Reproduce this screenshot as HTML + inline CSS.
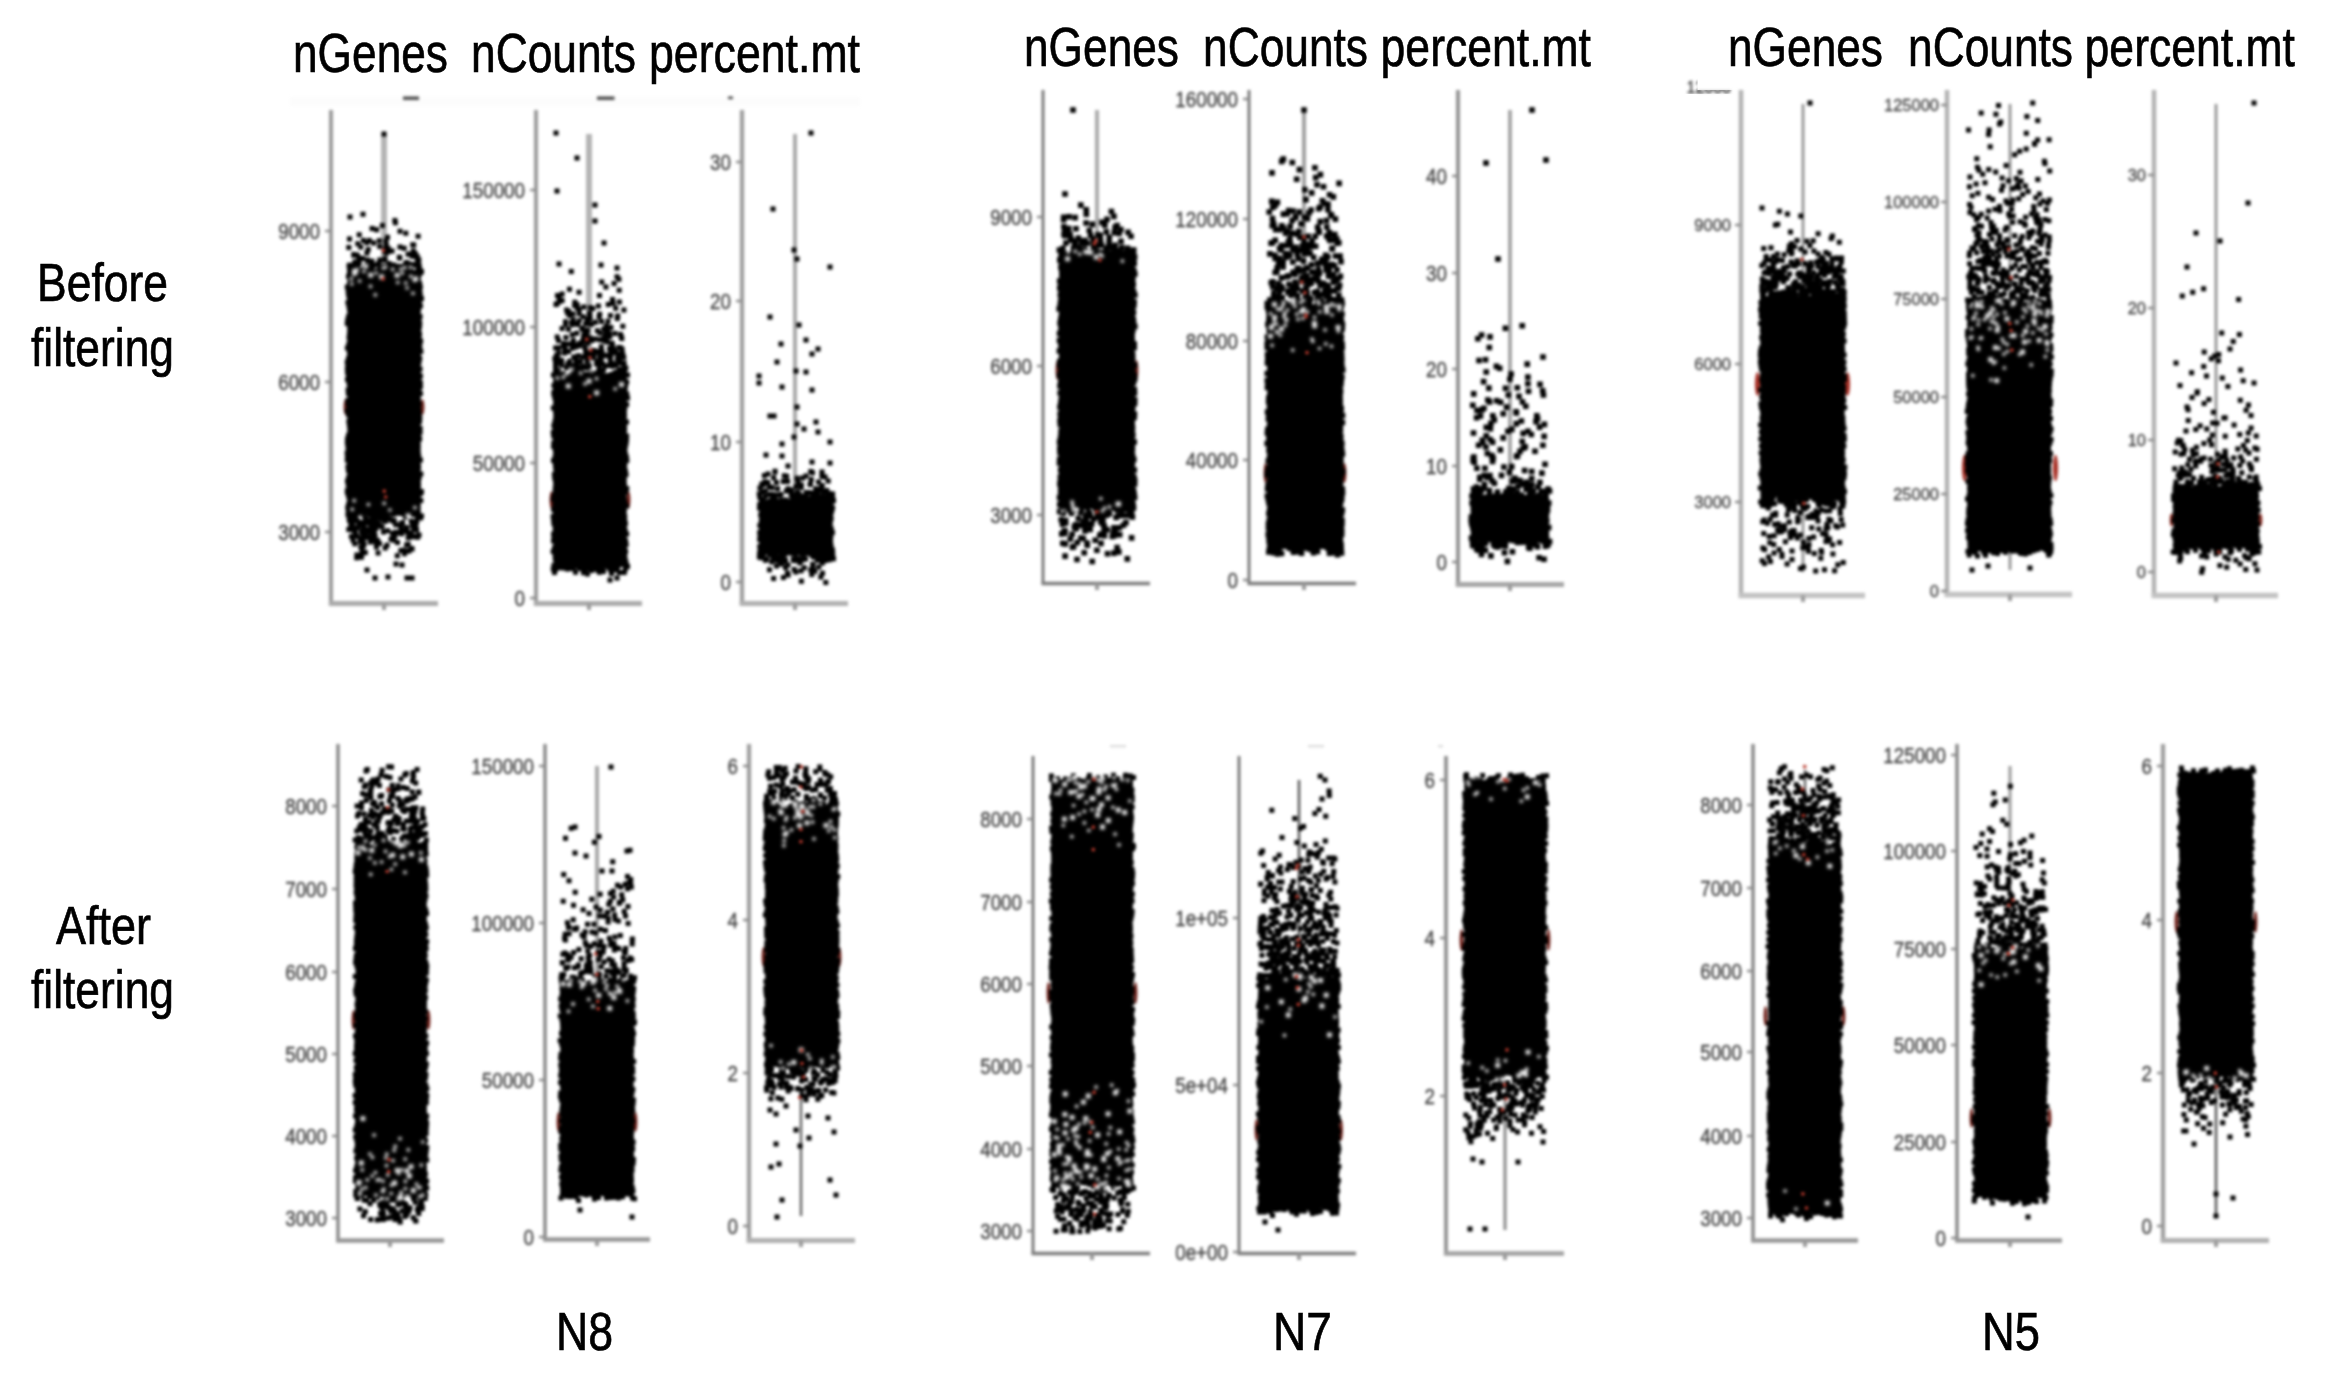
<!DOCTYPE html>
<html><head><meta charset="utf-8"><title>QC violin plots</title>
<style>
html,body{margin:0;padding:0;background:#fff}
body{width:2349px;height:1377px;overflow:hidden}
svg{display:block;font-family:"Liberation Sans",sans-serif}
.pl{filter:blur(1.55px)}
.ax{filter:blur(1.6px)}
.d{stroke:#000;stroke-linecap:square;fill:none}
.hl{filter:blur(0.9px)}
.h{stroke:#fff;stroke-opacity:.92;stroke-linecap:square;fill:none}
.r{stroke:#b8392c;stroke-width:3.2;stroke-linecap:square;fill:none}
.tl{filter:blur(1.8px);fill:#3c3c3c;stroke:#3c3c3c;stroke-width:0.3px;text-anchor:end}
.big{fill:#000;stroke:#000;stroke-width:0.7px}
</style></head><body>
<svg width="2349" height="1377" viewBox="0 0 2349 1377">
<rect width="2349" height="1377" fill="#fff"/>
<g class="ax"><path d="M331 110V604" stroke="#989898" stroke-width="3.8720000000000003" fill="none"/>
<path d="M328.8 603.5H438" stroke="#aaaaaa" stroke-width="4.872" fill="none"/>
<path d="M384 603.5v6.5" stroke="#9a9a9a" stroke-width="4"/>
<path d="M331 231h-6M331 382h-6M331 532h-6" stroke="#8c8c8c" stroke-width="2.4"/></g>
<g class="pl">
<ellipse cx="345.5" cy="407" rx="1.9" ry="7.700000000000001" fill="#6e1f18"/>
<ellipse cx="422.5" cy="407" rx="1.9" ry="7.700000000000001" fill="#6e1f18"/>
<path d="M384 134V300" stroke="#b4b4b4" stroke-width="6"/>
<path d="M347.5 293.6L351.5 296.2L355.5 295.3L359.5 291.5L363.5 291.3L367.5 291.6L371.5 294.4L375.5 292L379.5 296L383.5 295.6L387.5 298.8L391.5 297.9L395.5 292.2L399.5 293.5L403.5 292.4L407.5 296.1L411.5 295.4L415.5 291.5L419.5 296.4L420.5 295L420.5 491L419.5 491.6L415.5 493.4L411.5 494.5L407.5 492L403.5 490.3L399.5 488.5L395.5 494.1L391.5 492.7L387.5 494.6L383.5 491.8L379.5 487.4L375.5 493.2L371.5 488.4L367.5 494.3L363.5 491.5L359.5 490.9L355.5 492.1L351.5 494.4L347.5 493.8Z" fill="#000"/>
<path d="M347.5 264.4L351.5 265L355.5 264.6L359.5 269.9L363.5 266L367.5 265.3L371.5 264.7L375.5 270.7L379.5 271L383.5 269.4L387.5 266.3L391.5 265.9L395.5 266.3L399.5 267.7L403.5 265.3L407.5 267.6L411.5 266.1L415.5 271.7L419.5 271.8L420.5 268L420.5 306L419.5 306L415.5 306L411.5 306L407.5 306L403.5 306L399.5 306L395.5 306L391.5 306L387.5 306L383.5 306L379.5 306L375.5 306L371.5 306L367.5 306L363.5 306L359.5 306L355.5 306L351.5 306L347.5 306Z" fill="#000"/>
<path d="M347.5 480L351.5 480L355.5 480L359.5 480L363.5 480L367.5 480L371.5 480L375.5 480L379.5 480L383.5 480L387.5 480L391.5 480L395.5 480L399.5 480L403.5 480L407.5 480L411.5 480L415.5 480L419.5 480L420.5 480L420.5 518L419.5 516.2L415.5 517.6L411.5 514.5L407.5 514.7L403.5 517L399.5 515.5L395.5 514.9L391.5 514.4L387.5 519L383.5 520.5L379.5 517.9L375.5 519.9L371.5 520L367.5 514.5L363.5 519.7L359.5 515.3L355.5 521.2L351.5 521.6L347.5 519.8Z" fill="#000"/>
<path class="d" stroke-width="5.0" d="M348.2 292h0M419.4 292h0M348.7 295.5h0M418.5 295.5h0M349.8 299h0M419.8 299h0M348 302.5h0M419.4 302.5h0M348.9 306h0M420.4 306h0M349.6 309.5h0M418.5 309.5h0M350.4 313h0M417.9 313h0M348.6 316.5h0M420 316.5h0M347.7 320h0M419.1 320h0M347.3 323.5h0M419.7 323.5h0M349.7 327h0M419.4 327h0M350.1 330.5h0M418.5 330.5h0M349.5 334h0M419.5 334h0M349.1 337.5h0M419 337.5h0M350 341h0M420.6 341h0M348.8 344.5h0M419.7 344.5h0M347.4 348h0M419.8 348h0M349.3 351.5h0M420.8 351.5h0M349.9 355h0M418.4 355h0M348.5 358.5h0M419.7 358.5h0M347.3 362h0M419 362h0M347.8 365.5h0M417.9 365.5h0M347.4 369h0M420 369h0M347.6 372.5h0M418.3 372.5h0M348.5 376h0M420.4 376h0M347.5 379.5h0M419 379.5h0M349 383h0M420.4 383h0M349.9 386.5h0M420.4 386.5h0M348.1 390h0M418.9 390h0M348.4 393.5h0M420.4 393.5h0M350.4 397h0M418 397h0M347.8 400.5h0M418.3 400.5h0M348 404h0M419.1 404h0M349.1 407.5h0M418.4 407.5h0M347.2 411h0M418.9 411h0M348.4 414.5h0M419.4 414.5h0M350.3 418h0M419.8 418h0M348.9 421.5h0M419.5 421.5h0M349.4 425h0M417.7 425h0M350.2 428.5h0M420.1 428.5h0M350.1 432h0M420.1 432h0M348.5 435.5h0M418.8 435.5h0M347.5 439h0M419.6 439h0M347.4 442.5h0M417.7 442.5h0M347.9 446h0M418 446h0M348.3 449.5h0M417.7 449.5h0M347.2 453h0M418 453h0M347.5 456.5h0M418.7 456.5h0M347.3 460h0M420.4 460h0M349.2 463.5h0M418 463.5h0M348 467h0M418.6 467h0M348.4 470.5h0M417.9 470.5h0M350 474h0M420.8 474h0M348.7 477.5h0M419.1 477.5h0M347.5 481h0M417.8 481h0M348.3 484.5h0M418.4 484.5h0M349.9 488h0M418 488h0M347.3 491.5h0M420.6 491.5h0M349.5 294.4h0M353.5 295.7h0M357.5 296.2h0M361.5 290.6h0M365.5 292.1h0M369.5 294h0M373.5 296.4h0M377.5 293.4h0M381.5 295.9h0M385.5 295.9h0M389.5 298.4h0M393.5 299.6h0M397.5 293h0M401.5 295.2h0M405.5 292.6h0M409.5 295.9h0M413.5 297.2h0M417.5 293.9h0M421.5 298.4h0M349.5 492h0M353.5 492.6h0M357.5 490.5h0M361.5 491.1h0M365.5 490.7h0M369.5 494h0M373.5 489.3h0M377.5 494.1h0M381.5 487.4h0M385.5 491.9h0M389.5 493.2h0M393.5 490.3h0M397.5 493.5h0M401.5 486.2h0M405.5 487.9h0M409.5 489.7h0M413.5 494.2h0M417.5 493.6h0M421.5 491.8h0M363 214.2h0M394.9 220.6h0M395.4 222.8h0M382.4 225.4h0M372.1 228.6h0M376.6 229.8h0M400 231.3h0M359.2 234.8h0M405.8 233.3h0M418.1 236.3h0M387.5 237.3h0M349.5 238.9h0M385.9 240.9h0M379.3 240.7h0M363.5 240.5h0M369.3 240.5h0M366.9 242.8h0M357.8 243.8h0M373.6 242.9h0M412.7 244.8h0M413.7 245h0M386.3 245h0M379.7 246.4h0M348.8 247.6h0M360.7 246.9h0M400 247.1h0M385.3 249.1h0M404.2 248.2h0M388.3 248.5h0M368.2 249.5h0M388.4 251.5h0M413.3 250.9h0M392 251h0M384.9 251.4h0M386.4 253h0M415.3 253.4h0M410.7 253.9h0M366.9 253.1h0M408.1 254.3h0M357.1 254.9h0M353.7 254.5h0M353.7 255.3h0M412.2 256.3h0M399.3 257.3h0M358.7 257.8h0M417.2 256.4h0M416.1 256.8h0M418.8 259.7h0M360 258.9h0M385.1 258.7h0M362.4 258.6h0M399.8 258h0M379.8 260h0M372 261.2h0M384.9 260.1h0M418.4 261.6h0M417.5 260.2h0M367.4 260.1h0M367.7 262.3h0M378.5 263.8h0M406.6 262.5h0M359.1 263.8h0M389 263.4h0M354.9 262.1h0M378.7 264.1h0M415.1 265.3h0M405.4 264.2h0M409.3 264.1h0M409.8 264.9h0M372.6 265.1h0M414.3 264.5h0M385.9 266.5h0M356.3 266.3h0M352.1 266.4h0M370.7 266.6h0M402.4 266.6h0M384 266.4h0M373.1 266h0M366.3 266h0M387.6 268.4h0M382.2 269.9h0M356 269.6h0M379.2 269h0M407.8 268.8h0M384.5 269.4h0M418.3 268.7h0M407.6 269.4h0M349.5 265.3h0M353.5 264.9h0M357.5 266.9h0M361.5 270h0M365.5 266.3h0M369.5 264.3h0M373.5 265h0M377.5 271.4h0M381.5 271.7h0M385.5 269.1h0M389.5 267h0M393.5 265h0M397.5 266.3h0M401.5 267h0M405.5 265.7h0M409.5 266.7h0M413.5 265.2h0M417.5 271.8h0M421.5 271.6h0M349.1 266h0M419.2 266h0M349.7 269.5h0M419.7 269.5h0M349.6 273h0M420.4 273h0M348.5 276.5h0M418.6 276.5h0M350.4 280h0M418 280h0M349.6 283.5h0M419.6 283.5h0M347.3 287h0M420.3 287h0M350.1 290.5h0M419.6 290.5h0M349.6 294h0M420.2 294h0M349.5 520.6h0M353.5 520.1h0M357.5 520.6h0M361.5 513.7h0M365.5 518.5h0M369.5 514.5h0M373.5 520.8h0M377.5 517.6h0M381.5 518.5h0M385.5 519.8h0M389.5 518.8h0M393.5 514.3h0M397.5 513.3h0M401.5 513.1h0M405.5 517h0M409.5 513.4h0M413.5 514.4h0M417.5 516.7h0M421.5 515.9h0M347.8 490h0M418 490h0M347.9 493.5h0M420.5 493.5h0M348.8 497h0M418.2 497h0M350.2 500.5h0M420.8 500.5h0M348.7 504h0M418 504h0M347.8 507.5h0M417.8 507.5h0M348.3 511h0M417.8 511h0M348 514.5h0M418.4 514.5h0M349.1 518h0M420.4 518h0M394.3 520.6h0M357.6 520.5h0M393.7 521.4h0M356.5 520.1h0M385.7 521.2h0M376.1 520.4h0M391.2 520h0M369.9 520.9h0M416.6 521.3h0M411.2 521h0M365.2 520.5h0M416.7 521.4h0M370.3 520h0M383.9 521.3h0M366.8 523.3h0M414.2 522.5h0M350.9 522.7h0M378.4 523.4h0M362.6 523.6h0M401 523h0M363.1 523.9h0M370.6 523.6h0M364.9 522.4h0M402.5 522.6h0M416.1 523h0M361.8 522.4h0M378.1 523.3h0M358.9 524.8h0M363.6 525.9h0M358.6 524.1h0M352.8 524.8h0M412.3 525.8h0M400.5 526h0M414.6 524.7h0M361.7 525.9h0M401.5 524.1h0M395.7 524.8h0M375 524.7h0M360.5 524h0M373.5 527.9h0M357.3 527.9h0M363.2 526.7h0M406.8 527.6h0M379.2 526.1h0M382.1 526.7h0M413.8 526.4h0M374.4 527.8h0M350.7 526.8h0M406.1 527.5h0M351.4 526.1h0M352.9 527.8h0M401.6 529.8h0M372.6 528.5h0M416.5 529.2h0M367.1 529.4h0M371 528.6h0M348.8 529.5h0M413.6 529.3h0M415.5 528h0M365.1 529h0M416.4 529.9h0M375.9 528.5h0M383.5 531.9h0M361.5 531.6h0M400.9 531.6h0M403.4 531.2h0M371.8 530.6h0M374.2 531.6h0M354.1 530.4h0M402 530.5h0M353.1 530.1h0M387.7 530.7h0M411.2 534h0M367.3 532.2h0M355.3 533h0M398.9 532.9h0M365.1 532.8h0M392.5 533.3h0M401.6 533.7h0M395.7 532.2h0M408.2 532.6h0M375 535.5h0M362.6 534.5h0M365.9 534.3h0M411.3 535.2h0M371.7 534.8h0M419 535h0M364.9 535.6h0M394.9 536h0M355.8 534.9h0M408.2 537.8h0M351.4 536.6h0M357 536.4h0M417.6 537.2h0M414.5 536.7h0M410 536.9h0M367 537.6h0M415.6 536.2h0M392.5 538.4h0M374.7 538.3h0M363 538.5h0M391.1 539.3h0M362.9 538h0M371.7 539.4h0M361.6 538.6h0M362.9 539.6h0M353 540.2h0M376.6 541.1h0M393.9 540.2h0M360.1 541.4h0M377.6 540.6h0M370.3 541.9h0M370.7 541.1h0M373.9 540.8h0M376 542.4h0M397.5 542.4h0M354.8 543.8h0M379.5 543.6h0M406.6 544.9h0M364.1 544h0M387 545.3h0M408.2 544.2h0M376.4 547h0M363.1 546.6h0M385.2 547.9h0M360.9 547h0M411.5 548.4h0M362 549.9h0M412.1 549h0M409.1 550.8h0M407.8 551.2h0M403.1 550.3h0M400.9 550.4h0M404.4 553.7h0M365.3 552.4h0M378.1 553h0M361.8 554.5h0M397.3 555.8h0M356.9 555.1h0M356.7 557.7h0M361.4 557.2h0M384 134h0M350 217h0M367 570h0M375 578h0M388 577h0M407 578h0M412 578h0M396 564h0M402 565h0"/>
<g class="hl">
<path class="h" stroke-width="3.2" d="M385.6 267h0M404.7 267.7h0M410.7 267.4h0M357.1 269.7h0M392.7 269.3h0M383.3 268h0M400.9 269h0M355.1 270.5h0M364 271.5h0M376 273h0M402.2 273.2h0M354.1 274.5h0M410.8 276.4h0M351.2 278.9h0M414.3 280.4h0M359.6 281h0M405.8 283h0M397.8 282.5h0M351.7 284h0M370.5 286.3h0M407.1 288h0M413 293.4h0M375.3 294.8h0M354.2 500.6h0M384.2 503.3h0M368.4 504.5h0M414.9 507.7h0M352.2 509.4h0M389.9 510h0M360.5 517h0M399.1 519.3h0"/>
<path class="h" stroke-width="4.8" d="M365.6 266.1h0M354.5 271.5h0M355.3 272.3h0M370.7 275.1h0M397.1 275.4h0M381.6 276.9h0M415.8 278.9h0M408.2 515.9h0"/>
</g>
<path class="r" d="M383.4 250.4h0M383.2 278.8h0M384.3 491.2h0M385.7 497h0"/>
</g>
<g class="tl" font-size="20">
<text transform="translate(320 238.6) scale(0.94 1.1)">9000</text>
<text transform="translate(320 389.6) scale(0.94 1.1)">6000</text>
<text transform="translate(320 539.6) scale(0.94 1.1)">3000</text>
</g>
<g class="ax"><path d="M536 110V604" stroke="#989898" stroke-width="3.8720000000000003" fill="none"/>
<path d="M533.8 603.5H642" stroke="#aaaaaa" stroke-width="4.872" fill="none"/>
<path d="M589 603.5v6.5" stroke="#9a9a9a" stroke-width="4"/>
<path d="M536 190h-6M536 327h-6M536 463h-6M536 598h-6" stroke="#8c8c8c" stroke-width="2.4"/></g>
<g class="pl">
<ellipse cx="551.5" cy="500" rx="1.9" ry="8.8" fill="#6e1f18"/>
<ellipse cx="628.5" cy="500" rx="1.9" ry="8.8" fill="#6e1f18"/>
<path d="M589 134V370" stroke="#b4b4b4" stroke-width="6"/>
<path d="M553.5 398L557.5 396.4L561.5 396.4L565.5 396.6L569.5 393.2L573.5 396.9L577.5 399.1L581.5 396.7L585.5 396.8L589.5 394L593.5 393.7L597.5 397.1L601.5 398.1L605.5 398.9L609.5 397.1L613.5 397L617.5 400.6L621.5 399.9L625.5 398.9L626.5 397L626.5 570L625.5 567.5L621.5 566L617.5 572.9L613.5 571L609.5 573.6L605.5 567.8L601.5 573.3L597.5 573.7L593.5 570.5L589.5 570.6L585.5 573.1L581.5 572.6L577.5 567.8L573.5 572.1L569.5 569L565.5 570.5L561.5 568.7L557.5 569.3L553.5 571.6Z" fill="#000"/>
<path d="M553.5 369.3L557.5 369.1L561.5 372.3L565.5 373.6L569.5 372.3L573.5 370.5L577.5 368.3L581.5 366.5L585.5 373.8L589.5 371.6L593.5 372.6L597.5 368.7L601.5 370.8L605.5 373.8L609.5 372.7L613.5 370.8L617.5 368.5L621.5 369.4L625.5 373.1L626.5 370L626.5 408L625.5 408L621.5 408L617.5 408L613.5 408L609.5 408L605.5 408L601.5 408L597.5 408L593.5 408L589.5 408L585.5 408L581.5 408L577.5 408L573.5 408L569.5 408L565.5 408L561.5 408L557.5 408L553.5 408Z" fill="#000"/>
<path class="d" stroke-width="5.0" d="M553.8 394h0M626.7 394h0M554.8 397.5h0M626.7 397.5h0M556.2 401h0M624 401h0M555.8 404.5h0M626.6 404.5h0M553.4 408h0M624.7 408h0M555.7 411.5h0M624 411.5h0M556.2 415h0M624.4 415h0M555.9 418.5h0M624 418.5h0M554.9 422h0M626.5 422h0M553.9 425.5h0M624.4 425.5h0M554.9 429h0M624.6 429h0M553.3 432.5h0M624.1 432.5h0M553.7 436h0M626.6 436h0M555.4 439.5h0M626.5 439.5h0M553.8 443h0M626.1 443h0M553.6 446.5h0M625.3 446.5h0M555.3 450h0M624.7 450h0M556.1 453.5h0M625.3 453.5h0M555.1 457h0M626.4 457h0M553.5 460.5h0M626.8 460.5h0M555.3 464h0M624.8 464h0M555.8 467.5h0M624.4 467.5h0M556.5 471h0M625.4 471h0M554.4 474.5h0M626 474.5h0M554.7 478h0M624.1 478h0M555.7 481.5h0M623.7 481.5h0M555.9 485h0M624.3 485h0M555.3 488.5h0M626.7 488.5h0M555.1 492h0M625.7 492h0M554.2 495.5h0M623.5 495.5h0M553.3 499h0M624 499h0M555.2 502.5h0M624.9 502.5h0M554.9 506h0M626.5 506h0M553.6 509.5h0M624.2 509.5h0M555.4 513h0M623.6 513h0M553.2 516.5h0M624.7 516.5h0M553.6 520h0M624.7 520h0M553.9 523.5h0M625.4 523.5h0M555.1 527h0M624.2 527h0M555.3 530.5h0M625.1 530.5h0M553.6 534h0M626.6 534h0M554 537.5h0M624 537.5h0M553.5 541h0M625.6 541h0M556.1 544.5h0M626.1 544.5h0M554.5 548h0M624.4 548h0M553.2 551.5h0M625.6 551.5h0M555.1 555h0M624.7 555h0M555.3 558.5h0M625 558.5h0M556.3 562h0M625.9 562h0M554 565.5h0M626.5 565.5h0M553.3 569h0M625.3 569h0M554.5 572.5h0M624.3 572.5h0M555.5 397.2h0M559.5 398.1h0M563.5 395.4h0M567.5 397.5h0M571.5 395.5h0M575.5 396.4h0M579.5 398.8h0M583.5 397.8h0M587.5 397.6h0M591.5 395.3h0M595.5 395.6h0M599.5 396.7h0M603.5 398.2h0M607.5 398.9h0M611.5 396.3h0M615.5 399.1h0M619.5 402.3h0M623.5 401.4h0M627.5 397.9h0M555.5 569.6h0M559.5 567.7h0M563.5 568.1h0M567.5 568.9h0M571.5 568.5h0M575.5 572.3h0M579.5 568.4h0M583.5 572.8h0M587.5 574h0M591.5 570.4h0M595.5 568.8h0M599.5 572.2h0M603.5 571.4h0M607.5 566.3h0M611.5 573.6h0M615.5 570h0M619.5 572.4h0M623.5 564.3h0M627.5 566.6h0M617 268h0M571.3 271.5h0M617 276.7h0M618.9 279.3h0M601.7 282h0M614.1 283.4h0M605.9 287.1h0M569.5 289.2h0M619.2 290.3h0M562.1 293.9h0M579 292.3h0M557.5 295.4h0M599.5 295.4h0M559.2 297.2h0M612.5 299.6h0M559.2 301.7h0M619.4 301.9h0M562.1 300.4h0M556.9 303.7h0M612.2 303.3h0M613.1 303.3h0M574.9 302.2h0M608.3 304.4h0M577.2 304.8h0M556 304.5h0M574.6 305.4h0M577.3 307.9h0M590.3 307.7h0M598.4 306.1h0M583.8 306.9h0M579.1 309.4h0M592.7 308.4h0M615.7 308.2h0M566.6 310h0M568.8 311.5h0M623.9 310h0M589.4 313.6h0M567.6 313h0M579.2 313.7h0M573 313.9h0M569.7 315.4h0M589.9 314.2h0M599.7 314.2h0M610.4 315.4h0M599.1 316.7h0M583 316.8h0M617.7 316.2h0M617.6 316.1h0M573.2 319.8h0M590.1 318.8h0M617.3 318.5h0M587.2 319.1h0M608 321.3h0M579.2 320.7h0M565.5 321.7h0M601.5 321.5h0M585.7 323.5h0M595.6 322.3h0M587.3 323.8h0M571.4 322.4h0M575.9 323.4h0M565.5 324.3h0M572.1 324.7h0M591.6 324.3h0M577.8 324.4h0M606.2 326.2h0M622.8 326.2h0M581.8 328h0M610.9 327.5h0M568.4 329.3h0M562.1 328.4h0M582.1 328.1h0M582.8 329.6h0M603.7 329h0M587.4 330.3h0M597.4 330.8h0M607.1 331.8h0M585 331.1h0M607.7 330.8h0M605.8 333.8h0M609.5 333.4h0M615 333.4h0M600 332.9h0M576.7 333.3h0M584.3 335.6h0M605.1 335.3h0M572.3 334.8h0M586.8 335.2h0M583.6 335.4h0M620.5 334.4h0M609.8 336.8h0M589.3 337.9h0M557.2 337.1h0M565.9 337.6h0M621.3 337h0M595.3 339.1h0M605.4 339h0M599.9 339.7h0M591.5 338.8h0M621.8 338.4h0M603.1 338.8h0M558.5 340.5h0M582.9 340h0M584.2 340.8h0M604.1 340.7h0M573.3 340.4h0M607.1 341.9h0M591.9 340.4h0M582.3 342.4h0M563.7 343.6h0M612 343.3h0M587.8 343.1h0M570.5 343.9h0M579.6 343.3h0M612.4 344.9h0M575.4 345.1h0M563.4 345.7h0M579.7 345.7h0M573.5 344.8h0M572.5 344.9h0M567.7 344h0M574.5 346.5h0M575.9 347h0M584.9 347.3h0M601.3 346.7h0M620.4 347.7h0M558.6 347.7h0M618.8 347.6h0M613.5 349.3h0M555.6 348h0M622.1 349.3h0M572.3 348.2h0M564.6 348.5h0M609.6 348.7h0M565.3 349.8h0M610.7 348.3h0M597.7 351.6h0M602 351.8h0M610.5 351.7h0M568.5 351.4h0M592.2 351.5h0M585.6 351.8h0M593.9 350.5h0M564.4 353h0M558.7 352.9h0M564.8 353h0M589.9 353.1h0M615.8 352h0M614.2 352.9h0M594.4 353.3h0M614.2 352.7h0M622.7 354.2h0M599.7 355.3h0M556.5 355.2h0M603 355.9h0M578 356h0M590.8 355h0M618.2 354.1h0M605.5 355.3h0M578.5 355.7h0M588.2 357.1h0M609.2 356.4h0M585.4 356.8h0M593.8 357.7h0M575.3 357.7h0M583.2 357h0M573.8 357h0M623.7 357.3h0M610.7 356.7h0M575.7 359.2h0M599.6 359.6h0M557.3 359.4h0M617.4 359.1h0M558 358.6h0M554.9 358.4h0M619.9 359.2h0M601.2 359.6h0M619.1 359.2h0M599 361.4h0M596.8 361.4h0M569.6 361.3h0M587 361.5h0M561.7 360.4h0M557.1 361.5h0M619.4 361.3h0M580.7 361.6h0M610.3 361.1h0M575.9 362.8h0M577.1 362.9h0M600.1 363.9h0M558.4 363.1h0M557.3 362.2h0M612 363.2h0M619.7 362.9h0M555.5 362.8h0M596.5 363.9h0M624.1 363h0M561.7 365.3h0M569.6 364.3h0M555.6 364h0M603 364.2h0M623.1 364.2h0M616.2 364.3h0M555.8 365.4h0M571.7 365.5h0M567.8 364.1h0M609.5 365.4h0M615.2 365.5h0M599.1 367.4h0M587.2 367.9h0M572.5 367.9h0M605.4 366h0M555.5 367.3h0M612.5 366.2h0M576.6 367.5h0M566.3 367.7h0M589 366.1h0M580.6 367.1h0M585.6 367.4h0M555.5 369.7h0M559.5 370.5h0M563.5 373.4h0M567.5 375.7h0M571.5 374.1h0M575.5 370.5h0M579.5 367.3h0M583.5 366.4h0M587.5 374.3h0M591.5 372.7h0M595.5 374.5h0M599.5 370.8h0M603.5 370h0M607.5 375.7h0M611.5 374.5h0M615.5 372.8h0M619.5 369.5h0M623.5 369.4h0M627.5 375.1h0M555.9 368h0M625.8 368h0M556.2 371.5h0M624.6 371.5h0M553.5 375h0M625.3 375h0M555.8 378.5h0M624.2 378.5h0M555.7 382h0M626.6 382h0M554 385.5h0M625.5 385.5h0M555.4 389h0M625 389h0M553.9 392.5h0M624.3 392.5h0M555.7 396h0M626.1 396h0M556 133h0M577 158h0M557 191h0M595 205h0M595 221h0M604 243h0M559 264h0M601 265h0M617 578h0M610 580h0"/>
<g class="hl">
<path class="h" stroke-width="3.2" d="M562 369.6h0M571.8 369.2h0M591.5 371h0M569.1 372.4h0M580.7 373.1h0M566.1 374.1h0M563.2 377.3h0M596.6 378.7h0M557.4 378.1h0M585 383.9h0M615.2 388.9h0"/>
<path class="h" stroke-width="4.8" d="M589.1 381.1h0M621.5 384.5h0M568.3 386.2h0M596.7 392.8h0"/>
</g>
<path class="r" d="M586.7 339.4h0M590.8 350.2h0M589.9 357.6h0M589.8 396.7h0"/>
</g>
<g class="tl" font-size="20">
<text transform="translate(525 197.6) scale(0.94 1.1)">150000</text>
<text transform="translate(525 334.6) scale(0.94 1.1)">100000</text>
<text transform="translate(525 470.6) scale(0.94 1.1)">50000</text>
<text transform="translate(525 605.6) scale(0.94 1.1)">0</text>
</g>
<g class="ax"><path d="M742 110V604" stroke="#9e9e9e" stroke-width="4.224" fill="none"/>
<path d="M739.6 603.5H848" stroke="#b0b0b0" stroke-width="5.224" fill="none"/>
<path d="M795 603.5v6.5" stroke="#9a9a9a" stroke-width="4"/>
<path d="M742 162h-6M742 301h-6M742 442h-6M742 582h-6" stroke="#8c8c8c" stroke-width="2.4"/></g>
<g class="pl">
<path d="M795 134V500" stroke="#a8a8a8" stroke-width="4"/>
<path d="M759.5 498.4L763.5 496.6L767.5 500.7L771.5 494.8L775.5 495L779.5 500.2L783.5 499.7L787.5 499.3L791.5 498.2L795.5 493.4L799.5 499L803.5 498.4L807.5 497.7L811.5 493.8L815.5 495.1L819.5 496.9L823.5 494.9L827.5 498.4L831.5 498.7L832.5 497L832.5 557L831.5 559.4L827.5 560.9L823.5 559.9L819.5 559.7L815.5 560L811.5 558.4L807.5 554.9L803.5 558.6L799.5 553.5L795.5 559.8L791.5 553.1L787.5 555.3L783.5 560.6L779.5 553.8L775.5 558.2L771.5 560.7L767.5 553.1L763.5 559.7L759.5 557.9Z" fill="#000"/>
<path class="d" stroke-width="5.0" d="M759.3 494h0M832.6 494h0M759.9 497.5h0M832.6 497.5h0M762.1 501h0M832.4 501h0M759.7 504.5h0M831 504.5h0M759.5 508h0M832.6 508h0M762 511.5h0M831.6 511.5h0M760.7 515h0M830.6 515h0M761.9 518.5h0M831.1 518.5h0M761.3 522h0M830 522h0M759.9 525.5h0M829.7 525.5h0M761.6 529h0M831.3 529h0M759.7 532.5h0M832.4 532.5h0M760.1 536h0M830.9 536h0M759.7 539.5h0M830.4 539.5h0M762 543h0M830.6 543h0M759.8 546.5h0M831.1 546.5h0M760.2 550h0M832.5 550h0M759.6 553.5h0M832.7 553.5h0M759.4 557h0M832.5 557h0M761.5 499.7h0M765.5 496.3h0M769.5 501.4h0M773.5 494.8h0M777.5 494.9h0M781.5 499.9h0M785.5 500h0M789.5 501.8h0M793.5 500.7h0M797.5 495.7h0M801.5 498.4h0M805.5 498.4h0M809.5 499.9h0M813.5 493h0M817.5 496.6h0M821.5 496.9h0M825.5 497.3h0M829.5 497.5h0M833.5 500.6h0M761.5 557.7h0M765.5 560.2h0M769.5 554.1h0M773.5 558.8h0M777.5 557.3h0M781.5 554.1h0M785.5 560.1h0M789.5 553.1h0M793.5 553.4h0M797.5 558.8h0M801.5 554h0M805.5 559h0M809.5 553.2h0M813.5 556.9h0M817.5 560.3h0M821.5 560.4h0M825.5 560.5h0M829.5 559.8h0M833.5 558.7h0M775.1 471.2h0M810.8 471.6h0M774.9 472.1h0M812.5 472.8h0M764.4 475.6h0M784.3 475.7h0M821.9 475h0M825.1 477h0M822.4 476.5h0M773.7 477.7h0M786.6 476.3h0M802.7 478h0M797.4 478.9h0M797.1 478.2h0M811.2 479.6h0M783.3 481.4h0M787.6 481.5h0M764.8 481.7h0M828.2 481h0M798.2 483.1h0M762 483.9h0M776.4 482.4h0M767.8 482.5h0M818.5 482.1h0M810.1 484.4h0M761.8 485.2h0M801.4 485h0M810.4 484.2h0M822.2 485.4h0M763.7 484.2h0M796.1 486.6h0M769.2 486.8h0M770.2 487.2h0M821.6 486.3h0M801.2 487.5h0M772.2 487.7h0M788.1 488.8h0M820.1 489.1h0M788.6 489.9h0M815.7 488.7h0M777.6 488.7h0M791.4 490h0M825.3 491.6h0M820.7 490.1h0M797.2 491.9h0M826.8 490.5h0M790.5 491.3h0M786.4 491.1h0M765.4 490.9h0M762 492.3h0M829.3 493.6h0M827 493.3h0M818 493.8h0M823.3 492.1h0M806.1 492.5h0M808.7 492.5h0M799 493.8h0M778.3 495h0M791.3 495.9h0M780.9 494.6h0M806.5 494.2h0M802.7 495.9h0M797 494.5h0M793.6 495.1h0M771 494.2h0M769.8 494.6h0M781 558.5h0M766.7 559.1h0M820.1 559.2h0M801 559.3h0M774.8 559.4h0M793.2 559.1h0M793.8 560.6h0M777.7 560.4h0M796.9 560.8h0M802.1 560h0M785.5 561.7h0M800 563h0M780.7 564h0M781.5 563.5h0M771.8 562.1h0M822.4 562.9h0M788 564.9h0M812.7 564.2h0M776.5 565.9h0M812.9 564.3h0M785.5 567.4h0M804.3 567.7h0M818.8 567h0M813 567.5h0M794.2 569.6h0M810.8 569.8h0M769.5 569.7h0M814.9 571.2h0M795.8 571.9h0M801.1 570.8h0M822.5 573.2h0M787.4 572.9h0M811.8 574.6h0M788.2 575.1h0M783.4 577.6h0M820.8 577h0M773.6 578.6h0M801.4 581.2h0M825.8 582.6h0M811 133h0M773 209h0M794 250h0M797 259h0M830 267h0M770 317h0M799 325h0M781 344h0M806 340h0M818 349h0M812 354h0M777 362h0M796 371h0M806 372h0M759 376h0M759 383h0M782 387h0M812 390h0M797 407h0M770 416h0M774 416h0M797 424h0M804 429h0M816 422h0M818 432h0M830 442h0M782 444h0M794 437h0M766 455h0M782 456h0M830 463h0M822 472h0M768 474h0M806 476h0M760 488h0M788 466h0M812 462h0"/>
</g>
<g class="tl" font-size="20">
<text transform="translate(731 169.6) scale(0.94 1.1)">30</text>
<text transform="translate(731 308.6) scale(0.94 1.1)">20</text>
<text transform="translate(731 449.6) scale(0.94 1.1)">10</text>
<text transform="translate(731 589.6) scale(0.94 1.1)">0</text>
</g>
<g class="ax"><path d="M1043 90V584" stroke="#696969" stroke-width="2.64" fill="none"/>
<path d="M1041.5 583.5H1150" stroke="#7b7b7b" stroke-width="3.64" fill="none"/>
<path d="M1097 583.5v6.5" stroke="#9a9a9a" stroke-width="4"/>
<path d="M1043 217h-6M1043 366h-6M1043 515h-6" stroke="#8c8c8c" stroke-width="2.4"/></g>
<g class="pl">
<ellipse cx="1057.5" cy="370" rx="1.9" ry="9.9" fill="#6e1f18"/>
<ellipse cx="1136.5" cy="370" rx="1.9" ry="9.9" fill="#6e1f18"/>
<path d="M1097 110V262" stroke="#aaaaaa" stroke-width="4"/>
<path d="M1059.5 265.7L1063.5 266.7L1067.5 262.4L1071.5 259.1L1075.5 263.5L1079.5 266.4L1083.5 263.3L1087.5 263.1L1091.5 264.5L1095.5 261.9L1099.5 261.8L1103.5 264.4L1107.5 259.8L1111.5 262.2L1115.5 263.6L1119.5 266.7L1123.5 262.5L1127.5 267L1131.5 263.2L1134.5 263L1134.5 495L1131.5 492.5L1127.5 496.3L1123.5 494L1119.5 495.1L1115.5 492L1111.5 494.5L1107.5 496L1103.5 494.8L1099.5 491.4L1095.5 494.2L1091.5 495.9L1087.5 494.9L1083.5 491L1079.5 492.8L1075.5 495L1071.5 498.6L1067.5 491.7L1063.5 497.4L1059.5 492.3Z" fill="#000"/>
<path d="M1059.5 249.3L1063.5 251.5L1067.5 255.8L1071.5 248.7L1075.5 248.3L1079.5 251.5L1083.5 249.5L1087.5 253.8L1091.5 248L1095.5 254.7L1099.5 254.8L1103.5 254.3L1107.5 251.4L1111.5 250.3L1115.5 253.3L1119.5 252.1L1123.5 251.4L1127.5 250.7L1131.5 251.5L1134.5 252L1134.5 274L1131.5 274L1127.5 274L1123.5 274L1119.5 274L1115.5 274L1111.5 274L1107.5 274L1103.5 274L1099.5 274L1095.5 274L1091.5 274L1087.5 274L1083.5 274L1079.5 274L1075.5 274L1071.5 274L1067.5 274L1063.5 274L1059.5 274Z" fill="#000"/>
<path d="M1059.5 484L1063.5 484L1067.5 484L1071.5 484L1075.5 484L1079.5 484L1083.5 484L1087.5 484L1091.5 484L1095.5 484L1099.5 484L1103.5 484L1107.5 484L1111.5 484L1115.5 484L1119.5 484L1123.5 484L1127.5 484L1131.5 484L1134.5 484L1134.5 510L1131.5 506.9L1127.5 510.6L1123.5 508.3L1119.5 511.6L1115.5 512.3L1111.5 509.2L1107.5 513.9L1103.5 511L1099.5 512.1L1095.5 513.5L1091.5 507.8L1087.5 512.9L1083.5 507.8L1079.5 509.5L1075.5 506.3L1071.5 512.6L1067.5 510.9L1063.5 507.4L1059.5 513.2Z" fill="#000"/>
<path class="d" stroke-width="5.6" d="M1059.8 260h0M1132.5 260h0M1062.4 263.5h0M1134.2 263.5h0M1060.9 267h0M1131.9 267h0M1062.2 270.5h0M1133.8 270.5h0M1061.9 274h0M1134.8 274h0M1062.1 277.5h0M1132.9 277.5h0M1059.7 281h0M1132.5 281h0M1060.9 284.5h0M1133.2 284.5h0M1059.8 288h0M1132.1 288h0M1061.3 291.5h0M1133.5 291.5h0M1060.4 295h0M1134.8 295h0M1061.3 298.5h0M1131.6 298.5h0M1060.6 302h0M1134.1 302h0M1060.2 305.5h0M1133.8 305.5h0M1059.2 309h0M1132.5 309h0M1062 312.5h0M1133.4 312.5h0M1061.4 316h0M1132.1 316h0M1060.8 319.5h0M1133.3 319.5h0M1060.1 323h0M1133.6 323h0M1061 326.5h0M1134.8 326.5h0M1061.1 330h0M1132.9 330h0M1059.6 333.5h0M1132 333.5h0M1061.7 337h0M1131.9 337h0M1059.5 340.5h0M1132.1 340.5h0M1060.9 344h0M1134.2 344h0M1061.2 347.5h0M1134.2 347.5h0M1059.4 351h0M1131.5 351h0M1061.7 354.5h0M1132.6 354.5h0M1061.6 358h0M1132.7 358h0M1059.8 361.5h0M1132.4 361.5h0M1059.5 365h0M1134.5 365h0M1061.1 368.5h0M1132.7 368.5h0M1060.7 372h0M1132.8 372h0M1059.4 375.5h0M1134.4 375.5h0M1061.1 379h0M1134.7 379h0M1060.7 382.5h0M1133.5 382.5h0M1060 386h0M1131.6 386h0M1062.3 389.5h0M1134.3 389.5h0M1060.2 393h0M1134.5 393h0M1061.9 396.5h0M1132.5 396.5h0M1061.2 400h0M1134.7 400h0M1060.8 403.5h0M1134.6 403.5h0M1060 407h0M1132.8 407h0M1061.6 410.5h0M1132.2 410.5h0M1060.2 414h0M1134.4 414h0M1060.8 417.5h0M1134.1 417.5h0M1060 421h0M1132.1 421h0M1060.4 424.5h0M1132.1 424.5h0M1062.4 428h0M1132.5 428h0M1061.1 431.5h0M1131.9 431.5h0M1061 435h0M1132.8 435h0M1060.5 438.5h0M1131.7 438.5h0M1059.6 442h0M1134.2 442h0M1060.4 445.5h0M1132.3 445.5h0M1059.8 449h0M1132.4 449h0M1060 452.5h0M1131.6 452.5h0M1061.4 456h0M1132.6 456h0M1059.7 459.5h0M1133.8 459.5h0M1059.5 463h0M1132.4 463h0M1062 466.5h0M1131.9 466.5h0M1060.7 470h0M1134.3 470h0M1061.9 473.5h0M1132 473.5h0M1060.4 477h0M1133.9 477h0M1060.4 480.5h0M1134.7 480.5h0M1059.9 484h0M1134.6 484h0M1060.9 487.5h0M1132.3 487.5h0M1060.7 491h0M1131.9 491h0M1061.5 494.5h0M1132.4 494.5h0M1061.5 267.9h0M1065.5 267.7h0M1069.5 262.7h0M1073.5 258.9h0M1077.5 264.6h0M1081.5 266.1h0M1085.5 265.4h0M1089.5 262.6h0M1093.5 265.3h0M1097.5 262.8h0M1101.5 261.8h0M1105.5 266.1h0M1109.5 260.1h0M1113.5 263.5h0M1117.5 264.6h0M1121.5 266.8h0M1125.5 262.9h0M1129.5 266.3h0M1133.5 262.9h0M1061.5 490.3h0M1065.5 497.2h0M1069.5 490.4h0M1073.5 499.2h0M1077.5 494.1h0M1081.5 492.5h0M1085.5 490.3h0M1089.5 494.8h0M1093.5 496.7h0M1097.5 494.2h0M1101.5 491.6h0M1105.5 495.4h0M1109.5 494.5h0M1113.5 494.5h0M1117.5 491.5h0M1121.5 492.9h0M1125.5 492.3h0M1129.5 494.2h0M1133.5 490.5h0M1080.8 205.1h0M1086.2 209.8h0M1111.4 211.5h0M1086.3 214.3h0M1069.1 216.8h0M1113.9 216.4h0M1063.7 217.3h0M1075.1 217.6h0M1063.6 219.6h0M1107 219.4h0M1102.1 222.4h0M1092.3 224.4h0M1086.1 223h0M1117 225.6h0M1063.9 226.7h0M1104.8 225.1h0M1068.8 228.6h0M1076 228.8h0M1115.1 227.2h0M1089.3 230.5h0M1120.8 229.6h0M1067.3 230.9h0M1128.1 232.4h0M1114.3 232.7h0M1106.3 231.9h0M1064.7 232.4h0M1097.9 234.9h0M1070 234.5h0M1064 234.4h0M1119.1 233.5h0M1131 236.3h0M1100.2 235.5h0M1065.1 235.7h0M1090.6 235.4h0M1070.7 238.4h0M1109.3 237.5h0M1078.3 238h0M1093 238.9h0M1082.5 240.8h0M1071.1 240.1h0M1085 240.6h0M1100.5 240.5h0M1109.1 242.2h0M1094.2 242.5h0M1121 241.2h0M1081.7 241.7h0M1075.7 241.1h0M1075.1 244.4h0M1093.2 243.2h0M1084.3 243.9h0M1087.1 243.3h0M1066 243h0M1115.1 245.2h0M1112.7 247h0M1101.6 245.2h0M1096.2 245.9h0M1074.5 246.1h0M1127.4 248.3h0M1106.2 248.9h0M1108 247.5h0M1078.6 247.3h0M1062.8 248.5h0M1121.6 247.6h0M1107 250.7h0M1127.9 249.3h0M1117.6 250.7h0M1114.5 249.7h0M1074.2 250.7h0M1084 249.7h0M1087.5 252.7h0M1078.1 251.1h0M1101.8 252.3h0M1120.1 252.4h0M1126.3 252.9h0M1096.6 252h0M1061.5 250.6h0M1065.5 253.4h0M1069.5 257.9h0M1073.5 248.3h0M1077.5 248.4h0M1081.5 252.1h0M1085.5 250.5h0M1089.5 254h0M1093.5 247.7h0M1097.5 254h0M1101.5 255h0M1105.5 254.9h0M1109.5 253.8h0M1113.5 252.4h0M1117.5 255.3h0M1121.5 254.5h0M1125.5 253.7h0M1129.5 251.9h0M1133.5 253.3h0M1059.4 250h0M1133.7 250h0M1061.2 253.5h0M1132.5 253.5h0M1061.1 257h0M1134.6 257h0M1060.8 260.5h0M1133.6 260.5h0M1061.5 512h0M1065.5 505.3h0M1069.5 509.9h0M1073.5 510.4h0M1077.5 504.3h0M1081.5 509.9h0M1085.5 506.2h0M1089.5 512.7h0M1093.5 506.1h0M1097.5 512.2h0M1101.5 510.2h0M1105.5 511.6h0M1109.5 513.6h0M1113.5 507.7h0M1117.5 510h0M1121.5 510.1h0M1125.5 509.2h0M1129.5 509.5h0M1133.5 507.5h0M1061 494h0M1134.1 494h0M1059.6 497.5h0M1134.6 497.5h0M1061.4 501h0M1132.3 501h0M1059.8 504.5h0M1133 504.5h0M1062 508h0M1133.4 508h0M1059.6 511.5h0M1131.6 511.5h0M1071.4 513.3h0M1080.5 512.5h0M1097 512.5h0M1102 513.1h0M1130.1 514h0M1063.3 513.1h0M1124 515.5h0M1106.6 515.3h0M1087.1 514.6h0M1118.4 515.7h0M1128.8 515.4h0M1116.1 517.5h0M1097.6 517.3h0M1086.2 517.1h0M1090.2 516.1h0M1085.2 516.6h0M1132.4 517h0M1078.4 518.5h0M1086.1 518.3h0M1061.3 519.7h0M1093.6 518.9h0M1102 518.6h0M1065.6 520.6h0M1083.1 521.5h0M1100.7 521.9h0M1085.4 521.8h0M1103 520.2h0M1102.8 524h0M1086.6 523.5h0M1091.8 523.7h0M1065.7 523h0M1125.9 522.6h0M1062.5 524.3h0M1080.2 525.4h0M1076.6 524.8h0M1075.3 525.2h0M1123.4 525.3h0M1113.9 527.9h0M1104.3 526.2h0M1119.4 527.8h0M1085.5 526.3h0M1074.4 527.1h0M1107.1 529.8h0M1076.2 528.7h0M1115.1 529.3h0M1090.1 529.4h0M1065 530.8h0M1064.1 531.3h0M1085 531h0M1104.1 530.5h0M1061.8 533.9h0M1101.6 534h0M1064.9 533.2h0M1113.2 532.7h0M1072.1 534.3h0M1116.3 534.2h0M1119.7 534.8h0M1099.8 535.2h0M1104.4 535.7h0M1114.5 535.5h0M1112.3 536.5h0M1083.2 538.5h0M1131.6 537.9h0M1080.9 538h0M1070.3 539h0M1095.2 540.3h0M1087 543h0M1077.3 542.5h0M1062.8 543.3h0M1065.2 544h0M1101 543.4h0M1087.3 545.3h0M1073.6 546.5h0M1072.5 547.1h0M1117.1 547.5h0M1096.9 550.3h0M1118.8 551.9h0M1084.2 552.8h0M1113.9 553.1h0M1107.5 553.8h0M1065.1 556.1h0M1127.3 558.9h0M1077 559.5h0M1092.2 561.5h0M1073 110h0M1065 194h0"/>
<g class="hl">
<path class="h" stroke-width="3.2" d="M1075.2 251.4h0M1068 251.3h0M1091.1 253.1h0M1100.4 254.2h0M1079.7 254.2h0M1102.1 256.2h0M1122.4 261.1h0M1100.8 498.6h0M1072.1 501.8h0M1072.6 505h0M1109.6 506.8h0M1073.1 507.7h0M1104.8 508.2h0M1077.1 509.8h0M1073.9 510.7h0M1102.4 510.8h0M1062.4 511.2h0"/>
<path class="h" stroke-width="4.8" d="M1086 251.8h0M1089.7 252.2h0M1096.2 257.1h0M1067.6 258.8h0M1118.6 503.9h0M1118 504.1h0"/>
</g>
<path class="r" d="M1095.8 240.7h0M1094.5 243.6h0M1099.9 260.1h0M1096.8 511.8h0"/>
</g>
<g class="tl" font-size="20">
<text transform="translate(1032 224.6) scale(0.94 1.1)">9000</text>
<text transform="translate(1032 373.6) scale(0.94 1.1)">6000</text>
<text transform="translate(1032 522.6) scale(0.94 1.1)">3000</text>
</g>
<g class="ax"><path d="M1249 90V584" stroke="#696969" stroke-width="2.64" fill="none"/>
<path d="M1247.5 583.5H1356" stroke="#7b7b7b" stroke-width="3.64" fill="none"/>
<path d="M1304 583.5v6.5" stroke="#9a9a9a" stroke-width="4"/>
<path d="M1249 99h-6M1249 219h-6M1249 341h-6M1249 460h-6M1249 580h-6" stroke="#8c8c8c" stroke-width="2.4"/></g>
<g class="pl">
<ellipse cx="1265.5" cy="473" rx="1.9" ry="9.9" fill="#6e1f18"/>
<ellipse cx="1344.5" cy="473" rx="1.9" ry="9.9" fill="#6e1f18"/>
<path d="M1304 110V340" stroke="#a0a0a0" stroke-width="4"/>
<path d="M1267.5 356.6L1271.5 360.1L1275.5 363L1279.5 359.6L1283.5 361.9L1287.5 357.1L1291.5 361.6L1295.5 357.7L1299.5 362.1L1303.5 360.5L1307.5 358.6L1311.5 362.1L1315.5 362.1L1319.5 361.2L1323.5 356.5L1327.5 363L1331.5 355.2L1335.5 362.8L1339.5 362.3L1342.5 359L1342.5 551L1339.5 553.8L1335.5 554.9L1331.5 554.1L1327.5 552.6L1323.5 548.1L1319.5 548.1L1315.5 552.1L1311.5 553.3L1307.5 550.4L1303.5 550.2L1299.5 553.7L1295.5 551.1L1291.5 552.7L1287.5 549L1283.5 548L1279.5 553.7L1275.5 553.3L1271.5 552.6L1267.5 548.9Z" fill="#000"/>
<path d="M1267.5 303.6L1271.5 302.9L1275.5 300.2L1279.5 298.5L1283.5 302.8L1287.5 304.6L1291.5 300.2L1295.5 299.7L1299.5 299.8L1303.5 298.8L1307.5 303.4L1311.5 305.8L1315.5 304.4L1319.5 300.9L1323.5 303.6L1327.5 298.6L1331.5 304.7L1335.5 300.6L1339.5 298L1342.5 302L1342.5 330L1339.5 330L1335.5 330L1331.5 330L1327.5 330L1323.5 330L1319.5 330L1315.5 330L1311.5 330L1307.5 330L1303.5 330L1299.5 330L1295.5 330L1291.5 330L1287.5 330L1283.5 330L1279.5 330L1275.5 330L1271.5 330L1267.5 330Z" fill="#000"/>
<path d="M1267.5 330L1271.5 330L1275.5 330L1279.5 330L1283.5 330L1287.5 330L1291.5 330L1295.5 330L1299.5 330L1303.5 330L1307.5 330L1311.5 330L1315.5 330L1319.5 330L1323.5 330L1327.5 330L1331.5 330L1335.5 330L1339.5 330L1342.5 330L1342.5 370L1339.5 370L1335.5 370L1331.5 370L1327.5 370L1323.5 370L1319.5 370L1315.5 370L1311.5 370L1307.5 370L1303.5 370L1299.5 370L1295.5 370L1291.5 370L1287.5 370L1283.5 370L1279.5 370L1275.5 370L1271.5 370L1267.5 370Z" fill="#000"/>
<path class="d" stroke-width="5.6" d="M1269.6 356h0M1339.8 356h0M1267.8 359.5h0M1341.8 359.5h0M1267.5 363h0M1340.6 363h0M1270.2 366.5h0M1341.9 366.5h0M1270.1 370h0M1342.7 370h0M1267.3 373.5h0M1340.3 373.5h0M1269.8 377h0M1341.8 377h0M1267.3 380.5h0M1341.2 380.5h0M1268 384h0M1340.9 384h0M1267.5 387.5h0M1339.6 387.5h0M1270.5 391h0M1340.5 391h0M1270.1 394.5h0M1339.9 394.5h0M1268.8 398h0M1339.9 398h0M1268.6 401.5h0M1340.1 401.5h0M1269.5 405h0M1340 405h0M1269.6 408.5h0M1341.2 408.5h0M1267.6 412h0M1340.7 412h0M1268.8 415.5h0M1342.5 415.5h0M1268.4 419h0M1340.2 419h0M1270.4 422.5h0M1342.4 422.5h0M1269.6 426h0M1340.4 426h0M1267.8 429.5h0M1340.4 429.5h0M1267.4 433h0M1339.6 433h0M1268.9 436.5h0M1340.8 436.5h0M1269 440h0M1340.7 440h0M1267.2 443.5h0M1341.8 443.5h0M1269.4 447h0M1341.3 447h0M1269 450.5h0M1341.8 450.5h0M1270.4 454h0M1342.4 454h0M1269.6 457.5h0M1340.8 457.5h0M1268.3 461h0M1340.9 461h0M1270.4 464.5h0M1340.8 464.5h0M1268.5 468h0M1340.9 468h0M1267.7 471.5h0M1342.8 471.5h0M1267.2 475h0M1341.5 475h0M1270.3 478.5h0M1340.3 478.5h0M1269.2 482h0M1340.7 482h0M1268 485.5h0M1340.2 485.5h0M1267.6 489h0M1342.3 489h0M1269.8 492.5h0M1342.5 492.5h0M1267.4 496h0M1341.8 496h0M1268.3 499.5h0M1341.6 499.5h0M1269 503h0M1340.5 503h0M1270.4 506.5h0M1339.5 506.5h0M1269.7 510h0M1342.3 510h0M1268.9 513.5h0M1341.5 513.5h0M1270.5 517h0M1340.3 517h0M1269.3 520.5h0M1342 520.5h0M1268.5 524h0M1341.9 524h0M1268.5 527.5h0M1341.2 527.5h0M1269.2 531h0M1341.7 531h0M1268.3 534.5h0M1341.6 534.5h0M1269 538h0M1340.2 538h0M1269.2 541.5h0M1340.4 541.5h0M1270.2 545h0M1341.1 545h0M1269.6 548.5h0M1341.2 548.5h0M1268.8 552h0M1340.2 552h0M1269.5 356.1h0M1273.5 362.4h0M1277.5 363.8h0M1281.5 360.4h0M1285.5 362.8h0M1289.5 359h0M1293.5 361.4h0M1297.5 357.3h0M1301.5 364h0M1305.5 361.1h0M1309.5 359.9h0M1313.5 364h0M1317.5 364.2h0M1321.5 363.3h0M1325.5 355.6h0M1329.5 363.3h0M1333.5 357.1h0M1337.5 364.7h0M1341.5 361.7h0M1269.5 549.4h0M1273.5 552.7h0M1277.5 553.9h0M1281.5 553.5h0M1285.5 546.2h0M1289.5 548.2h0M1293.5 552.2h0M1297.5 551.8h0M1301.5 553.3h0M1305.5 547.7h0M1309.5 548.9h0M1313.5 552.7h0M1317.5 551.4h0M1321.5 546.3h0M1325.5 546.4h0M1329.5 553.1h0M1333.5 552.7h0M1337.5 554.6h0M1341.5 553h0M1283.3 159.1h0M1281.7 161.4h0M1292.3 162.5h0M1314.9 167.7h0M1299.4 169.6h0M1272 172.9h0M1320.4 174.6h0M1315.7 177.6h0M1296.7 179.2h0M1339.1 183.4h0M1317 184.7h0M1323.5 186.8h0M1304.8 189.8h0M1311.7 192.9h0M1329.6 194.8h0M1333.3 196.9h0M1305.9 199.6h0M1322.4 200.8h0M1271.7 201.4h0M1324.5 203.5h0M1277.4 202.4h0M1328 204.2h0M1275.2 205.5h0M1272.8 207.4h0M1320.3 207h0M1318.8 208.8h0M1311.1 210h0M1327.9 209.7h0M1293 211h0M1269.2 212h0M1288.7 210.5h0M1287.3 213.7h0M1309 213h0M1299.2 212.1h0M1331.6 215.6h0M1330.8 214.5h0M1283.4 214.1h0M1295.9 216.9h0M1304.2 217.2h0M1295.3 217.6h0M1335.4 219.1h0M1272.5 218.6h0M1307.4 218.8h0M1292.2 220.5h0M1326.4 220.6h0M1320.2 221.6h0M1301.7 223.9h0M1301 223.8h0M1273 222.9h0M1272.3 225.7h0M1274 225.2h0M1281.8 225.8h0M1326.8 227h0M1317.6 227.3h0M1290.2 226.4h0M1279.4 229.8h0M1283.8 228.2h0M1275.7 229.6h0M1298.8 231.3h0M1287.4 231.8h0M1318.5 230.3h0M1319.2 232.1h0M1329.3 232.6h0M1285.6 233.2h0M1291.9 233.1h0M1334.8 234.6h0M1329.7 234.3h0M1326.7 236h0M1297.1 234.1h0M1315.2 236.4h0M1308.3 236.2h0M1302.4 237.5h0M1299.9 237.4h0M1328.8 238.2h0M1335.6 240h0M1336.8 239.1h0M1289.9 238.7h0M1303.9 241.7h0M1312.1 241.1h0M1275.2 240.3h0M1288.4 241.8h0M1330 240.5h0M1271.1 243.2h0M1338.8 242.7h0M1337.2 243.3h0M1272.4 242.7h0M1286.7 245.5h0M1281.7 245.6h0M1290.4 244.1h0M1309.3 244.2h0M1308.7 245.6h0M1302.2 246.1h0M1306 246.2h0M1315.6 246.3h0M1310.6 246.7h0M1295.9 247.3h0M1281.1 249.9h0M1292.8 249.7h0M1332 249h0M1279.6 248.2h0M1332.4 248.2h0M1307.6 250.2h0M1302.7 250.3h0M1307.6 251h0M1295.4 250.4h0M1298 250.4h0M1286.2 253.7h0M1305.1 253.8h0M1269.9 253.9h0M1304.2 253.6h0M1310.1 253.4h0M1285.4 253.5h0M1287.9 254.1h0M1297.3 255h0M1289.9 255.8h0M1274.9 255.2h0M1285.7 255.2h0M1325.6 255.4h0M1286.6 257.2h0M1340 256.1h0M1313.6 257.4h0M1327.8 256.7h0M1327.5 256.9h0M1335.5 256h0M1298.6 258.8h0M1275.2 258.5h0M1321.9 259.4h0M1279.7 258.7h0M1279 258.4h0M1292.8 262h0M1341 261.6h0M1303.5 261h0M1325.2 261.8h0M1323.2 261.3h0M1283.2 261.3h0M1325.8 262.2h0M1320.7 262.7h0M1280.5 263.9h0M1317.5 263.5h0M1278.6 263.7h0M1334.3 265.5h0M1329.1 265.6h0M1311.5 264.9h0M1328.5 265.6h0M1331.8 264.6h0M1307.3 267.9h0M1277.2 267.9h0M1325.8 266.5h0M1329.5 266.5h0M1283.1 266.9h0M1304.5 269.8h0M1318.4 269.4h0M1297.2 269.6h0M1326.3 269.4h0M1337 269.7h0M1298.2 268.2h0M1329.3 270.7h0M1311.9 271.7h0M1326.2 270h0M1304.2 270h0M1276.8 271.6h0M1299.1 271.2h0M1293.1 272.4h0M1294.4 273.7h0M1313.6 272.6h0M1275.2 272.5h0M1319.6 272.9h0M1316.7 273.6h0M1318.2 274.1h0M1328.4 274.4h0M1288.5 275.9h0M1295 274.4h0M1333.2 275.2h0M1333.5 274.8h0M1305 275.9h0M1340.4 276.4h0M1328.9 276.3h0M1307 276h0M1281.5 277.9h0M1301.7 277.6h0M1287 276.7h0M1308.8 279.7h0M1306 278.8h0M1336 279.8h0M1317 278.2h0M1314 278.9h0M1338.1 278.7h0M1316.7 279.3h0M1306.6 281.4h0M1334.5 281h0M1295.1 282h0M1272.9 281.7h0M1318.3 281.1h0M1301.2 281.5h0M1333.3 281.5h0M1271.3 282.7h0M1278.7 283.9h0M1333.3 282.3h0M1311.3 283.2h0M1272.2 282.8h0M1322.9 283.3h0M1324 284.6h0M1308.2 284.8h0M1339.6 285.3h0M1327.1 285.4h0M1296.3 285.9h0M1320.2 285.4h0M1288.9 284.3h0M1328.6 287.6h0M1293.9 286.3h0M1306.2 287.8h0M1280.5 287.5h0M1281.2 286.6h0M1272.7 286.6h0M1296.5 287.9h0M1282.3 288.6h0M1337.1 288.4h0M1292 288.9h0M1276.7 288.5h0M1297.3 288.8h0M1338.6 288.5h0M1334.6 290.9h0M1329.4 291.3h0M1325.2 290.6h0M1279.8 291.5h0M1302.8 291.1h0M1317.4 291.5h0M1288.7 290.7h0M1307.1 292.6h0M1314.4 292.5h0M1324.6 292.1h0M1328.6 293.1h0M1294.4 293.9h0M1288 292.5h0M1273.9 293.1h0M1317.9 294.8h0M1327.3 294.2h0M1291 295.3h0M1338.8 295.3h0M1318.9 295.5h0M1297.4 295.9h0M1322.6 294.7h0M1327.1 296.7h0M1282.2 297.7h0M1307.3 297h0M1317.3 297.8h0M1278.5 296.7h0M1273.6 296.8h0M1305.2 297.7h0M1310.6 298.8h0M1310.3 298.5h0M1330 299.6h0M1329.5 298.3h0M1317.4 299.5h0M1305 299.8h0M1333.9 299.5h0M1269.5 304.8h0M1273.5 302.4h0M1277.5 300.2h0M1281.5 297.7h0M1285.5 303.4h0M1289.5 305.5h0M1293.5 302h0M1297.5 298.8h0M1301.5 301.7h0M1305.5 298.1h0M1309.5 303.2h0M1313.5 307h0M1317.5 304.6h0M1321.5 301h0M1325.5 304.6h0M1329.5 298.3h0M1333.5 306.5h0M1337.5 300.3h0M1341.5 300h0M1269.9 300h0M1341.3 300h0M1267.3 303.5h0M1342.1 303.5h0M1267.3 307h0M1341.2 307h0M1268.6 310.5h0M1339.7 310.5h0M1269.3 314h0M1341.9 314h0M1269.1 317.5h0M1340.8 317.5h0M1268.9 321h0M1341.4 321h0M1267.9 324.5h0M1342.4 324.5h0M1270.5 328h0M1342.2 328h0M1269.2 330h0M1341.5 330h0M1269.8 333.5h0M1339.8 333.5h0M1267.4 337h0M1341.3 337h0M1268.2 340.5h0M1340.8 340.5h0M1267.2 344h0M1342 344h0M1267.3 347.5h0M1342.2 347.5h0M1269.9 351h0M1341 351h0M1267.6 354.5h0M1341.6 354.5h0M1267.9 358h0M1340.9 358h0M1304 110h0"/>
<g class="hl">
<path class="h" stroke-width="3.2" d="M1303.5 300.3h0M1317.8 301.4h0M1293.9 300.4h0M1283.6 303.5h0M1300.7 302.4h0M1283.8 302.5h0M1319.1 303.9h0M1334.4 305.4h0M1330.4 305.4h0M1294.9 306.3h0M1282.3 306.7h0M1280.8 309.6h0M1339.3 309.8h0M1277.6 309.1h0M1287.6 310h0M1319.7 311.9h0M1300.6 311.5h0M1285 313.2h0M1270.6 313.7h0M1302.5 312.1h0M1307.4 312.1h0M1332 315h0M1284.4 314.5h0M1296.8 314.2h0M1284 316.9h0M1314.5 317.4h0M1298 319.3h0M1286.8 319.3h0M1303 318.3h0M1274.4 320.5h0M1286 320.8h0M1276.6 324h0M1273.4 324.5h0M1285.4 325.3h0M1325.1 329.8h0M1338.4 331.1h0M1276.6 331.5h0M1277.1 332.7h0M1280.3 335.2h0M1311.9 339h0M1312.8 341.3h0M1325.8 343.8h0M1272.1 345.4h0M1331.5 346.4h0M1319.5 348.5h0M1292.7 350.2h0"/>
<path class="h" stroke-width="4.8" d="M1293.1 302h0M1274.4 304.4h0M1339.4 306.6h0M1326.3 306.9h0M1303.3 309.6h0M1326.8 311.7h0M1274.7 317.4h0M1314.4 323.5h0M1314.7 325.8h0M1271.3 327.5h0M1338.1 327.4h0M1281.4 329h0M1270.5 336.1h0"/>
</g>
<path class="r" d="M1304 237.2h0M1304.9 292.7h0M1301.8 282.2h0M1306.1 316.7h0M1305.9 315.1h0M1307 352.6h0"/>
</g>
<g class="tl" font-size="20">
<text transform="translate(1238 106.6) scale(0.94 1.1)">160000</text>
<text transform="translate(1238 226.6) scale(0.94 1.1)">120000</text>
<text transform="translate(1238 348.6) scale(0.94 1.1)">80000</text>
<text transform="translate(1238 467.6) scale(0.94 1.1)">40000</text>
<text transform="translate(1238 587.6) scale(0.94 1.1)">0</text>
</g>
<g class="ax"><path d="M1458 90V585" stroke="#949494" stroke-width="4.048" fill="none"/>
<path d="M1455.7 584.5H1564" stroke="#a6a6a6" stroke-width="5.048" fill="none"/>
<path d="M1510 584.5v6.5" stroke="#9a9a9a" stroke-width="4"/>
<path d="M1458 176h-6M1458 273h-6M1458 369h-6M1458 466h-6M1458 562h-6" stroke="#8c8c8c" stroke-width="2.4"/></g>
<g class="pl">
<path d="M1510 110V492" stroke="#9a9a9a" stroke-width="3.5"/>
<path d="M1471.5 490.2L1475.5 491.3L1479.5 489.8L1483.5 495.4L1487.5 494.2L1491.5 495.1L1495.5 492.3L1499.5 494.6L1503.5 493L1507.5 492.3L1511.5 489.3L1515.5 493.2L1519.5 495.5L1523.5 495.3L1527.5 495.7L1531.5 489.7L1535.5 495.3L1539.5 490.1L1543.5 495.9L1547.5 491.5L1548.5 492L1548.5 543L1547.5 541.5L1543.5 545.6L1539.5 541.3L1535.5 546.9L1531.5 544.7L1527.5 546.3L1523.5 541.5L1519.5 543.7L1515.5 542.7L1511.5 542.8L1507.5 539.3L1503.5 544.1L1499.5 544.5L1495.5 546.2L1491.5 540.6L1487.5 540.8L1483.5 544.4L1479.5 539.9L1475.5 546.8L1471.5 545Z" fill="#000"/>
<path class="d" stroke-width="5.6" d="M1473.5 489h0M1548 489h0M1473.7 492.5h0M1546.3 492.5h0M1472 496h0M1545.6 496h0M1473.5 499.5h0M1546.2 499.5h0M1472.1 503h0M1548.7 503h0M1473.3 506.5h0M1547.5 506.5h0M1473.4 510h0M1547.5 510h0M1473.5 513.5h0M1546.5 513.5h0M1471.4 517h0M1545.7 517h0M1471.2 520.5h0M1546.7 520.5h0M1471.7 524h0M1545.9 524h0M1472.8 527.5h0M1548.7 527.5h0M1473.5 531h0M1546.4 531h0M1473.7 534.5h0M1546.1 534.5h0M1471.5 538h0M1546.5 538h0M1472.5 541.5h0M1547.8 541.5h0M1472.7 545h0M1547.9 545h0M1473.5 489.5h0M1477.5 493.6h0M1481.5 490h0M1485.5 497.3h0M1489.5 493.3h0M1493.5 497h0M1497.5 492h0M1501.5 496.6h0M1505.5 494.8h0M1509.5 493.6h0M1513.5 489.3h0M1517.5 492.2h0M1521.5 495.2h0M1525.5 497.5h0M1529.5 495.3h0M1533.5 491h0M1537.5 496.3h0M1541.5 491.4h0M1545.5 495.5h0M1549.5 491h0M1473.5 545.7h0M1477.5 544.4h0M1481.5 539.6h0M1485.5 543.1h0M1489.5 539.8h0M1493.5 540.9h0M1497.5 546.9h0M1501.5 545.4h0M1505.5 542.1h0M1509.5 539.8h0M1513.5 540.4h0M1517.5 542.4h0M1521.5 542.2h0M1525.5 542h0M1529.5 544.5h0M1533.5 544.8h0M1537.5 546.6h0M1541.5 540.4h0M1545.5 546.2h0M1549.5 541.6h0M1522.2 325.7h0M1505.4 328.2h0M1481.6 335h0M1490 336.9h0M1477.9 338.7h0M1489.3 347.5h0M1543 357h0M1485.5 359.7h0M1479 360.5h0M1527.2 364.1h0M1496.4 366.4h0M1499.7 368.2h0M1486.2 372h0M1511.1 374h0M1527.9 377.1h0M1509.9 379.2h0M1483.6 381.6h0M1527.9 383.7h0M1540 384.4h0M1517.3 387.8h0M1488.9 388.1h0M1505.5 388.3h0M1528.5 391.2h0M1542.7 390.8h0M1473.7 393.9h0M1508.3 395h0M1543.4 395h0M1519 396.4h0M1487.8 400h0M1489.6 401.9h0M1496.7 400.8h0M1522.5 402h0M1500.6 402.3h0M1472.8 405.2h0M1506.6 407.1h0M1525.8 406.3h0M1481.8 409.9h0M1483.9 408.3h0M1516.1 411.8h0M1477 410.5h0M1516.4 412.9h0M1503.2 413.8h0M1536.8 415.9h0M1492.8 415.9h0M1476.6 417.8h0M1480.5 416h0M1494.3 419.9h0M1537.6 418.8h0M1536 421.6h0M1521.4 421h0M1490.9 423.3h0M1516.4 423.6h0M1544.4 424.4h0M1539.6 427.1h0M1486.3 427.4h0M1490.4 428.7h0M1511.8 429.4h0M1528 431.2h0M1507.9 431.3h0M1473.5 433h0M1523.2 433.4h0M1486.2 435.9h0M1531.3 434.5h0M1544.1 436.4h0M1503.2 437.9h0M1490.1 439.5h0M1522.2 441.5h0M1482.3 440.4h0M1492.6 442.1h0M1482.9 442.8h0M1478.6 445.2h0M1542.9 445.2h0M1525.2 446.9h0M1485.9 447h0M1523.1 448.3h0M1500.3 449.9h0M1535 451.3h0M1520 451.4h0M1487.4 453.5h0M1491.8 455.6h0M1517.5 455.7h0M1516.6 456.4h0M1473.9 457.1h0M1493.1 458.1h0M1473.2 458.3h0M1473.1 460.5h0M1492.5 461.4h0M1474.2 462.2h0M1545 464.3h0M1511.7 466.6h0M1503.9 467h0M1476.9 468.2h0M1484.9 468.2h0M1524.6 470.5h0M1531.7 471.5h0M1509.4 472.4h0M1541.9 473.1h0M1484.3 475.4h0M1501.5 475.4h0M1489.9 475.6h0M1479.8 477.2h0M1487 477.4h0M1531.7 478.5h0M1479.7 479.3h0M1514.8 478.3h0M1516.1 480.2h0M1520 480.5h0M1492 480.8h0M1512.5 481.4h0M1526.7 482.4h0M1494.4 483.3h0M1524.2 483.2h0M1539.9 482.4h0M1522.1 484.5h0M1484.5 484.5h0M1530.2 485.7h0M1526.1 485.9h0M1531.9 484.6h0M1526.5 486.1h0M1518.1 486.2h0M1476.5 487h0M1484.1 487.9h0M1538.1 486.9h0M1481.7 489h0M1511.6 488.7h0M1526.1 489.1h0M1530.5 488.2h0M1478 488.8h0M1508.8 488.5h0M1489.3 490.6h0M1508.3 491.4h0M1530.1 490.7h0M1506 491.9h0M1542.3 491.2h0M1480.6 490.9h0M1493.5 544.1h0M1545.8 545.8h0M1482.4 544.9h0M1495.1 546.1h0M1528.7 547.5h0M1505.3 546.2h0M1479.8 549.9h0M1476.6 548.6h0M1529.9 548.3h0M1478.1 550.3h0M1512.4 551.7h0M1485.4 550.3h0M1504.5 552.7h0M1490.9 555.9h0M1481.5 554.5h0M1539.1 557.8h0M1544 559.2h0M1507.4 561.4h0M1532 110h0M1486 163h0M1546 160h0M1498 259h0"/>
</g>
<g class="tl" font-size="20">
<text transform="translate(1447 183.6) scale(0.94 1.1)">40</text>
<text transform="translate(1447 280.6) scale(0.94 1.1)">30</text>
<text transform="translate(1447 376.6) scale(0.94 1.1)">20</text>
<text transform="translate(1447 473.6) scale(0.94 1.1)">10</text>
<text transform="translate(1447 569.6) scale(0.94 1.1)">0</text>
</g>
<g class="ax"><path d="M1741 90V596" stroke="#b0b0b0" stroke-width="4.4" fill="none"/>
<path d="M1738.5 595.5H1865" stroke="#c2c2c2" stroke-width="5.4" fill="none"/>
<path d="M1803 595.5v6.5" stroke="#9a9a9a" stroke-width="4"/>
<path d="M1741 225h-6M1741 364h-6M1741 502h-6" stroke="#8c8c8c" stroke-width="2.4"/></g>
<g class="pl">
<ellipse cx="1757.5" cy="384" rx="2.6" ry="12.100000000000001" fill="#a83228"/>
<ellipse cx="1847.5" cy="384" rx="2.6" ry="12.100000000000001" fill="#a83228"/>
<path d="M1803 104V572" stroke="#8c8c8c" stroke-width="2.6"/>
<path d="M1760.5 292L1764.5 298.7L1768.5 297.5L1772.5 293L1776.5 294.8L1780.5 292.2L1784.5 293.6L1788.5 297L1792.5 292.5L1796.5 297.6L1800.5 295.6L1804.5 297.1L1808.5 298.2L1812.5 293.6L1816.5 297.6L1820.5 293.9L1824.5 293.8L1828.5 291.9L1832.5 298.3L1836.5 296.1L1840.5 297L1844.5 295L1844.5 505L1840.5 505.8L1836.5 497.5L1832.5 503.7L1828.5 506L1824.5 504.1L1820.5 504.1L1816.5 505.5L1812.5 498L1808.5 496.6L1804.5 501.1L1800.5 508.9L1796.5 497.8L1792.5 503.6L1788.5 504.6L1784.5 506.8L1780.5 497.9L1776.5 496.1L1772.5 505.7L1768.5 504.6L1764.5 507.6L1760.5 506.5Z" fill="#000"/>
<path class="d" stroke-width="5.0" d="M1763.2 292h0M1844.2 292h0M1763.5 295.5h0M1843.9 295.5h0M1762.7 299h0M1844.2 299h0M1761 302.5h0M1843.7 302.5h0M1761.5 306h0M1844.3 306h0M1760.6 309.5h0M1843.3 309.5h0M1761.3 313h0M1844.2 313h0M1761.3 316.5h0M1844.3 316.5h0M1763 320h0M1844.4 320h0M1760.7 323.5h0M1844.6 323.5h0M1762.7 327h0M1843.7 327h0M1762.4 330.5h0M1841.7 330.5h0M1763.1 334h0M1843.3 334h0M1761.7 337.5h0M1842.6 337.5h0M1762.8 341h0M1844.1 341h0M1763.1 344.5h0M1842.2 344.5h0M1761.3 348h0M1842.3 348h0M1760.5 351.5h0M1842.6 351.5h0M1760.3 355h0M1844.1 355h0M1760.9 358.5h0M1841.7 358.5h0M1760.4 362h0M1843.9 362h0M1760.9 365.5h0M1843 365.5h0M1761.5 369h0M1844.1 369h0M1763.3 372.5h0M1842.5 372.5h0M1762.3 376h0M1844.5 376h0M1761.8 379.5h0M1844.5 379.5h0M1762.6 383h0M1842.5 383h0M1763.1 386.5h0M1843.4 386.5h0M1760.5 390h0M1843.4 390h0M1762.9 393.5h0M1843.2 393.5h0M1761.8 397h0M1842.9 397h0M1763.1 400.5h0M1843.7 400.5h0M1760.9 404h0M1842.7 404h0M1761.4 407.5h0M1844.7 407.5h0M1762.5 411h0M1841.9 411h0M1763.2 414.5h0M1841.6 414.5h0M1762.1 418h0M1842.9 418h0M1762.6 421.5h0M1842.9 421.5h0M1760.5 425h0M1843.2 425h0M1762.9 428.5h0M1844.1 428.5h0M1761.4 432h0M1842.2 432h0M1762.7 435.5h0M1844.1 435.5h0M1760.9 439h0M1844.4 439h0M1763.5 442.5h0M1842.9 442.5h0M1761.5 446h0M1843.8 446h0M1763.3 449.5h0M1842.2 449.5h0M1761.2 453h0M1842.6 453h0M1762.6 456.5h0M1842.1 456.5h0M1762 460h0M1843.2 460h0M1762.4 463.5h0M1842 463.5h0M1763.4 467h0M1844.8 467h0M1762.1 470.5h0M1844.1 470.5h0M1760.8 474h0M1844.5 474h0M1762 477.5h0M1844 477.5h0M1763.1 481h0M1842.7 481h0M1763.2 484.5h0M1842.2 484.5h0M1760.3 488h0M1843.2 488h0M1763.2 491.5h0M1844.5 491.5h0M1763.4 495h0M1843.2 495h0M1763.3 498.5h0M1843.3 498.5h0M1760.7 502h0M1843.6 502h0M1762.9 505.5h0M1842.9 505.5h0M1762.5 293.1h0M1766.5 298.6h0M1770.5 297.5h0M1774.5 293.5h0M1778.5 295.6h0M1782.5 292.8h0M1786.5 292.9h0M1790.5 296h0M1794.5 292.7h0M1798.5 299.1h0M1802.5 297.2h0M1806.5 296.9h0M1810.5 298.1h0M1814.5 294.4h0M1818.5 297.2h0M1822.5 295h0M1826.5 296h0M1830.5 291.6h0M1834.5 299.3h0M1838.5 297.6h0M1842.5 298.7h0M1762.5 505h0M1766.5 506.1h0M1770.5 504.6h0M1774.5 503.7h0M1778.5 493.9h0M1782.5 498.7h0M1786.5 504.4h0M1790.5 504h0M1794.5 504.3h0M1798.5 498.5h0M1802.5 507.1h0M1806.5 499.7h0M1810.5 497.1h0M1814.5 497.4h0M1818.5 504.3h0M1822.5 501.6h0M1826.5 503.9h0M1830.5 504.4h0M1834.5 503.8h0M1838.5 497.8h0M1842.5 506.3h0M1779.4 211.2h0M1787.4 214h0M1800.8 215.9h0M1777.7 224.2h0M1775.4 225.1h0M1790.5 231.9h0M1818.1 233.8h0M1832.4 236.1h0M1831.2 238.5h0M1813.2 240.8h0M1797 240.6h0M1806.9 241.3h0M1839.3 242.3h0M1791.5 243.7h0M1809.9 245.4h0M1789.4 245.9h0M1794.5 246.4h0M1771 247.8h0M1763.7 248.6h0M1800.8 249h0M1791.3 249.8h0M1805.1 251.9h0M1813.9 251h0M1788.8 250.8h0M1825.9 252.5h0M1791.9 252.8h0M1791.3 253.8h0M1784.1 254.7h0M1828.9 254.3h0M1818.1 254h0M1777.3 254.1h0M1773.5 256.5h0M1766.2 256.5h0M1821.6 257.4h0M1836.1 257.9h0M1837.1 258.2h0M1837.4 258.9h0M1777.3 259.5h0M1831.9 258.8h0M1769.1 259.7h0M1823.3 259.2h0M1841.6 258.1h0M1766.1 258.2h0M1819.6 261.3h0M1770.7 260.3h0M1776.3 261.2h0M1816.6 261.9h0M1791.1 262h0M1797.1 260.8h0M1782.3 260.5h0M1841.4 262h0M1819.4 260.4h0M1774 262.7h0M1821.9 262.1h0M1805 263.4h0M1764.3 262.9h0M1826.4 263.2h0M1798.5 263.8h0M1810.8 262.7h0M1794 263.9h0M1832 263.8h0M1773.2 264.4h0M1792.9 265.4h0M1761.9 265.6h0M1825.9 265h0M1762 265.6h0M1795.5 265.3h0M1808.2 265.5h0M1795 265.9h0M1839.9 265.9h0M1787.4 266.8h0M1783.6 267.8h0M1826.5 267.6h0M1828.8 268h0M1817.9 266.6h0M1823.6 266.5h0M1811.6 266.3h0M1831.8 267h0M1784.1 267.8h0M1768.3 267.9h0M1773.7 269.5h0M1808.5 269.8h0M1809.6 268.9h0M1838 268.2h0M1825.2 268.2h0M1784.2 268.2h0M1832.9 268.9h0M1821.1 268.5h0M1821.4 269.3h0M1769.5 269h0M1779.1 271.3h0M1784.3 270.7h0M1836.9 271.9h0M1843.3 270.9h0M1808.4 271.6h0M1823.7 270.9h0M1832.3 270.8h0M1839.4 270.9h0M1771.2 271.5h0M1773.4 271.4h0M1765.9 272h0M1822.2 272.3h0M1813.7 272.8h0M1781.9 273.6h0M1764.2 273h0M1768.6 273.7h0M1834.7 272.1h0M1799.6 272.9h0M1820.4 273.5h0M1789.6 273.9h0M1776.7 272.3h0M1828.3 272.2h0M1802.5 274.7h0M1774.9 275.9h0M1800.4 275.6h0M1782 275.8h0M1779.6 275.8h0M1811.8 275.9h0M1824.7 275.3h0M1805.2 275.7h0M1797.9 274.2h0M1836.4 275.6h0M1817.4 275.5h0M1780.5 274.9h0M1840.4 277.8h0M1774.7 277.4h0M1806.9 276.8h0M1775.3 276.3h0M1800.1 277h0M1783.5 276.7h0M1806.9 277.5h0M1809.8 276.3h0M1834.2 276.7h0M1840.2 278h0M1773 277.2h0M1840.8 276.8h0M1787.2 278.1h0M1778.3 278.2h0M1784.8 279.3h0M1807.7 279.9h0M1817.7 278.7h0M1839.4 279.3h0M1806 279.7h0M1816.4 278.7h0M1811.1 278.6h0M1841 278.5h0M1841.3 278.1h0M1762.3 279.1h0M1778.4 279h0M1830.1 281.3h0M1817.6 281.9h0M1842.9 281.4h0M1820 280h0M1765.5 280.9h0M1841 280.6h0M1808.1 280h0M1795.6 281.8h0M1809.8 281.6h0M1762.6 280.4h0M1776.2 281.7h0M1769.8 281.9h0M1783.4 281.8h0M1803.8 280.6h0M1794.7 283.4h0M1767 283.7h0M1842 282.2h0M1822.7 282.5h0M1773.6 282.7h0M1815.8 283.9h0M1843 284h0M1812.6 283.3h0M1774.7 283.5h0M1806.7 282.7h0M1835.3 282.5h0M1773.1 282.3h0M1773.7 283.2h0M1827.2 282.3h0M1808.6 285.1h0M1795.3 285.1h0M1762.7 284.1h0M1796.2 284.5h0M1823.6 284.5h0M1829.1 284.5h0M1769.1 285h0M1793.3 284.7h0M1824.2 284.4h0M1816.4 285.7h0M1798.6 285h0M1837.2 285.2h0M1776.3 284.1h0M1768.2 284.7h0M1768.8 285.3h0M1796.2 284.6h0M1838.3 286.5h0M1774.2 286.6h0M1788.1 287.8h0M1819.4 286.9h0M1775.1 286.1h0M1771.5 287.7h0M1814.6 286.3h0M1812.8 286.1h0M1803.1 286.7h0M1769.9 287.5h0M1820.3 287h0M1775.3 287.3h0M1797 287.3h0M1769 287.8h0M1761.8 286.4h0M1794.2 286.4h0M1768.7 287.4h0M1789 288.5h0M1816.5 288.4h0M1794.4 289.4h0M1796.8 288.3h0M1767.3 289.1h0M1842.7 289.8h0M1769.7 289h0M1801.6 288.4h0M1816.4 289h0M1827.8 288.6h0M1838.1 289.6h0M1800.3 288.3h0M1801.2 288.3h0M1817.7 289.4h0M1808.9 290h0M1765.2 289.4h0M1827.2 288.2h0M1787.9 288.1h0M1820.8 290.7h0M1818.5 290.7h0M1819.9 290.6h0M1841.7 290.9h0M1761.8 290.2h0M1821 291.7h0M1813.7 290.3h0M1833 291.4h0M1770.9 290.8h0M1816.6 290h0M1765 290.7h0M1833.2 292h0M1787.6 291.8h0M1826 291.7h0M1809.7 291.9h0M1814.3 291.9h0M1807.9 290.4h0M1804 291h0M1789.2 290.7h0M1803.4 291.2h0M1784.2 293h0M1802.8 292.8h0M1816 292.4h0M1805.1 292.6h0M1824.6 293.4h0M1825.5 293h0M1781.9 293.9h0M1803.4 292.8h0M1785.3 292.8h0M1819.6 293.6h0M1801.1 293.5h0M1779 292.9h0M1790.9 292.6h0M1791 293.5h0M1821.6 292.4h0M1780.7 293.6h0M1815.2 293.4h0M1813.6 293.4h0M1783.9 292.1h0M1791.1 292.1h0M1840.4 293h0M1816.5 293.9h0M1827.5 292.5h0M1770.4 295.6h0M1821.9 295h0M1791.8 294.5h0M1801.5 295.4h0M1834.9 295.7h0M1832.6 294.9h0M1796 294.6h0M1841.4 294.4h0M1774.4 294.6h0M1837.1 295.7h0M1788.7 295.7h0M1834.5 294.9h0M1777.3 295.5h0M1792.2 294.2h0M1835.5 294.9h0M1794.1 295.2h0M1782.4 294h0M1793.5 294.8h0M1762.4 294.7h0M1823.9 294.7h0M1817.2 295.2h0M1777 294h0M1816.8 295.2h0M1785.6 294.4h0M1831.6 295.8h0M1780.6 295.2h0M1814.3 499.2h0M1803.3 498.2h0M1779 498.6h0M1795.6 498.7h0M1835.5 498.2h0M1842.4 498.5h0M1831.7 498.5h0M1792.4 500.1h0M1826.8 501.6h0M1783.6 501.6h0M1800.8 502h0M1766 500.8h0M1780.2 501.2h0M1830.6 503.1h0M1793.3 503.6h0M1770.1 502.5h0M1823.2 502.9h0M1842.9 502.2h0M1799.4 502.4h0M1769.2 504.2h0M1791.8 504.9h0M1803.1 504.6h0M1819.1 505h0M1842 504.3h0M1803.4 505h0M1832.1 506.4h0M1833.5 506.7h0M1789 507.2h0M1807.7 506.6h0M1768.4 507.9h0M1791.8 506.2h0M1805.1 508.7h0M1788.4 509.7h0M1789.3 508.8h0M1840 508.7h0M1794.5 508.3h0M1816 510.9h0M1794.8 510.5h0M1826.3 510.9h0M1829.7 510.7h0M1821.6 510.1h0M1840.3 513.4h0M1816.9 513h0M1800.2 512.4h0M1775.7 513.3h0M1818.4 512.5h0M1772.7 515.2h0M1775.6 515h0M1787.2 515.1h0M1772.5 515h0M1812.1 514.3h0M1817.1 517.1h0M1812.1 517.6h0M1808.4 516.4h0M1797.8 517.7h0M1808 517.5h0M1798.3 519.9h0M1828.9 519.3h0M1770.2 519.2h0M1764.2 519.9h0M1841.2 519.5h0M1830.9 520.4h0M1829.4 521h0M1762.8 521.8h0M1797.6 521.7h0M1818 521.1h0M1778.1 523.8h0M1789.3 522.1h0M1789.1 522.1h0M1767.4 523.2h0M1774.6 524.6h0M1784.4 525.8h0M1835.7 525.7h0M1842.7 524.9h0M1826.8 524.6h0M1828 527.5h0M1780.2 526.2h0M1837.4 527.1h0M1811.7 527.7h0M1818.8 528.9h0M1826 528.9h0M1777.6 529.9h0M1784.6 529.5h0M1781.8 531.4h0M1794 530.4h0M1779.3 531.9h0M1791.7 531h0M1763.7 533.5h0M1822.6 533.8h0M1790.8 532.4h0M1790 533.5h0M1794.8 535h0M1774.1 535.8h0M1800.2 535h0M1826 534.4h0M1790.5 537.6h0M1769.2 536.6h0M1813.6 537h0M1808.9 538.4h0M1797.4 538h0M1827 538.5h0M1829.6 539.1h0M1785.4 541.7h0M1826 541.4h0M1828.3 540.9h0M1839.6 542.4h0M1769.8 542.8h0M1803.3 542.3h0M1832.6 544.8h0M1773.7 544.4h0M1808.9 544.4h0M1805.6 546.9h0M1802.8 547.7h0M1762.9 547.9h0M1764.6 549.5h0M1808.2 549.1h0M1779.3 549.6h0M1821.1 550.5h0M1808.5 551.3h0M1792 551h0M1814.3 553.4h0M1774.1 553.1h0M1821.6 552.2h0M1832.9 554.1h0M1781.9 554.2h0M1768.6 557h0M1782 556.6h0M1792 559.6h0M1820.8 558.2h0M1762.2 560.7h0M1770.4 561.4h0M1843.2 562.4h0M1764.5 563.5h0M1837.8 564.8h0M1787.1 564.1h0M1803.5 566.9h0M1824.5 569.7h0M1800.5 568.4h0M1834.6 570.8h0M1815.7 571.1h0M1810 103h0M1762 208h0"/>
<path class="r" d="M1801.9 259.4h0M1803.8 503.3h0"/>
</g>
<g class="tl" font-size="17">
<text transform="translate(1731 230.9) scale(0.97 1.0)">9000</text>
<text transform="translate(1731 369.9) scale(0.97 1.0)">6000</text>
<text transform="translate(1731 507.9) scale(0.97 1.0)">3000</text>
</g>
<g class="ax"><path d="M1947 90V595" stroke="#b0b0b0" stroke-width="4.4" fill="none"/>
<path d="M1944.5 594.5H2072" stroke="#c2c2c2" stroke-width="5.4" fill="none"/>
<path d="M2010 594.5v6.5" stroke="#9a9a9a" stroke-width="4"/>
<path d="M1947 105h-6M1947 202h-6M1947 299h-6M1947 397h-6M1947 494h-6M1947 591h-6" stroke="#8c8c8c" stroke-width="2.4"/></g>
<g class="pl">
<ellipse cx="1964.5" cy="468" rx="2.6" ry="13.200000000000001" fill="#a83228"/>
<ellipse cx="2055.5" cy="468" rx="2.6" ry="13.200000000000001" fill="#a83228"/>
<path d="M2010 104V570" stroke="#8c8c8c" stroke-width="2.6"/>
<path d="M1967.5 382.7L1971.5 381L1975.5 385.9L1979.5 382L1983.5 386.8L1987.5 384L1991.5 385.7L1995.5 380L1999.5 384.7L2003.5 380.6L2007.5 384.3L2011.5 379.2L2015.5 381.6L2019.5 381.7L2023.5 384.4L2027.5 385.3L2031.5 383.4L2035.5 379.9L2039.5 379.5L2043.5 379.2L2047.5 381.9L2051 383L2051 553L2047.5 555.6L2043.5 551.2L2039.5 549.5L2035.5 551.2L2031.5 550.5L2027.5 554.6L2023.5 554.7L2019.5 556L2015.5 552.2L2011.5 553.5L2007.5 551.7L2003.5 551.9L1999.5 551.2L1995.5 554.6L1991.5 553.2L1987.5 551.9L1983.5 556.9L1979.5 550L1975.5 556.4L1971.5 552.5L1967.5 552.4Z" fill="#000"/>
<path d="M1967.5 298.7L1971.5 305.9L1975.5 298.3L1979.5 302.9L1983.5 300.8L1987.5 299.5L1991.5 301.5L1995.5 305.4L1999.5 300L2003.5 299.3L2007.5 303L2011.5 303.3L2015.5 302.1L2019.5 299.4L2023.5 305L2027.5 298.9L2031.5 299.4L2035.5 299.9L2039.5 302.1L2043.5 301.8L2047.5 302.4L2051 302L2051 350L2047.5 350L2043.5 350L2039.5 350L2035.5 350L2031.5 350L2027.5 350L2023.5 350L2019.5 350L2015.5 350L2011.5 350L2007.5 350L2003.5 350L1999.5 350L1995.5 350L1991.5 350L1987.5 350L1983.5 350L1979.5 350L1975.5 350L1971.5 350L1967.5 350Z" fill="#000"/>
<path d="M1967.5 350L1971.5 350L1975.5 350L1979.5 350L1983.5 350L1987.5 350L1991.5 350L1995.5 350L1999.5 350L2003.5 350L2007.5 350L2011.5 350L2015.5 350L2019.5 350L2023.5 350L2027.5 350L2031.5 350L2035.5 350L2039.5 350L2043.5 350L2047.5 350L2051 350L2051 394L2047.5 394L2043.5 394L2039.5 394L2035.5 394L2031.5 394L2027.5 394L2023.5 394L2019.5 394L2015.5 394L2011.5 394L2007.5 394L2003.5 394L1999.5 394L1995.5 394L1991.5 394L1987.5 394L1983.5 394L1979.5 394L1975.5 394L1971.5 394L1967.5 394Z" fill="#000"/>
<path class="d" stroke-width="5.0" d="M1968.5 380h0M2049.7 380h0M1968.6 383.5h0M2048.4 383.5h0M1968.9 387h0M2049 387h0M1970.4 390.5h0M2049.3 390.5h0M1968.6 394h0M2048.8 394h0M1970.4 397.5h0M2049.1 397.5h0M1969.3 401h0M2050.7 401h0M1968.5 404.5h0M2050.5 404.5h0M1968.1 408h0M2048.4 408h0M1967.3 411.5h0M2049.5 411.5h0M1970.1 415h0M2048.7 415h0M1968.7 418.5h0M2050.5 418.5h0M1968.1 422h0M2048.5 422h0M1968.9 425.5h0M2049.4 425.5h0M1970.3 429h0M2051 429h0M1968 432.5h0M2049.9 432.5h0M1968.6 436h0M2048.1 436h0M1968.7 439.5h0M2051 439.5h0M1968.2 443h0M2049.9 443h0M1969.5 446.5h0M2048.2 446.5h0M1970.2 450h0M2048.4 450h0M1968.2 453.5h0M2050.4 453.5h0M1967.3 457h0M2049.2 457h0M1967.6 460.5h0M2049.6 460.5h0M1967.3 464h0M2048.5 464h0M1967.9 467.5h0M2048.3 467.5h0M1967.5 471h0M2048.6 471h0M1968.9 474.5h0M2048.5 474.5h0M1969.9 478h0M2049.4 478h0M1968 481.5h0M2048.8 481.5h0M1970 485h0M2048.2 485h0M1969.6 488.5h0M2048.3 488.5h0M1970.3 492h0M2049.3 492h0M1969.2 495.5h0M2050.8 495.5h0M1967.5 499h0M2048.2 499h0M1969.5 502.5h0M2049.9 502.5h0M1969.6 506h0M2048.9 506h0M1968.8 509.5h0M2048.6 509.5h0M1968.6 513h0M2048.9 513h0M1969.1 516.5h0M2049 516.5h0M1968.1 520h0M2050.1 520h0M1967.5 523.5h0M2050.6 523.5h0M1968.8 527h0M2048.8 527h0M1967.6 530.5h0M2049.7 530.5h0M1968.9 534h0M2050.4 534h0M1968.4 537.5h0M2049.4 537.5h0M1970.1 541h0M2048.9 541h0M1970.4 544.5h0M2050.9 544.5h0M1970.5 548h0M2051.1 548h0M1968 551.5h0M2050.7 551.5h0M1969.2 555h0M2048.7 555h0M1969.5 385.2h0M1973.5 382.2h0M1977.5 387.8h0M1981.5 382.9h0M1985.5 386.1h0M1989.5 386h0M1993.5 385.4h0M1997.5 380h0M2001.5 385.9h0M2005.5 380.3h0M2009.5 384.9h0M2013.5 380.7h0M2017.5 380.9h0M2021.5 383h0M2025.5 383.7h0M2029.5 386h0M2033.5 384.6h0M2037.5 381.3h0M2041.5 378.7h0M2045.5 378.9h0M2049.5 384.3h0M1969.5 552h0M1973.5 552.1h0M1977.5 556.1h0M1981.5 548.5h0M1985.5 555.3h0M1989.5 550.7h0M1993.5 552.8h0M1997.5 553.6h0M2001.5 550.4h0M2005.5 552.2h0M2009.5 549.4h0M2013.5 551.1h0M2017.5 550.5h0M2021.5 553.5h0M2025.5 554.1h0M2029.5 552.6h0M2033.5 550.7h0M2037.5 549.6h0M2041.5 548h0M2045.5 548.9h0M2049.5 553.6h0M2032.7 103h0M1998.5 105.6h0M1981.2 113.1h0M1995.9 114.2h0M2026.9 116.4h0M2037.7 120.6h0M2000.7 122h0M1999.5 124h0M1968.5 129.9h0M1989.1 130h0M2026.3 133.2h0M1988.6 134.6h0M2049.1 139.8h0M2037.6 140h0M2034.5 143.4h0M2034.7 144.3h0M1990.2 146.8h0M2026.2 149.1h0M2019.7 151.2h0M2014.7 154.7h0M1976.8 158.7h0M2044.4 161.3h0M2044.9 163.6h0M2006.1 165.5h0M1977.4 167.2h0M1988.7 169.4h0M1978.9 170.3h0M1995.7 171.9h0M2049.7 170.9h0M2020 172.3h0M1982.7 174.2h0M1970 177h0M2002.1 177.9h0M2037.8 179.6h0M2016.3 178.5h0M2008.6 180.8h0M2021.1 181h0M2018 184h0M1985 182.7h0M1976.1 184.1h0M2003 185.7h0M2025.4 185.9h0M2016.2 187.2h0M1969.5 186.8h0M2019.1 188.1h0M2012.7 188.8h0M2001.5 190.2h0M2028.1 191.6h0M1977.9 193.2h0M2039.5 194h0M1972.2 195.8h0M2022.7 194.6h0M2035.8 197.8h0M1988.7 197.2h0M1992.6 199.5h0M2018.7 198.7h0M2012.8 199.9h0M2043 201.1h0M2049.4 200.1h0M2006 201.1h0M2047.5 203.2h0M2007.5 203.3h0M2012 203.4h0M1969.6 204.6h0M2039.9 204.1h0M1971 207.3h0M2033.7 206.5h0M1999.6 206.5h0M2011.6 209.2h0M1995 209.2h0M2046.3 209.6h0M1988.6 211h0M1999.9 210.7h0M2034 210.3h0M2031.6 213.9h0M1970 212.5h0M2008.7 213.9h0M2037 214.8h0M2013.1 215.9h0M1973.7 214.7h0M1981.2 214.3h0M2025.6 217.2h0M1978.4 217.6h0M2009.8 216.3h0M2035.4 217.6h0M2045.1 219.6h0M1987.2 218h0M2039.2 219.7h0M1976.5 219.5h0M2020.1 221.7h0M2048.8 220.7h0M2036.5 221.8h0M2024.2 223.4h0M2037.7 223.1h0M1991 222.5h0M2012.7 222.3h0M2041 224.5h0M2025.3 225.3h0M1978.4 225.6h0M1993.5 226.2h0M1991.5 227.5h0M2006.5 227.6h0M1981.5 226.2h0M2040.2 228.3h0M1974.5 229.5h0M1975.9 229.3h0M1975.3 228.5h0M2039.7 230.8h0M2005.1 230.1h0M1996.3 230.5h0M2032.8 231.4h0M2032.4 231.1h0M1978.9 232.8h0M1992.4 232.6h0M2028.7 232.4h0M1995 232.6h0M2038.9 233.3h0M1999.5 235.8h0M2045.1 234.9h0M2014.7 235.7h0M1989.4 234.5h0M1976.9 235h0M2031.1 234.3h0M2049.2 237h0M1999.7 237.7h0M2041.2 236.8h0M1978.6 237.3h0M2028.8 237.8h0M2022.3 236.6h0M1992 238.9h0M2006.7 239.8h0M2042.3 239.9h0M2007.5 239.9h0M1979.8 239.8h0M2020.7 239.7h0M2049.3 240.1h0M2037.6 241.6h0M1999 241.7h0M1985.9 241.5h0M2006.7 240.8h0M1984.5 241.6h0M1975.8 244h0M1986.5 242.8h0M2002.3 243.2h0M2041.1 243.9h0M2020.1 242.7h0M1977.3 242.1h0M2016 244.9h0M2048.6 244.8h0M1997.1 244.8h0M1982.5 245.9h0M2016.7 245.1h0M2003.2 244.5h0M2008.7 246.9h0M2048.3 247.1h0M1985.4 246.1h0M1981.5 246.7h0M2032.3 247.8h0M1987.8 247.6h0M2004.5 247.1h0M1972 248.1h0M2022.9 249.4h0M1999.5 249.8h0M2035.3 248.6h0M1974 249.1h0M2021.8 248.4h0M1972.1 249h0M2028.5 251.3h0M1991.3 250.9h0M1987.5 250.4h0M1983.3 251.6h0M2005.4 251.4h0M1996.8 251.6h0M2017.1 251.3h0M2014.3 252.4h0M2047.9 253.3h0M2011.9 253.3h0M1976.7 252.7h0M1987.3 253.7h0M1969.6 252.9h0M2039.3 253.6h0M1993.1 254.5h0M2025.9 254.6h0M2027.4 254.7h0M2030.5 255.1h0M2035 256h0M1999.4 256h0M1969.3 255.8h0M2012.9 256.8h0M2031.2 256.6h0M1985.5 257.6h0M2013.4 257.5h0M2008.4 256.1h0M2031.4 256.4h0M2007 256h0M1989.6 257.3h0M2020.4 258.9h0M2028.2 259.3h0M1985.3 259.1h0M2017.2 259.5h0M1984.6 258.6h0M1996.5 258.2h0M1996.9 259.5h0M1982.6 261.5h0M1978 261.5h0M1980.5 260.2h0M1989 261h0M1990.5 261.8h0M2045 260.6h0M2029.6 261.4h0M1989.3 263.9h0M2046.5 262h0M1995.4 262.6h0M1984.7 262.9h0M2041.7 262h0M2036.6 262.6h0M1969.6 263.8h0M1985.8 264.2h0M1998.4 264.2h0M1983.1 264.5h0M2015.6 264.9h0M1993.4 265.1h0M2031.6 265.4h0M1996.5 265.8h0M2033 265.1h0M1995.4 266.3h0M2040.7 267.2h0M1976.5 267.9h0M2040.8 266.1h0M2025.6 266.5h0M2012.2 267.7h0M1997.1 267h0M2022.7 266.4h0M2003.2 270h0M1983.8 269.4h0M1971.9 268.5h0M1978.1 268.3h0M2011.6 268.3h0M2033.3 268.2h0M2019.3 269.7h0M1978.8 268.4h0M2006.8 271.9h0M1996 270.8h0M2046.5 270.7h0M2047.3 271.8h0M1984.8 271.1h0M2045.2 270.2h0M2037.7 271.5h0M2029.6 271.2h0M2046.6 272.2h0M2032.4 273.4h0M1994.4 273.4h0M2002 273.5h0M1972 273.9h0M1999.8 273.6h0M2006.9 273.6h0M1993 273.1h0M1970.6 273h0M2038.5 275.4h0M2003.1 275.9h0M2045.7 275.9h0M1975.2 275.4h0M2027.8 275.2h0M1969.8 275.8h0M2004.2 275.2h0M2034.9 274.6h0M1970.9 275.8h0M1971.9 276.3h0M2049.6 277.5h0M1985.6 276.3h0M2041.7 277.3h0M2016 276.3h0M2002.2 277.9h0M1968.8 276.8h0M1973.1 278h0M1977 277.9h0M2028.1 278.1h0M2025.2 279h0M2008.5 278.3h0M2010.2 279.6h0M1979.2 279.8h0M2002.7 278.5h0M1988 278.9h0M2021.3 279.1h0M2041 279h0M2049.1 280.4h0M1969.9 280.7h0M1994 280.2h0M2002.6 280.1h0M2043.5 281h0M2040.1 281.4h0M2028 281.5h0M1993.1 281.5h0M1985.3 281.1h0M2031.7 282.3h0M1996.5 283.6h0M2034.1 284h0M1978.1 282.4h0M1977.2 283.4h0M2029.3 283.3h0M2032 283h0M2014.3 283.8h0M2021.3 283.3h0M2008.8 285.5h0M2015.2 284.3h0M2003.2 284.8h0M2003.7 285.1h0M1998 284.8h0M2003.3 284.7h0M2047.7 284.2h0M1969.9 285.4h0M2000.7 284.9h0M1998.4 286.5h0M1969.8 287.7h0M2045 286.6h0M2006.4 286.6h0M1973.3 287.8h0M2036.7 286.5h0M1989.3 287.4h0M2033.4 286.9h0M2000.1 286.5h0M2033.6 287.7h0M1977.8 289.2h0M2048.8 289.4h0M2005.9 288.3h0M1973.4 289.5h0M1974.1 289.6h0M2022.8 288.9h0M2041.2 289.9h0M2018.8 288.2h0M2016.5 288.8h0M2044.2 291.5h0M1978.4 290.5h0M1996.4 291.1h0M1995 290.9h0M2034.8 290.4h0M2027.2 290.7h0M2045.5 291.9h0M1995.2 291.2h0M1977.5 290.8h0M2019.3 291.3h0M1971.3 292.2h0M2014.2 292.3h0M1993.4 293.2h0M2041.9 293h0M1989.3 293.2h0M1991 293.6h0M1981.2 292.5h0M2004.2 293.8h0M1982 292.4h0M1979.2 292.4h0M2000.7 295.5h0M2001.4 295h0M2000.8 295.5h0M2042.1 294.9h0M2043.6 294.5h0M2048.2 295.1h0M2024.1 294.8h0M1990.6 294.3h0M2040.7 294.7h0M2025.4 294.9h0M2011.4 294.4h0M1995.9 297.4h0M2012.8 296h0M2026.4 296.9h0M1974.1 296.5h0M1985.7 297.6h0M2013.3 296.7h0M1988.8 296.6h0M1991.3 296.7h0M2032.9 297.6h0M2025.4 297.8h0M2021.8 296.2h0M1981.9 298.5h0M2011.6 299.6h0M2016.2 298.9h0M1988.2 300h0M2029.9 298.7h0M1972.2 300h0M1989.4 299.7h0M1978.1 299.3h0M1997.5 299.8h0M1992.7 298.2h0M1984.7 299.6h0M1969.5 300.2h0M1973.5 308h0M1977.5 299h0M1981.5 302h0M1985.5 302.7h0M1989.5 298.6h0M1993.5 301.6h0M1997.5 304.9h0M2001.5 301.1h0M2005.5 301.1h0M2009.5 302.5h0M2013.5 303.3h0M2017.5 304.1h0M2021.5 300.8h0M2025.5 304.4h0M2029.5 300.3h0M2033.5 301.2h0M2037.5 300.4h0M2041.5 301.7h0M2045.5 303.1h0M2049.5 302.5h0M1967.6 300h0M2048.5 300h0M1968.5 303.5h0M2048.4 303.5h0M1968.5 307h0M2049.8 307h0M1969 310.5h0M2049.3 310.5h0M1969.8 314h0M2048.3 314h0M1968.3 317.5h0M2051.1 317.5h0M1970.1 321h0M2051 321h0M1969.7 324.5h0M2049.8 324.5h0M1969.8 328h0M2049.9 328h0M1967.6 331.5h0M2048.8 331.5h0M1967.5 335h0M2050.9 335h0M1968.3 338.5h0M2049.3 338.5h0M1969 342h0M2048.3 342h0M1969.5 345.5h0M2050.6 345.5h0M1969.8 349h0M2050.9 349h0M1968.6 350h0M2048.6 350h0M1968.7 353.5h0M2049.8 353.5h0M1970.2 357h0M2051.3 357h0M1969 360.5h0M2049.1 360.5h0M1967.9 364h0M2050.1 364h0M1969.6 367.5h0M2048.8 367.5h0M1969.5 371h0M2051.3 371h0M1968.5 374.5h0M2051.1 374.5h0M1968.6 378h0M2050.2 378h0M1970.1 381.5h0M2048.7 381.5h0M1972 570h0M1988 566h0M2030 568h0"/>
<g class="hl">
<path class="h" stroke-width="3.2" d="M1981.4 301.5h0M2035.3 300.9h0M1996.7 300.6h0M2028.5 301.8h0M2001.7 303.7h0M2039.5 303.6h0M1976.6 302.4h0M2033.6 305.1h0M2012.4 304.8h0M1980.9 305.3h0M2033.3 305.4h0M1970.8 306.5h0M1982 307.1h0M1982.3 307.1h0M2028.7 306.8h0M1991.8 307.9h0M1993.9 309.5h0M2032.7 308.7h0M2023.7 308.9h0M2033.2 309.1h0M2040.4 311.4h0M2036.7 310.3h0M2026 311.6h0M1976 313.1h0M2041.3 313.7h0M2004.9 312.6h0M2046.6 315.9h0M1997.1 314.3h0M2047.4 315.7h0M1974.4 317.1h0M2022.9 317.1h0M1993.5 317.5h0M1973.1 318.9h0M1984.6 319.7h0M1991.3 321.5h0M1978.7 320h0M2016.9 322.2h0M1996.5 323.8h0M1994 322.4h0M2034.8 324.1h0M2027.5 326h0M1978.2 324.7h0M2044.3 326.5h0M1998.3 327.2h0M2038.8 328.5h0M1971.4 328.8h0M1990 328.7h0M2042.2 330.1h0M2032.8 332.9h0M2046.1 333.9h0M2010.7 336h0M2022.6 335.7h0M1971.9 337.1h0M1981.5 337.8h0M2002.3 339.2h0M1970.2 338.2h0M1980.4 338.5h0M2029.2 341.2h0M2003.9 342.5h0M2047.4 344.6h0M2007.3 344.3h0M1978 347.3h0M1978.3 349.5h0M1999.1 348.3h0M2047.3 350.1h0M2007.4 351.5h0M2003.9 354.1h0M2019.7 354.4h0M2045.4 356.7h0M1995.2 361.8h0M1993.5 363.2h0M2031.2 364.8h0M2004.4 368h0M1972.8 375.7h0M1991 379.8h0"/>
<path class="h" stroke-width="4.8" d="M1999.2 300.7h0M2013.6 302.7h0M1977.1 305.8h0M2048 311.3h0M1990.5 312.9h0M2034.8 314.2h0M1987.4 316h0M2007 318.9h0M2034.1 321h0M2045.1 326.5h0M2025.6 331.3h0M1997.3 330.3h0M2013.9 335.7h0M2039.2 340.3h0M2047 342.4h0M2024.5 342.2h0M1995.4 347.6h0M2022.6 352h0M1990.6 359.6h0M1996.7 380.7h0"/>
</g>
<path class="r" d="M2010.9 277.7h0M2008.7 249.1h0M2009.8 323.6h0M2011.1 330.5h0M2011.9 350.1h0"/>
</g>
<g class="tl" font-size="17">
<text transform="translate(1939 110.9) scale(0.97 1.0)">125000</text>
<text transform="translate(1939 207.9) scale(0.97 1.0)">100000</text>
<text transform="translate(1939 304.9) scale(0.97 1.0)">75000</text>
<text transform="translate(1939 402.9) scale(0.97 1.0)">50000</text>
<text transform="translate(1939 499.9) scale(0.97 1.0)">25000</text>
<text transform="translate(1939 596.9) scale(0.97 1.0)">0</text>
</g>
<g class="ax"><path d="M2154 90V596" stroke="#b0b0b0" stroke-width="4.4" fill="none"/>
<path d="M2151.5 595.5H2278" stroke="#c2c2c2" stroke-width="5.4" fill="none"/>
<path d="M2216 595.5v6.5" stroke="#9a9a9a" stroke-width="4"/>
<path d="M2154 175h-6M2154 308h-6M2154 440h-6M2154 572h-6" stroke="#8c8c8c" stroke-width="2.4"/></g>
<g class="pl">
<ellipse cx="2171.5" cy="520" rx="1.8" ry="6.6000000000000005" fill="#8a2a20"/>
<ellipse cx="2260.5" cy="520" rx="1.8" ry="6.6000000000000005" fill="#8a2a20"/>
<path d="M2216 104V486" stroke="#8c8c8c" stroke-width="2.6"/>
<path d="M2173.5 484.3L2177.5 486.8L2181.5 487.3L2185.5 482L2189.5 481.7L2193.5 487.6L2197.5 482.9L2201.5 482L2205.5 481L2209.5 484.3L2213.5 487.4L2217.5 488.9L2221.5 488.4L2225.5 481.7L2229.5 482.8L2233.5 483.7L2237.5 481.5L2241.5 482L2245.5 485L2249.5 485.2L2253.5 483.7L2257.5 487L2258.5 485L2258.5 550L2257.5 548.4L2253.5 550.7L2249.5 547.9L2245.5 548.4L2241.5 546L2237.5 550.5L2233.5 546.1L2229.5 551.4L2225.5 548L2221.5 546.3L2217.5 547.8L2213.5 549.4L2209.5 547.8L2205.5 546.1L2201.5 551.4L2197.5 547.1L2193.5 549.9L2189.5 547.3L2185.5 553.9L2181.5 547.7L2177.5 547.5L2173.5 553.1Z" fill="#000"/>
<path class="d" stroke-width="5.0" d="M2176.1 482h0M2256.5 482h0M2176 485.5h0M2257.9 485.5h0M2175.1 489h0M2256.8 489h0M2175.1 492.5h0M2255.8 492.5h0M2173.5 496h0M2256.5 496h0M2173.6 499.5h0M2255.7 499.5h0M2175.6 503h0M2257.9 503h0M2175.2 506.5h0M2256.2 506.5h0M2175.6 510h0M2258.2 510h0M2175.2 513.5h0M2256.3 513.5h0M2175.1 517h0M2256.8 517h0M2174.1 520.5h0M2256 520.5h0M2176.1 524h0M2257.6 524h0M2176.3 527.5h0M2256.1 527.5h0M2174.1 531h0M2257.2 531h0M2173.4 534.5h0M2256.5 534.5h0M2175 538h0M2257.1 538h0M2176.2 541.5h0M2257.4 541.5h0M2175.3 545h0M2257.4 545h0M2175.8 548.5h0M2256.7 548.5h0M2173.2 552h0M2258.7 552h0M2175.5 486.1h0M2179.5 486.2h0M2183.5 486.7h0M2187.5 481.7h0M2191.5 483h0M2195.5 487.1h0M2199.5 481.9h0M2203.5 482.7h0M2207.5 480h0M2211.5 484.2h0M2215.5 487.8h0M2219.5 488.6h0M2223.5 487.4h0M2227.5 481.6h0M2231.5 482.7h0M2235.5 483.9h0M2239.5 481.9h0M2243.5 482.3h0M2247.5 485.1h0M2251.5 484.2h0M2255.5 485.6h0M2259.5 488.5h0M2175.5 552.4h0M2179.5 548.5h0M2183.5 547.8h0M2187.5 551.7h0M2191.5 546.7h0M2195.5 550.2h0M2199.5 545.3h0M2203.5 549.3h0M2207.5 546.7h0M2211.5 547.1h0M2215.5 548.4h0M2219.5 548.4h0M2223.5 546.2h0M2227.5 546.8h0M2231.5 550h0M2235.5 544.9h0M2239.5 549.3h0M2243.5 545.7h0M2247.5 549.1h0M2251.5 548.8h0M2255.5 548.8h0M2259.5 546.4h0M2203.6 288.8h0M2192.7 292.2h0M2182.3 296.1h0M2238.6 299.5h0M2221.7 332.9h0M2239.4 334.4h0M2233.2 341.4h0M2230 349h0M2204.2 352.1h0M2218.7 354.6h0M2214.7 356.1h0M2211.3 358.7h0M2218.5 360.8h0M2176 363.1h0M2203.7 366.6h0M2240.6 370h0M2191.6 372.7h0M2206.5 375.9h0M2222.3 377.9h0M2243.2 380.7h0M2254 383.1h0M2180 385.5h0M2227.9 386.6h0M2197.4 391.8h0M2197 393h0M2192 397.6h0M2208.9 399.6h0M2240.3 400.2h0M2204.1 403.6h0M2248.5 405h0M2187 407h0M2188.1 409.7h0M2246.1 410.3h0M2213.4 412.2h0M2251 415.4h0M2225.1 417.7h0M2223.9 418.1h0M2188.2 420.5h0M2217 423.2h0M2212.7 422.9h0M2234.1 425.1h0M2200.1 425.7h0M2251.1 428h0M2206.8 428.9h0M2195.8 429.5h0M2186 431h0M2248.3 432.9h0M2212.4 435h0M2239.7 434.4h0M2256.2 436h0M2225.2 436.2h0M2209.7 439.9h0M2247.3 440.5h0M2178.5 440.2h0M2180.8 440.8h0M2203.9 443.4h0M2177.3 443h0M2182.6 445.2h0M2211.5 444.7h0M2243.4 445.4h0M2183.3 446.1h0M2196.4 447.3h0M2254.9 447.9h0M2184.8 449.6h0M2237.8 448.9h0M2257.1 449.2h0M2192.4 450.3h0M2225.2 451.2h0M2245.7 450h0M2175.3 451.9h0M2196.4 453.7h0M2183.7 453.6h0M2248.9 453.1h0M2225 452h0M2225.4 455.5h0M2217.4 454.2h0M2193 455.3h0M2181.1 454.2h0M2240.6 457.1h0M2204.1 457.9h0M2222.7 456.5h0M2221.4 457.7h0M2210.6 459.2h0M2256.4 459.3h0M2189.5 459.2h0M2201.2 458.9h0M2233.7 458h0M2200.6 461.2h0M2242.6 460.9h0M2226.8 460.6h0M2195.7 461h0M2218.7 460.4h0M2216 462.7h0M2195.6 463.7h0M2249.4 463.9h0M2195.1 462.1h0M2226.9 462h0M2230.9 464.7h0M2211.1 465.4h0M2187.8 464.7h0M2239.8 465.4h0M2223.1 464.2h0M2195.8 466.1h0M2227.6 467.1h0M2251.2 467.1h0M2250.7 466.9h0M2217.5 466.6h0M2213 467.9h0M2174.7 468.7h0M2190.9 469.2h0M2216.8 469h0M2251.5 469.5h0M2181.7 468.1h0M2232.7 469.2h0M2216 470.1h0M2212 471.7h0M2224.5 470.1h0M2184.8 471.8h0M2219.7 470.3h0M2233.2 471.8h0M2228.1 473.6h0M2181.8 472.9h0M2241.8 472.7h0M2186.4 473.7h0M2233 472h0M2179.8 473.1h0M2225.8 475.8h0M2183.2 475.2h0M2189.6 474.7h0M2186.9 474.9h0M2178.3 475.3h0M2228.2 475.8h0M2180.8 477.7h0M2219.6 477.9h0M2215.3 476.2h0M2232.9 476.3h0M2256.2 477.1h0M2249.4 477h0M2201.6 477.3h0M2212.7 478.6h0M2209.4 479.4h0M2193.5 478.3h0M2214.7 479.3h0M2180 478.5h0M2255.1 478.5h0M2238.6 478.6h0M2214.9 481.7h0M2239 480.1h0M2232.9 481.2h0M2214.5 481.3h0M2217.8 480.4h0M2232.2 480.3h0M2200.2 481.7h0M2221.7 481h0M2215.4 482.8h0M2220.3 482h0M2203.7 482.1h0M2257.1 483.8h0M2228.8 482.3h0M2245.5 482.6h0M2241.3 483.3h0M2224.7 483.5h0M2208.6 550.7h0M2180.9 551.8h0M2231.4 551h0M2219.8 551.8h0M2180.3 550.7h0M2231.5 551.1h0M2215.8 550.5h0M2230.1 552.7h0M2252.3 553.8h0M2255 552.6h0M2217.2 552.2h0M2204.3 552.1h0M2216.1 553.9h0M2204.7 554.6h0M2251.8 554.1h0M2244.6 555.7h0M2180.2 555.9h0M2206.8 556.9h0M2225 557.1h0M2246.5 557.8h0M2201.6 556h0M2228.3 559.3h0M2180.7 558.2h0M2249.1 558.7h0M2179.6 561.1h0M2235.8 560.3h0M2254.9 563.7h0M2240.1 563.9h0M2219.9 565.6h0M2226.7 567.3h0M2202.6 568.7h0M2245.8 569.6h0M2257 570.1h0M2201.7 572.2h0M2254 103h0M2248 203h0M2196 233h0M2220 241h0M2187 267h0"/>
<path class="r" d="M2218 463.9h0M2217.5 476.9h0M2218.8 552h0"/>
</g>
<g class="tl" font-size="17">
<text transform="translate(2146 180.9) scale(0.97 1.0)">30</text>
<text transform="translate(2146 313.9) scale(0.97 1.0)">20</text>
<text transform="translate(2146 445.9) scale(0.97 1.0)">10</text>
<text transform="translate(2146 577.9) scale(0.97 1.0)">0</text>
</g>
<g class="ax"><path d="M338 744V1241" stroke="#848484" stroke-width="3.344" fill="none"/>
<path d="M336.1 1240.5H444" stroke="#969696" stroke-width="4.343999999999999" fill="none"/>
<path d="M390 1240.5v6.5" stroke="#9a9a9a" stroke-width="4"/>
<path d="M338 806h-6M338 889h-6M338 972h-6M338 1054h-6M338 1136h-6M338 1218h-6" stroke="#8c8c8c" stroke-width="2.4"/></g>
<g class="pl">
<ellipse cx="353.5" cy="1020" rx="1.9" ry="9.9" fill="#6e1f18"/>
<ellipse cx="428.5" cy="1020" rx="1.9" ry="9.9" fill="#6e1f18"/>
<path d="M355.5 874.6L359.5 870.1L363.5 871.3L367.5 870.5L371.5 874.7L375.5 871.2L379.5 868.1L383.5 871.1L387.5 870.5L391.5 874.5L395.5 874.1L399.5 872.2L403.5 869.1L407.5 873L411.5 870.3L415.5 871.2L419.5 874.6L423.5 868.1L426.5 871L426.5 1122L423.5 1121.6L419.5 1124.5L415.5 1123.8L411.5 1122.8L407.5 1122.5L403.5 1122.6L399.5 1124.8L395.5 1125.6L391.5 1124.9L387.5 1125.5L383.5 1119.6L379.5 1124.8L375.5 1122.2L371.5 1123.8L367.5 1122.3L363.5 1121L359.5 1119.2L355.5 1123.1Z" fill="#000"/>
<path d="M355.5 839.4L359.5 845.4L363.5 844.3L367.5 840.3L371.5 845.8L375.5 839.3L379.5 839.1L383.5 841.1L387.5 844.4L391.5 838.8L395.5 844.3L399.5 842.4L403.5 844.4L407.5 840.7L411.5 838.3L415.5 838.8L419.5 843.8L423.5 842.1L426.5 842L426.5 886L423.5 886L419.5 886L415.5 886L411.5 886L407.5 886L403.5 886L399.5 886L395.5 886L391.5 886L387.5 886L383.5 886L379.5 886L375.5 886L371.5 886L367.5 886L363.5 886L359.5 886L355.5 886Z" fill="#000"/>
<path d="M355.5 1106L359.5 1106L363.5 1106L367.5 1106L371.5 1106L375.5 1106L379.5 1106L383.5 1106L387.5 1106L391.5 1106L395.5 1106L399.5 1106L403.5 1106L407.5 1106L411.5 1106L415.5 1106L419.5 1106L423.5 1106L426.5 1106L426.5 1160L423.5 1160L419.5 1160L415.5 1160L411.5 1160L407.5 1160L403.5 1160L399.5 1160L395.5 1160L391.5 1160L387.5 1160L383.5 1160L379.5 1160L375.5 1160L371.5 1160L367.5 1160L363.5 1160L359.5 1160L355.5 1160Z" fill="#000"/>
<path d="M355.5 1160L359.5 1160L363.5 1160L367.5 1160L371.5 1160L375.5 1160L379.5 1160L383.5 1160L387.5 1160L391.5 1160L395.5 1160L399.5 1160L403.5 1160L407.5 1160L411.5 1160L415.5 1160L419.5 1160L423.5 1160L426.5 1160L426.5 1198L423.5 1196L419.5 1201.2L415.5 1198L411.5 1198.8L407.5 1194.6L403.5 1194.4L399.5 1198.4L395.5 1198.1L391.5 1201.9L387.5 1200.2L383.5 1201.1L379.5 1195.3L375.5 1198L371.5 1198.1L367.5 1195.6L363.5 1195.5L359.5 1195.2L355.5 1199.3Z" fill="#000"/>
<path class="d" stroke-width="5.0" d="M356.4 868h0M425.9 868h0M355.3 871.5h0M425.7 871.5h0M356.4 875h0M426.6 875h0M356.2 878.5h0M424.9 878.5h0M356.2 882h0M425.3 882h0M356.1 885.5h0M425.7 885.5h0M356.6 889h0M425.8 889h0M356.2 892.5h0M425 892.5h0M357 896h0M425.9 896h0M357.4 899.5h0M424.9 899.5h0M355.5 903h0M423.9 903h0M355.7 906.5h0M424.1 906.5h0M355.8 910h0M425.7 910h0M356.3 913.5h0M426.5 913.5h0M356 917h0M424.3 917h0M355.8 920.5h0M424 920.5h0M357.5 924h0M425.4 924h0M356 927.5h0M426.2 927.5h0M357.4 931h0M424.9 931h0M357.2 934.5h0M425.7 934.5h0M356.7 938h0M423.8 938h0M356.4 941.5h0M426.6 941.5h0M356.4 945h0M425.6 945h0M355.5 948.5h0M426.1 948.5h0M358.1 952h0M424.7 952h0M356.4 955.5h0M425.2 955.5h0M356 959h0M424.2 959h0M355.6 962.5h0M425.8 962.5h0M356.9 966h0M426.7 966h0M358.4 969.5h0M426.4 969.5h0M358.3 973h0M426.3 973h0M355.3 976.5h0M423.9 976.5h0M358.4 980h0M426.4 980h0M357.2 983.5h0M425.5 983.5h0M356.6 987h0M424.9 987h0M355.7 990.5h0M425.3 990.5h0M356.1 994h0M423.9 994h0M358.1 997.5h0M425.4 997.5h0M358.1 1001h0M424.5 1001h0M357.1 1004.5h0M424.4 1004.5h0M357.9 1008h0M424.2 1008h0M357.3 1011.5h0M425.3 1011.5h0M356.3 1015h0M423.8 1015h0M356.8 1018.5h0M425.2 1018.5h0M357.9 1022h0M424.2 1022h0M355.8 1025.5h0M424.5 1025.5h0M357.8 1029h0M424.3 1029h0M357.3 1032.5h0M423.6 1032.5h0M355.5 1036h0M425.8 1036h0M356.8 1039.5h0M423.9 1039.5h0M356.8 1043h0M426.6 1043h0M356.5 1046.5h0M425.3 1046.5h0M356.6 1050h0M425.2 1050h0M355.3 1053.5h0M426.4 1053.5h0M357.1 1057h0M424.6 1057h0M356.1 1060.5h0M424.1 1060.5h0M358.3 1064h0M426.3 1064h0M356.4 1067.5h0M425.5 1067.5h0M357 1071h0M424.2 1071h0M355.3 1074.5h0M425.9 1074.5h0M355.7 1078h0M425.4 1078h0M355.3 1081.5h0M423.6 1081.5h0M355.7 1085h0M425.7 1085h0M357.2 1088.5h0M426.8 1088.5h0M357.4 1092h0M425.2 1092h0M355.2 1095.5h0M426.7 1095.5h0M356.8 1099h0M426.3 1099h0M355.3 1102.5h0M426.3 1102.5h0M356.8 1106h0M424.2 1106h0M356.5 1109.5h0M423.7 1109.5h0M357.1 1113h0M424.2 1113h0M357.5 1116.5h0M424.1 1116.5h0M357.5 1120h0M425.5 1120h0M357.5 1123.5h0M426.6 1123.5h0M357.5 874.6h0M361.5 871.5h0M365.5 871.7h0M369.5 872.6h0M373.5 876.5h0M377.5 872.9h0M381.5 869.2h0M385.5 871h0M389.5 872.6h0M393.5 876.9h0M397.5 876.4h0M401.5 872.4h0M405.5 871h0M409.5 874.4h0M413.5 872.3h0M417.5 873h0M421.5 875.2h0M425.5 868.4h0M357.5 1121.3h0M361.5 1117.9h0M365.5 1120.1h0M369.5 1120.3h0M373.5 1124.7h0M377.5 1123.1h0M381.5 1124.2h0M385.5 1120.3h0M389.5 1123.6h0M393.5 1125.6h0M397.5 1123.6h0M401.5 1125h0M405.5 1123.2h0M409.5 1120.9h0M413.5 1121.4h0M417.5 1123.3h0M421.5 1123.4h0M425.5 1120.7h0M391.5 767.1h0M388.7 766.8h0M367.3 769.4h0M417.1 769.5h0M382.1 770.2h0M366.1 771.1h0M413.3 772.4h0M406.2 773.6h0M412.9 774.4h0M381 775h0M404.8 774.9h0M413.4 776.8h0M386.1 776.4h0M390 777.4h0M400.9 779h0M361.2 779.9h0M378.1 779.1h0M373.1 780.1h0M373 780.3h0M412.4 781h0M377.1 783h0M371.1 782.6h0M415.7 782.9h0M374.7 783.2h0M392.2 785.3h0M365.9 785.1h0M379.4 785.5h0M398.1 785.8h0M371.7 786.4h0M403.4 787.6h0M364.3 786.8h0M389 789.7h0M394.6 789.5h0M407.2 788.6h0M398.2 788.8h0M392.9 791.3h0M370.8 791.7h0M370.3 790.6h0M412.3 792h0M418.6 792.1h0M418.8 792.4h0M362.6 793.5h0M370.3 793.5h0M368.1 794.7h0M365.7 794.9h0M381.6 795.5h0M390.6 795.9h0M370.9 797.8h0M415.1 797.1h0M392.6 796.3h0M380.1 796.4h0M398 798.6h0M407.3 799.1h0M411 798.2h0M412.2 799h0M406.3 801.2h0M366.2 800.6h0M408.4 800h0M400.1 801.1h0M405.8 800.7h0M389.4 801h0M361.5 803h0M374.4 803.2h0M374.4 802.4h0M372.5 803.8h0M381.6 803.8h0M375.1 805.1h0M357.1 805.9h0M400 804.2h0M392.3 805h0M402.8 804.6h0M399.5 806.1h0M413 807.8h0M377.5 807.4h0M415.9 807.8h0M361.4 807.7h0M411.8 809.4h0M388.6 809.8h0M411.9 810h0M422.7 809.1h0M407.2 809.3h0M384.1 809h0M371.4 810.5h0M414.8 811.7h0M404.6 811.4h0M391.7 811.1h0M402.5 810h0M387.1 811.9h0M388.8 812.2h0M374.1 813.6h0M358.8 813.6h0M411.6 813.7h0M374.2 813.9h0M382.1 812.9h0M422.1 813.1h0M364.1 814h0M374.8 814.2h0M413.4 814.5h0M422.6 815.4h0M369.7 815.4h0M378.4 815.1h0M414 817.6h0M396.6 817.4h0M380 816.3h0M378.9 817.5h0M395.4 816.3h0M373.1 817h0M357.5 816.1h0M365.7 819.8h0M365.4 819.5h0M411.3 818.6h0M393.9 820h0M399.1 818.8h0M423.8 818.5h0M422.4 818.6h0M378.3 821.3h0M417.4 821.4h0M369.1 822h0M406.4 821h0M415.1 820.2h0M397.8 821.6h0M410.1 821.3h0M389.5 822.5h0M398.4 822.8h0M388 823.1h0M397.1 823.8h0M376 822.5h0M369.2 822.2h0M415.1 823.8h0M365.2 822.7h0M416.1 826h0M425 824.6h0M361.1 824.5h0M391.2 824h0M374 824.9h0M403.5 824.3h0M365 824.7h0M364.9 826.2h0M411.7 827.8h0M359.4 827.6h0M414.7 827.3h0M377.2 827.6h0M362.1 826.1h0M422.4 826.4h0M419.7 827.5h0M363 829.3h0M366.6 829.3h0M402.9 828.5h0M389.4 828.4h0M416.6 829.3h0M404.2 829.2h0M360.7 829.8h0M410.3 829h0M390.5 831.5h0M393.3 830.6h0M392.1 830.4h0M356.8 831h0M416.6 831.4h0M370.9 831h0M396.8 831.2h0M388.2 831h0M417.3 833h0M410.6 833.4h0M364.8 832.5h0M378.1 832.7h0M390.4 832.6h0M425.4 833.5h0M382.1 833.4h0M420.3 832.3h0M422.7 834.8h0M417 835.6h0M378.6 834.3h0M412.1 834.8h0M380.7 834.9h0M406.7 835.8h0M419.7 835.5h0M368.6 834.7h0M370.3 836.7h0M368.7 837h0M365.6 837.3h0M384.9 836.5h0M403.8 836.7h0M358.1 837.7h0M408.5 837.8h0M376.8 836.5h0M404.6 836.3h0M401.6 839.1h0M360.1 838.6h0M385.7 840h0M366.5 839.2h0M361.9 839.9h0M408.1 839.6h0M408.2 838.4h0M373.1 838.1h0M357.5 841.1h0M361.5 845.1h0M365.5 844.3h0M369.5 840h0M373.5 847.7h0M377.5 840.7h0M381.5 838.7h0M385.5 842.6h0M389.5 843.6h0M393.5 839.4h0M397.5 844.2h0M401.5 844h0M405.5 845.9h0M409.5 842.1h0M413.5 838h0M417.5 837.9h0M421.5 845h0M425.5 843.5h0M355.2 840h0M426.3 840h0M358.2 843.5h0M424.7 843.5h0M356.9 847h0M425.6 847h0M358.3 850.5h0M425.6 850.5h0M356.9 854h0M426 854h0M356.8 857.5h0M423.6 857.5h0M357 861h0M424.9 861h0M356.3 864.5h0M424.8 864.5h0M355.9 868h0M424.5 868h0M357.7 871.5h0M426.4 871.5h0M356.7 875h0M426.3 875h0M355.5 1116h0M426.6 1116h0M358.3 1119.5h0M425.5 1119.5h0M358 1123h0M426.6 1123h0M356.7 1126.5h0M426.3 1126.5h0M355.3 1130h0M426.1 1130h0M357.3 1133.5h0M426.1 1133.5h0M355.7 1137h0M423.8 1137h0M356.9 1140.5h0M425.5 1140.5h0M357.5 1144h0M424.1 1144h0M357.1 1147.5h0M426.7 1147.5h0M356 1151h0M426.2 1151h0M358.4 1154.5h0M425.7 1154.5h0M356.7 1158h0M424.9 1158h0M357.5 1198.5h0M361.5 1195.6h0M365.5 1193.4h0M369.5 1196.5h0M373.5 1198.4h0M377.5 1197.3h0M381.5 1192.8h0M385.5 1201.6h0M389.5 1200.3h0M393.5 1200.1h0M397.5 1197.9h0M401.5 1196.1h0M405.5 1195.3h0M409.5 1194.7h0M413.5 1198.7h0M417.5 1196.1h0M421.5 1201.8h0M425.5 1194.6h0M358.1 1160h0M426.7 1160h0M357.9 1163.5h0M423.7 1163.5h0M356.8 1167h0M424.2 1167h0M355.6 1170.5h0M424.3 1170.5h0M357.6 1174h0M425.4 1174h0M355.6 1177.5h0M424.4 1177.5h0M355.4 1181h0M426.6 1181h0M357.7 1184.5h0M425.1 1184.5h0M358.4 1188h0M426.7 1188h0M355.9 1191.5h0M424.3 1191.5h0M355.8 1195h0M425.6 1195h0M357.2 1198.5h0M425.2 1198.5h0M383 1201.9h0M421.4 1200.3h0M373.7 1200.3h0M387.5 1200.6h0M402 1201.8h0M364 1200.1h0M366.6 1200.6h0M386.7 1202.7h0M405.3 1203.9h0M421.1 1202.8h0M400 1202.3h0M398 1203.8h0M415.3 1202.3h0M370 1203.8h0M403.4 1203.5h0M398.5 1204h0M405.9 1205.6h0M379.8 1204h0M405.7 1206h0M398.6 1204.7h0M380.2 1205.6h0M420.5 1204.7h0M422.3 1206.9h0M387.4 1206.6h0M405.2 1208h0M389.1 1207.7h0M384.7 1206.8h0M410 1207.9h0M407.1 1207.4h0M417.4 1209.9h0M393 1208.8h0M359.9 1209.1h0M381.9 1208h0M422.1 1208.6h0M418.2 1208h0M408.9 1211.3h0M401.9 1211h0M365.3 1211.7h0M407.5 1211h0M394.9 1211.6h0M390.6 1211h0M405.9 1213.5h0M380.6 1213.6h0M383.2 1213.3h0M383.3 1213.8h0M418.7 1213.6h0M383.5 1212.7h0M397.6 1214.1h0M393.9 1215.9h0M363.5 1215.8h0M395.5 1216h0M405 1215.4h0M406.9 1214.8h0M413.3 1217.8h0M404.9 1216.4h0M391 1217h0M382.4 1217h0M388.3 1218h0M399 1218h0M370.7 1219.5h0M383.5 1219.2h0M395 1219.5h0M378.4 1219.4h0M382.8 1219.6h0M400 1222h0M377.2 1220h0M415.9 1221h0M400.2 1221.7h0M415.6 1220.8h0"/>
<g class="hl">
<path class="h" stroke-width="3.2" d="M392 841.5h0M383.6 840.3h0M398.2 841.3h0M365.5 841.1h0M401.8 843.5h0M407.7 842.3h0M404.5 845.5h0M374.8 845h0M358.9 847.3h0M362.9 846.8h0M363.1 849h0M365.7 849.8h0M385.6 851.4h0M420.9 852.9h0M389.6 856.7h0M369.9 858.1h0M381.6 862h0M374.9 862.9h0M395.2 864.2h0M391.4 869.5h0M405 872.4h0M370.7 874.4h0M374.1 1135.1h0M400 1138.7h0M422.8 1142h0M395.2 1146.4h0M408.3 1149.8h0M394.2 1150.3h0M369.9 1154h0M386.7 1154.1h0M372.4 1157.3h0M405.2 1159.2h0M385.8 1158h0M393 1160.6h0M386.5 1165.7h0M421.3 1165.2h0M362.2 1169.8h0M401.7 1169.9h0M375.5 1172.5h0M398.8 1173.5h0M387.8 1174.9h0M372.2 1176h0M409.2 1176.7h0M379.2 1179.5h0M367.3 1179.8h0M382.9 1181.1h0M377.4 1180.1h0M405.4 1181.4h0M358.2 1184.1h0M416.5 1184.1h0M391.5 1185.1h0M420.1 1187.4h0M365.7 1187.6h0M418.8 1187.6h0M383.8 1189h0M361.8 1189.1h0M405.4 1188.7h0M383.2 1191.4h0M382.4 1191.1h0M401.1 1192.3h0M391.2 1193.5h0M359.8 1192.8h0M422.7 1195.2h0M359.9 1194.5h0M400.9 1194.3h0M375.9 1195.1h0M401.3 1197h0M419.8 1196.7h0M400.9 1198h0M387.4 1198.9h0M382.6 1198.5h0"/>
<path class="h" stroke-width="4.8" d="M396.3 843.2h0M400.3 845.8h0M371.8 850.3h0M358 852.8h0M411.4 854.2h0M392.7 855.1h0M402.7 856.8h0M421.4 859.6h0M362.9 1118.6h0M361.3 1163h0M411 1166.7h0M397.3 1170.4h0M407 1170.9h0M409.4 1175.8h0M359.1 1182.3h0M394.6 1183h0M413.3 1190.5h0M407.5 1197.2h0M399.4 1198.1h0"/>
</g>
<path class="r" d="M388.4 789.7h0M387.5 807.5h0M387.1 871.5h0M389 1159.7h0M388.7 1171.7h0"/>
</g>
<g class="tl" font-size="20">
<text transform="translate(327 813.6) scale(0.94 1.1)">8000</text>
<text transform="translate(327 896.6) scale(0.94 1.1)">7000</text>
<text transform="translate(327 979.6) scale(0.94 1.1)">6000</text>
<text transform="translate(327 1061.6) scale(0.94 1.1)">5000</text>
<text transform="translate(327 1143.6) scale(0.94 1.1)">4000</text>
<text transform="translate(327 1225.6) scale(0.94 1.1)">3000</text>
</g>
<g class="ax"><path d="M545 744V1240" stroke="#848484" stroke-width="3.344" fill="none"/>
<path d="M543.1 1239.5H650" stroke="#969696" stroke-width="4.343999999999999" fill="none"/>
<path d="M597 1239.5v6.5" stroke="#9a9a9a" stroke-width="4"/>
<path d="M545 766h-6M545 923h-6M545 1080h-6M545 1237h-6" stroke="#8c8c8c" stroke-width="2.4"/></g>
<g class="pl">
<ellipse cx="558.5" cy="1122" rx="1.9" ry="9.9" fill="#6e1f18"/>
<ellipse cx="635.5" cy="1122" rx="1.9" ry="9.9" fill="#6e1f18"/>
<path d="M597 766V1010" stroke="#a8a8a8" stroke-width="4"/>
<path d="M560.5 1018.1L564.5 1021.7L568.5 1018.4L572.5 1017.7L576.5 1021.8L580.5 1022.9L584.5 1019.5L588.5 1017.4L592.5 1022L596.5 1019L600.5 1017L604.5 1020.1L608.5 1020.1L612.5 1015L616.5 1019.6L620.5 1019.3L624.5 1017.1L628.5 1017.9L632.5 1021L633.5 1019L633.5 1197L632.5 1198L628.5 1195.1L624.5 1195.1L620.5 1198.4L616.5 1199.5L612.5 1198.1L608.5 1199.5L604.5 1197.4L600.5 1194.2L596.5 1199.2L592.5 1197.9L588.5 1194.9L584.5 1195.9L580.5 1194.7L576.5 1200.5L572.5 1197.7L568.5 1198.1L564.5 1198.1L560.5 1195.2Z" fill="#000"/>
<path d="M560.5 976.8L564.5 980.6L568.5 981L572.5 978.1L576.5 978.8L580.5 979.6L584.5 983.1L588.5 982.2L592.5 979.8L596.5 976.6L600.5 978.9L604.5 982.5L608.5 979.5L612.5 979.1L616.5 981.1L620.5 976.3L624.5 981.2L628.5 981.5L632.5 976.9L633.5 980L633.5 1034L632.5 1034L628.5 1034L624.5 1034L620.5 1034L616.5 1034L612.5 1034L608.5 1034L604.5 1034L600.5 1034L596.5 1034L592.5 1034L588.5 1034L584.5 1034L580.5 1034L576.5 1034L572.5 1034L568.5 1034L564.5 1034L560.5 1034Z" fill="#000"/>
<path class="d" stroke-width="5.0" d="M560.3 1016h0M633.3 1016h0M562 1019.5h0M632.4 1019.5h0M562.5 1023h0M632.3 1023h0M563.2 1026.5h0M630.5 1026.5h0M563.4 1030h0M632.5 1030h0M561.5 1033.5h0M633.5 1033.5h0M563.2 1037h0M632.5 1037h0M560.2 1040.5h0M632.6 1040.5h0M561.6 1044h0M632.4 1044h0M562.9 1047.5h0M630.9 1047.5h0M563 1051h0M631.5 1051h0M561 1054.5h0M630.6 1054.5h0M560.6 1058h0M631.4 1058h0M561.9 1061.5h0M633.6 1061.5h0M560.8 1065h0M631.5 1065h0M561.4 1068.5h0M632.6 1068.5h0M561.4 1072h0M632.7 1072h0M560.7 1075.5h0M630.6 1075.5h0M562.1 1079h0M632.9 1079h0M560.6 1082.5h0M630.7 1082.5h0M562.4 1086h0M630.7 1086h0M563.3 1089.5h0M632.8 1089.5h0M560.7 1093h0M631.9 1093h0M560.4 1096.5h0M630.8 1096.5h0M561.4 1100h0M633.4 1100h0M563.2 1103.5h0M633 1103.5h0M562.3 1107h0M632.4 1107h0M561.9 1110.5h0M632.7 1110.5h0M561.8 1114h0M631.8 1114h0M563 1117.5h0M631.5 1117.5h0M561.5 1121h0M632.7 1121h0M563.4 1124.5h0M631.6 1124.5h0M561.6 1128h0M631.8 1128h0M560.9 1131.5h0M631.7 1131.5h0M562.8 1135h0M631.1 1135h0M561.8 1138.5h0M631.4 1138.5h0M562.1 1142h0M633.1 1142h0M560.6 1145.5h0M632.1 1145.5h0M560.8 1149h0M632.6 1149h0M562.4 1152.5h0M631.2 1152.5h0M561 1156h0M631.5 1156h0M561.3 1159.5h0M633.4 1159.5h0M563.1 1163h0M633.1 1163h0M561.5 1166.5h0M632 1166.5h0M560.9 1170h0M632 1170h0M563.3 1173.5h0M630.8 1173.5h0M561.5 1177h0M631.1 1177h0M563 1180.5h0M631.5 1180.5h0M561.8 1184h0M630.7 1184h0M562.5 1187.5h0M632.2 1187.5h0M562.8 1191h0M632.9 1191h0M562.7 1194.5h0M631.4 1194.5h0M561 1198h0M632.5 1198h0M562.5 1017.3h0M566.5 1023.9h0M570.5 1019.9h0M574.5 1018.5h0M578.5 1022h0M582.5 1022.2h0M586.5 1020.4h0M590.5 1019.1h0M594.5 1021.4h0M598.5 1018.3h0M602.5 1018.4h0M606.5 1020.8h0M610.5 1021.9h0M614.5 1015.5h0M618.5 1022h0M622.5 1021.4h0M626.5 1017.2h0M630.5 1018.8h0M634.5 1022.1h0M562.5 1194.6h0M566.5 1196.2h0M570.5 1196.6h0M574.5 1195.8h0M578.5 1200.6h0M582.5 1193.9h0M586.5 1195h0M590.5 1193.8h0M594.5 1198.9h0M598.5 1197.4h0M602.5 1193.6h0M606.5 1197.9h0M610.5 1197.5h0M614.5 1197.2h0M618.5 1197.9h0M622.5 1196.8h0M626.5 1193.9h0M630.5 1192.9h0M634.5 1198.8h0M571.2 828.3h0M599 836.5h0M565.5 838.3h0M594.4 842.3h0M630 850.2h0M612.7 861.8h0M563.7 874.4h0M627.5 876.6h0M630.7 879.4h0M569 880.7h0M628.8 882.8h0M630.6 882.5h0M625.3 884.2h0M617.5 885.2h0M620.7 886.9h0M631.3 887.1h0M627.6 888.8h0M613.2 891.3h0M610.4 893.5h0M575.2 892.2h0M600.1 894.2h0M621.7 894.8h0M613.6 896.9h0M591.8 899.2h0M622.7 899.8h0M563.2 901.3h0M610.3 901.3h0M619.2 903.3h0M619.8 902.3h0M608.8 904.2h0M573.5 905.3h0M628 906.6h0M596 907h0M583.1 909.8h0M612.9 909.1h0M624.2 911.5h0M600.2 910.1h0M607.7 912.2h0M607.2 912.7h0M589 913.6h0M614.6 914.9h0M599.6 916h0M604.6 916.2h0M625.5 916.1h0M608.3 918.4h0M615 919.4h0M573.2 919.8h0M608.1 922h0M618.4 920.9h0M628.1 923.4h0M567.4 922.7h0M587.5 924.3h0M593.9 924.3h0M568.5 927.5h0M576.6 927.9h0M569.1 927.3h0M575.6 929.3h0M600.5 929.2h0M574.6 929h0M605.4 930.5h0M585.2 931.8h0M595.4 933h0M592 932h0M569.1 933.7h0M582.2 934.9h0M565.2 934.2h0M620.3 935.5h0M584 936.2h0M584.1 937h0M614.9 937h0M632.4 939.1h0M564.6 938.3h0M609.3 938.3h0M565.4 940.1h0M632.2 940.8h0M600.9 941.2h0M585.3 942.7h0M613.9 943.6h0M610.8 942.4h0M594.3 943.8h0M586.3 945.2h0M632.2 944.1h0M610.6 944.9h0M599.1 945.7h0M604 946.6h0M615.1 947.4h0M591 946.3h0M615.8 947.4h0M614.4 949.9h0M578.9 949.4h0M618.8 948.5h0M625.6 948.6h0M602.8 951.9h0M624.3 951.6h0M587.8 950.9h0M603.2 951.6h0M625.3 952.4h0M598.5 952.3h0M573.6 952.6h0M564.9 953.1h0M589.6 955.6h0M600.3 955.4h0M567.6 954.7h0M563 954.3h0M571.1 957.2h0M588.3 957.3h0M623.4 957.7h0M630 957.9h0M631.7 959.5h0M581.2 958.7h0M598.7 959.7h0M568.5 959.8h0M609.1 959.2h0M588.6 960.8h0M612.3 960.9h0M612.2 961.8h0M567.7 960h0M628.3 960.4h0M590.2 962.4h0M562.4 962.9h0M604.1 962.1h0M562.3 962.6h0M624.1 963.5h0M590.1 964.8h0M611.8 964.6h0M586.7 965h0M578.3 964.9h0M614.6 965h0M586.3 967.1h0M578 966.8h0M601.2 966.7h0M574.5 967.7h0M566.2 967.8h0M568.2 967.1h0M590.6 969.3h0M624.2 968.6h0M565.8 968.4h0M623.9 969.2h0M615 968.8h0M610.5 971.1h0M626.3 970.3h0M585.9 971.4h0M625.9 970.9h0M617.4 970.2h0M606.9 970.7h0M582.6 972.4h0M580.6 973.4h0M612.1 973.8h0M590.9 972.1h0M618.9 972.5h0M612.5 973h0M563.7 974.5h0M614.6 974.9h0M624.1 975.6h0M599.4 976h0M561.7 974.8h0M599.4 974.1h0M572.1 977.2h0M580.7 976.8h0M594.5 976.6h0M573.7 977.3h0M606 976.2h0M630.6 976.2h0M562.5 977.3h0M566.5 982.6h0M570.5 980.9h0M574.5 978.9h0M578.5 979.1h0M582.5 980.5h0M586.5 983.5h0M590.5 982.4h0M594.5 982.1h0M598.5 978h0M602.5 981.4h0M606.5 982.7h0M610.5 980.1h0M614.5 979.4h0M618.5 983.1h0M622.5 976.6h0M626.5 982.6h0M630.5 981.1h0M634.5 977.8h0M561.1 978h0M633.5 978h0M561.4 981.5h0M633.6 981.5h0M562.1 985h0M631.6 985h0M562 988.5h0M633.6 988.5h0M562.5 992h0M633.2 992h0M562.1 995.5h0M632.5 995.5h0M560.7 999h0M633.2 999h0M562.3 1002.5h0M632.6 1002.5h0M561.2 1006h0M633 1006h0M561.9 1009.5h0M631.6 1009.5h0M563.5 1013h0M633 1013h0M562.4 1016.5h0M633.3 1016.5h0M562.5 1020h0M631.8 1020h0M563.4 1023.5h0M633.5 1023.5h0M611 767h0M575 827h0M575 853h0M586 856h0M627 851h0M602 871h0M612 871h0M580 1210h0M632 1217h0"/>
<g class="hl">
<path class="h" stroke-width="3.2" d="M623.5 979.7h0M580 981.2h0M604.3 981.8h0M570.8 980h0M584.9 982.9h0M606.9 985.3h0M581.7 987.5h0M617.1 986h0M606 989.2h0M618.9 989.1h0M595.1 990.4h0M615.1 992.3h0M609.5 993.1h0M610.9 994.3h0M588.7 999.4h0M627.4 1000.9h0M573.3 1003.8h0M572.9 1004.2h0M592.9 1006.4h0M568.5 1011.4h0"/>
<path class="h" stroke-width="4.8" d="M592.6 979h0M594.7 979.6h0M593 982.1h0M563 983.8h0M569.4 984.6h0M582.7 984.4h0M619.7 991.3h0M598.7 995.4h0M613.9 997.7h0M609.7 1008.3h0"/>
</g>
<path class="r" d="M595.7 953.8h0M596.9 974.3h0M598.2 1008.6h0M597.8 1001.5h0"/>
</g>
<g class="tl" font-size="20">
<text transform="translate(534 773.6) scale(0.94 1.1)">150000</text>
<text transform="translate(534 930.6) scale(0.94 1.1)">100000</text>
<text transform="translate(534 1087.6) scale(0.94 1.1)">50000</text>
<text transform="translate(534 1244.6) scale(0.94 1.1)">0</text>
</g>
<g class="ax"><path d="M749 744V1241" stroke="#9e9e9e" stroke-width="4.224" fill="none"/>
<path d="M746.6 1240.5H855" stroke="#b0b0b0" stroke-width="5.224" fill="none"/>
<path d="M801 1240.5v6.5" stroke="#9a9a9a" stroke-width="4"/>
<path d="M749 766h-6M749 920h-6M749 1073h-6M749 1226h-6" stroke="#8c8c8c" stroke-width="2.4"/></g>
<g class="pl">
<ellipse cx="763.5" cy="957" rx="1.9" ry="9.9" fill="#6e1f18"/>
<ellipse cx="839.5" cy="957" rx="1.9" ry="9.9" fill="#6e1f18"/>
<path d="M801 1090V1216" stroke="#666" stroke-width="2.5"/>
<path d="M765.5 847.6L769.5 847L773.5 851.6L777.5 851.2L781.5 847.5L785.5 847.9L789.5 847.1L793.5 846L797.5 845.7L801.5 850.6L805.5 849.8L809.5 847.3L813.5 846L817.5 851.5L821.5 845.3L825.5 847.5L829.5 848.4L833.5 851.9L837.5 848L837.5 1042L833.5 1040.5L829.5 1038.3L825.5 1040.1L821.5 1045.8L817.5 1038.6L813.5 1039.4L809.5 1042.2L805.5 1043.8L801.5 1044.1L797.5 1043.7L793.5 1038.2L789.5 1039.7L785.5 1042.1L781.5 1044.8L777.5 1038.1L773.5 1039.9L769.5 1044.9L765.5 1038.6Z" fill="#000"/>
<path d="M765.5 802.3L769.5 799.7L773.5 804.7L777.5 805.8L781.5 804.5L785.5 805.5L789.5 805.8L793.5 800.9L797.5 802.3L801.5 801.3L805.5 804.3L809.5 799.3L813.5 799.8L817.5 801.6L821.5 802.4L825.5 805.9L829.5 800.7L833.5 798L837.5 802L837.5 860L833.5 860L829.5 860L825.5 860L821.5 860L817.5 860L813.5 860L809.5 860L805.5 860L801.5 860L797.5 860L793.5 860L789.5 860L785.5 860L781.5 860L777.5 860L773.5 860L769.5 860L765.5 860Z" fill="#000"/>
<path d="M765.5 1030L769.5 1030L773.5 1030L777.5 1030L781.5 1030L785.5 1030L789.5 1030L793.5 1030L797.5 1030L801.5 1030L805.5 1030L809.5 1030L813.5 1030L817.5 1030L821.5 1030L825.5 1030L829.5 1030L833.5 1030L837.5 1030L837.5 1068L833.5 1071.7L829.5 1064.3L825.5 1065.5L821.5 1066.5L817.5 1065.4L813.5 1065.8L809.5 1068.5L805.5 1065.8L801.5 1066.1L797.5 1071.3L793.5 1069.2L789.5 1067.8L785.5 1067.4L781.5 1068.4L777.5 1066.7L773.5 1066.1L769.5 1070.1L765.5 1071.9Z" fill="#000"/>
<path class="d" stroke-width="5.0" d="M766.1 845h0M835.8 845h0M765.4 848.5h0M835.8 848.5h0M767.7 852h0M835.5 852h0M765.8 855.5h0M836.3 855.5h0M768.2 859h0M836.6 859h0M765.6 862.5h0M835.9 862.5h0M766 866h0M837.2 866h0M766.6 869.5h0M836 869.5h0M768.1 873h0M835.5 873h0M766.7 876.5h0M837.7 876.5h0M766.2 880h0M836.3 880h0M767.3 883.5h0M835.6 883.5h0M767.3 887h0M835.9 887h0M767.9 890.5h0M836.3 890.5h0M767.6 894h0M836.4 894h0M767.5 897.5h0M835.8 897.5h0M765.7 901h0M835.7 901h0M766.3 904.5h0M834.5 904.5h0M767.7 908h0M836.2 908h0M766.8 911.5h0M836.8 911.5h0M765.4 915h0M834.9 915h0M767.6 918.5h0M834.6 918.5h0M768.1 922h0M836.2 922h0M768.4 925.5h0M837.3 925.5h0M766.5 929h0M835.6 929h0M766.6 932.5h0M837 932.5h0M766.7 936h0M836.9 936h0M768.5 939.5h0M837 939.5h0M766.9 943h0M836.9 943h0M766.8 946.5h0M836.4 946.5h0M766.6 950h0M837.6 950h0M768.5 953.5h0M836.4 953.5h0M767 957h0M834.8 957h0M767.1 960.5h0M837.6 960.5h0M766 964h0M837.1 964h0M766 967.5h0M836.9 967.5h0M766.1 971h0M836.5 971h0M767.8 974.5h0M834.6 974.5h0M768 978h0M836.2 978h0M766 981.5h0M835.5 981.5h0M767 985h0M836.9 985h0M765.8 988.5h0M834.7 988.5h0M766 992h0M836.6 992h0M766.5 995.5h0M837 995.5h0M767.6 999h0M835.7 999h0M767.1 1002.5h0M835 1002.5h0M767.2 1006h0M836.6 1006h0M766 1009.5h0M836.7 1009.5h0M765.7 1013h0M837.7 1013h0M767 1016.5h0M837.5 1016.5h0M767.4 1020h0M835.2 1020h0M767.6 1023.5h0M836.5 1023.5h0M766.4 1027h0M836.8 1027h0M767.7 1030.5h0M836.7 1030.5h0M765.9 1034h0M837.7 1034h0M768.2 1037.5h0M835.9 1037.5h0M768.3 1041h0M837.8 1041h0M766.3 1044.5h0M835.1 1044.5h0M767.5 847.5h0M771.5 847.7h0M775.5 851.1h0M779.5 851h0M783.5 849.1h0M787.5 847h0M791.5 848.2h0M795.5 846.4h0M799.5 847.2h0M803.5 850.5h0M807.5 850.5h0M811.5 847h0M815.5 845h0M819.5 853.6h0M823.5 845.6h0M827.5 847.6h0M831.5 850.6h0M835.5 852.2h0M767.5 1037.8h0M771.5 1045.4h0M775.5 1039.5h0M779.5 1036.1h0M783.5 1042.9h0M787.5 1040.2h0M791.5 1037.5h0M795.5 1038.4h0M799.5 1044.5h0M803.5 1044.7h0M807.5 1042.5h0M811.5 1041.3h0M815.5 1039.1h0M819.5 1037.1h0M823.5 1046h0M827.5 1038.9h0M831.5 1037.9h0M835.5 1041h0M779.4 767.6h0M819.8 766.9h0M798.2 766.4h0M776.3 767.4h0M805.9 768.7h0M785.1 768.3h0M819.9 768.9h0M777.2 769.7h0M782.5 770.3h0M805.7 771.6h0M768.7 771.8h0M815.7 771.7h0M796 770.9h0M784.9 773.7h0M786.5 773.8h0M824.8 773.8h0M776.3 772.8h0M824.9 772.6h0M767.9 775.1h0M805 774.4h0M784.6 775.3h0M778.6 775.6h0M827.6 774.8h0M806.5 776.6h0M773.9 777.4h0M805.7 776.5h0M783.8 777.4h0M830.7 776.7h0M781.9 778.9h0M807.1 778.6h0M808.8 779.1h0M769.5 778.2h0M795.5 778.3h0M808 781.3h0M828.5 781.2h0M820.5 780.2h0M827.6 781.9h0M807.9 781.7h0M796.9 782.3h0M800.1 783.4h0M822.1 783.8h0M802.8 783.9h0M792.5 782h0M804.4 785.5h0M782.8 784.1h0M817.1 784.4h0M826.1 785.1h0M776 785h0M820.6 784.4h0M770.5 786.3h0M808.1 787.4h0M808.7 787.8h0M780.6 786.1h0M804.1 786.7h0M794.2 789.8h0M786.5 789.4h0M806.2 788.6h0M830.3 788.5h0M787.5 788.4h0M815.6 789.4h0M774.7 791.2h0M790.1 791.1h0M812.4 790h0M769.7 791.6h0M827.3 790.2h0M782.1 790.9h0M788.1 793.9h0M772.9 793.8h0M770.5 793.2h0M834.5 793.4h0M830.5 792.7h0M833.4 793.8h0M820.5 795.8h0M781.5 794.8h0M820.4 795.1h0M830.7 794.9h0M797.9 794.3h0M785.7 795.7h0M784.8 795.8h0M806.4 796.6h0M766.6 796.2h0M824.5 797.9h0M833.9 796.6h0M832.1 796.9h0M792.2 797.8h0M814 798.6h0M774 798.4h0M784.9 798.4h0M806.5 798.6h0M781.6 799.8h0M792.3 798h0M767.2 799.1h0M767.5 802.7h0M771.5 801.8h0M775.5 804h0M779.5 806.6h0M783.5 805.6h0M787.5 807.4h0M791.5 805.9h0M795.5 802.1h0M799.5 804.7h0M803.5 803.7h0M807.5 805.3h0M811.5 799.5h0M815.5 801.1h0M819.5 803.2h0M823.5 803.7h0M827.5 807.3h0M831.5 801h0M835.5 799.5h0M766.4 800h0M835.3 800h0M765.5 803.5h0M836.3 803.5h0M765.8 807h0M835.4 807h0M766.2 810.5h0M835.7 810.5h0M766.6 814h0M837.7 814h0M766.9 817.5h0M836.3 817.5h0M766.5 821h0M836.3 821h0M767.9 824.5h0M836.2 824.5h0M766.9 828h0M835.7 828h0M765.8 831.5h0M835.2 831.5h0M765.5 835h0M835.4 835h0M765.3 838.5h0M835.9 838.5h0M767.1 842h0M834.9 842h0M767.7 845.5h0M836 845.5h0M767.3 849h0M835.9 849h0M767.5 1069.6h0M771.5 1069.5h0M775.5 1064.3h0M779.5 1065.1h0M783.5 1069.1h0M787.5 1066.4h0M791.5 1068.5h0M795.5 1067.7h0M799.5 1071.1h0M803.5 1065.7h0M807.5 1065.9h0M811.5 1066.7h0M815.5 1064.6h0M819.5 1065.3h0M823.5 1064.9h0M827.5 1065.9h0M831.5 1062.5h0M835.5 1070.6h0M767.7 1040h0M836.5 1040h0M768.5 1043.5h0M836.8 1043.5h0M766.7 1047h0M836.4 1047h0M767.1 1050.5h0M835.4 1050.5h0M766.2 1054h0M837.1 1054h0M767.9 1057.5h0M837.7 1057.5h0M767.5 1061h0M836.2 1061h0M766.5 1064.5h0M836.8 1064.5h0M767.3 1068h0M837.6 1068h0M793.3 1070.2h0M781.3 1071.2h0M823 1070.3h0M834.8 1071.8h0M792.1 1071.1h0M813.6 1070.7h0M792.1 1071.4h0M800.4 1070.9h0M805.9 1070.2h0M799.4 1070.6h0M803.2 1073.4h0M803.3 1073h0M813.4 1072.8h0M835.2 1072.4h0M767.1 1073.1h0M815.2 1072.8h0M794.4 1072.7h0M783.5 1073.6h0M826.9 1072.6h0M798.7 1074.3h0M817.8 1075.1h0M835.8 1075.8h0M829.7 1074.5h0M774.2 1075.6h0M774.1 1075.4h0M778.8 1075.4h0M770.3 1074.2h0M802.6 1076.9h0M834.5 1077.6h0M782.3 1077.4h0M793.5 1076.9h0M788.4 1076.5h0M787.7 1076.5h0M779.7 1077.7h0M805.7 1079.6h0M814 1078.3h0M833.2 1079.9h0M825.3 1078.7h0M824.6 1079.3h0M768.7 1078.8h0M815.4 1079.1h0M821.8 1081.7h0M835.1 1080.7h0M830.1 1080h0M822.4 1080.2h0M801.5 1080.9h0M771.5 1081.3h0M782.1 1082.5h0M820.5 1083.1h0M767.8 1082.6h0M832.6 1082.6h0M786.7 1082.9h0M828.6 1083.6h0M813.1 1084.1h0M771 1084.7h0M810.9 1084.3h0M769.5 1085.7h0M779.5 1084.1h0M772.5 1084.2h0M807 1087.3h0M786.5 1087h0M789.8 1087.2h0M774.1 1087.2h0M766.5 1087.8h0M781.1 1087.1h0M797.6 1088.5h0M811.4 1089.6h0M825.6 1089.9h0M798.4 1089.1h0M791.1 1088.6h0M802.1 1089.9h0M818.8 1090.6h0M808.3 1090.5h0M816.8 1091h0M788.2 1090.9h0M766.8 1090.2h0M772.3 1092.8h0M813.4 1092.1h0M831.7 1092.4h0M833.9 1092.9h0M808.8 1094.2h0M801.9 1095.5h0M821.8 1095.5h0M814.1 1094.3h0M802.1 1096.1h0M820.1 1096.2h0M806 1096.5h0M777.9 1097.9h0M817.8 1099.2h0M806 1099.7h0M770.9 1098.8h0M781.8 1099.2h0M770 1110h0M776 1114h0M786 1106h0M808 1116h0M828 1118h0M796 1130h0M834 1132h0M776 1144h0M800 1146h0M809 1138h0M771 1167h0M779 1164h0M830 1180h0M836 1195h0M782 1200h0M777 1217h0"/>
<g class="hl">
<path class="h" stroke-width="3.2" d="M813.5 800.2h0M785.7 801.5h0M783 800.1h0M776 800.5h0M795.5 802.9h0M820.4 803.9h0M786 803.2h0M786 805.8h0M795.7 807.2h0M813.5 806.9h0M810 806.9h0M803.5 807.2h0M801 809.3h0M834.9 808.6h0M833.3 809.6h0M780 810.8h0M797 810.5h0M806.4 810.2h0M799.6 813.4h0M802 815.8h0M811.3 815.5h0M786.6 817.4h0M794.8 817.8h0M769.6 816.4h0M773.8 818.6h0M800.2 818.1h0M785.7 820.1h0M830.5 821.4h0M812.6 822.1h0M783.6 827.8h0M831.5 826.8h0M791.5 829.9h0M834.6 829.8h0M828.8 830.9h0M787 832.7h0M834.8 837.6h0M814 838.9h0M784.2 840.7h0M783.9 845.7h0M771 1045.6h0M807.9 1054.5h0M832.8 1057h0M809.8 1058.7h0M780.6 1061.8h0M821.7 1060.4h0M821.7 1063.2h0M788.9 1064.2h0M834.2 1066.8h0M833.1 1067.4h0M783.1 1068.3h0M810.9 1068.2h0"/>
<path class="h" stroke-width="4.8" d="M773.7 802.4h0M794.8 804.1h0M782.6 805.2h0M801.7 805.6h0M781.1 812.5h0M807.5 813.2h0M797.9 814.5h0M807 822.8h0M826 825.3h0M799.5 825.7h0M785.1 834.4h0M801.2 1049.8h0M793.8 1062.4h0"/>
</g>
<path class="r" d="M801.3 766.9h0M800.8 787h0M800.9 841.7h0M802.8 811.4h0M800.9 829.5h0M801.6 1050.3h0M802 1063.5h0M803.5 1077h0M799.6 1097.5h0"/>
</g>
<g class="tl" font-size="20">
<text transform="translate(738 773.6) scale(0.94 1.1)">6</text>
<text transform="translate(738 927.6) scale(0.94 1.1)">4</text>
<text transform="translate(738 1080.6) scale(0.94 1.1)">2</text>
<text transform="translate(738 1233.6) scale(0.94 1.1)">0</text>
</g>
<g class="ax"><path d="M1033 756V1254" stroke="#696969" stroke-width="2.64" fill="none"/>
<path d="M1031.5 1253.5H1150" stroke="#7b7b7b" stroke-width="3.64" fill="none"/>
<path d="M1092 1253.5v6.5" stroke="#9a9a9a" stroke-width="4"/>
<path d="M1033 819h-6M1033 902h-6M1033 984h-6M1033 1066h-6M1033 1149h-6M1033 1231h-6" stroke="#8c8c8c" stroke-width="2.4"/></g>
<g class="pl">
<ellipse cx="1048.5" cy="993" rx="1.9" ry="11.0" fill="#6e1f18"/>
<ellipse cx="1135.5" cy="993" rx="1.9" ry="11.0" fill="#6e1f18"/>
<path d="M1051.5 849.8L1055.5 847L1059.5 845.2L1063.5 845.8L1067.5 844.6L1071.5 850.9L1075.5 845.3L1079.5 850.6L1083.5 850.4L1087.5 846L1091.5 847.3L1095.5 850.8L1099.5 845.9L1103.5 849.5L1107.5 846.1L1111.5 851.6L1115.5 846L1119.5 851.9L1123.5 844.1L1127.5 845.1L1131.5 845.1L1132.5 848L1132.5 1087L1131.5 1087L1127.5 1089.3L1123.5 1085.9L1119.5 1083.1L1115.5 1087.1L1111.5 1090.2L1107.5 1086.8L1103.5 1088L1099.5 1087.6L1095.5 1085.3L1091.5 1089.9L1087.5 1085.5L1083.5 1086.4L1079.5 1088.7L1075.5 1083.7L1071.5 1090.8L1067.5 1083.7L1063.5 1084.6L1059.5 1085.2L1055.5 1085.1L1051.5 1087.6Z" fill="#000"/>
<path d="M1051.5 781.1L1055.5 779.6L1059.5 780.7L1063.5 779.1L1067.5 778.4L1071.5 775.5L1075.5 778.1L1079.5 781.8L1083.5 781.6L1087.5 774.3L1091.5 776.4L1095.5 775.9L1099.5 780.7L1103.5 775.5L1107.5 780.1L1111.5 775.6L1115.5 776.7L1119.5 781.8L1123.5 775L1127.5 778.7L1131.5 776.2L1132.5 778L1132.5 800L1131.5 800L1127.5 800L1123.5 800L1119.5 800L1115.5 800L1111.5 800L1107.5 800L1103.5 800L1099.5 800L1095.5 800L1091.5 800L1087.5 800L1083.5 800L1079.5 800L1075.5 800L1071.5 800L1067.5 800L1063.5 800L1059.5 800L1055.5 800L1051.5 800Z" fill="#000"/>
<path d="M1051.5 800L1055.5 800L1059.5 800L1063.5 800L1067.5 800L1071.5 800L1075.5 800L1079.5 800L1083.5 800L1087.5 800L1091.5 800L1095.5 800L1099.5 800L1103.5 800L1107.5 800L1111.5 800L1115.5 800L1119.5 800L1123.5 800L1127.5 800L1131.5 800L1132.5 800L1132.5 862L1131.5 862L1127.5 862L1123.5 862L1119.5 862L1115.5 862L1111.5 862L1107.5 862L1103.5 862L1099.5 862L1095.5 862L1091.5 862L1087.5 862L1083.5 862L1079.5 862L1075.5 862L1071.5 862L1067.5 862L1063.5 862L1059.5 862L1055.5 862L1051.5 862Z" fill="#000"/>
<path d="M1051.5 1070L1055.5 1070L1059.5 1070L1063.5 1070L1067.5 1070L1071.5 1070L1075.5 1070L1079.5 1070L1083.5 1070L1087.5 1070L1091.5 1070L1095.5 1070L1099.5 1070L1103.5 1070L1107.5 1070L1111.5 1070L1115.5 1070L1119.5 1070L1123.5 1070L1127.5 1070L1131.5 1070L1132.5 1070L1132.5 1130L1131.5 1130L1127.5 1130L1123.5 1130L1119.5 1130L1115.5 1130L1111.5 1130L1107.5 1130L1103.5 1130L1099.5 1130L1095.5 1130L1091.5 1130L1087.5 1130L1083.5 1130L1079.5 1130L1075.5 1130L1071.5 1130L1067.5 1130L1063.5 1130L1059.5 1130L1055.5 1130L1051.5 1130Z" fill="#000"/>
<path d="M1051.5 1130L1055.5 1130L1059.5 1130L1063.5 1130L1067.5 1130L1071.5 1130L1075.5 1130L1079.5 1130L1083.5 1130L1087.5 1130L1091.5 1130L1095.5 1130L1099.5 1130L1103.5 1130L1107.5 1130L1111.5 1130L1115.5 1130L1119.5 1130L1123.5 1130L1127.5 1130L1131.5 1130L1132.5 1130L1132.5 1188L1131.5 1189.8L1127.5 1184.2L1123.5 1190.1L1119.5 1184.3L1115.5 1184.9L1111.5 1187.7L1107.5 1184.6L1103.5 1191.8L1099.5 1191.6L1095.5 1190.2L1091.5 1186.3L1087.5 1184.6L1083.5 1185.1L1079.5 1184.3L1075.5 1188.6L1071.5 1188.3L1067.5 1184.5L1063.5 1187.2L1059.5 1190.1L1055.5 1184.9L1051.5 1190.2Z" fill="#000"/>
<path class="d" stroke-width="5.0" d="M1054.5 845h0M1132.7 845h0M1052.4 848.5h0M1132.5 848.5h0M1053.5 852h0M1129.7 852h0M1054.2 855.5h0M1130.4 855.5h0M1054.4 859h0M1129.9 859h0M1054.2 862.5h0M1131.2 862.5h0M1052.9 866h0M1130.1 866h0M1052.8 869.5h0M1132 869.5h0M1053 873h0M1132.7 873h0M1053 876.5h0M1132.5 876.5h0M1051.6 880h0M1131.9 880h0M1053.2 883.5h0M1132.4 883.5h0M1052.3 887h0M1131 887h0M1053.9 890.5h0M1130.3 890.5h0M1052.4 894h0M1132.3 894h0M1053.3 897.5h0M1131.1 897.5h0M1051.3 901h0M1132 901h0M1052.6 904.5h0M1130.3 904.5h0M1052.5 908h0M1130 908h0M1054 911.5h0M1132.1 911.5h0M1054.4 915h0M1131.7 915h0M1051.7 918.5h0M1130.9 918.5h0M1054.5 922h0M1129.5 922h0M1052.3 925.5h0M1130 925.5h0M1051.8 929h0M1130.4 929h0M1053.2 932.5h0M1129.7 932.5h0M1054.1 936h0M1130.9 936h0M1051.8 939.5h0M1129.8 939.5h0M1052.9 943h0M1130.7 943h0M1052.9 946.5h0M1129.9 946.5h0M1052.4 950h0M1131.2 950h0M1051.5 953.5h0M1131.2 953.5h0M1054 957h0M1131.4 957h0M1051.6 960.5h0M1131.6 960.5h0M1051.5 964h0M1130 964h0M1051.2 967.5h0M1131.3 967.5h0M1051.8 971h0M1130.4 971h0M1051.6 974.5h0M1132.5 974.5h0M1051.7 978h0M1131.7 978h0M1053.9 981.5h0M1131 981.5h0M1053.1 985h0M1130.6 985h0M1053.9 988.5h0M1131.8 988.5h0M1051.5 992h0M1131.8 992h0M1051.7 995.5h0M1131.1 995.5h0M1051.8 999h0M1131.1 999h0M1053.4 1002.5h0M1131.9 1002.5h0M1052.3 1006h0M1129.7 1006h0M1052.7 1009.5h0M1132.5 1009.5h0M1053 1013h0M1131.5 1013h0M1053.7 1016.5h0M1131.6 1016.5h0M1054.3 1020h0M1132.7 1020h0M1053.6 1023.5h0M1132.2 1023.5h0M1051.7 1027h0M1130.4 1027h0M1053.5 1030.5h0M1131.4 1030.5h0M1054 1034h0M1132.1 1034h0M1052.3 1037.5h0M1130.1 1037.5h0M1053.4 1041h0M1129.9 1041h0M1052.8 1044.5h0M1130.4 1044.5h0M1052.5 1048h0M1131.7 1048h0M1053.3 1051.5h0M1131.5 1051.5h0M1051.4 1055h0M1132.5 1055h0M1053.5 1058.5h0M1132.5 1058.5h0M1053.2 1062h0M1131.6 1062h0M1054.1 1065.5h0M1132 1065.5h0M1053.3 1069h0M1129.6 1069h0M1051.3 1072.5h0M1131.9 1072.5h0M1054 1076h0M1130.8 1076h0M1051.9 1079.5h0M1131 1079.5h0M1054 1083h0M1132 1083h0M1051.6 1086.5h0M1130.2 1086.5h0M1053.5 849.5h0M1057.5 848.6h0M1061.5 845.1h0M1065.5 847.9h0M1069.5 845h0M1073.5 850.6h0M1077.5 845.7h0M1081.5 850h0M1085.5 852.5h0M1089.5 845.1h0M1093.5 847.8h0M1097.5 851.1h0M1101.5 845.1h0M1105.5 849.2h0M1109.5 848.5h0M1113.5 853.6h0M1117.5 846.5h0M1121.5 853.9h0M1125.5 846.2h0M1129.5 847.1h0M1133.5 846.6h0M1053.5 1086.6h0M1057.5 1084.3h0M1061.5 1083.7h0M1065.5 1083.4h0M1069.5 1081.3h0M1073.5 1091.2h0M1077.5 1081.5h0M1081.5 1087h0M1085.5 1085.8h0M1089.5 1083.5h0M1093.5 1089.9h0M1097.5 1084.9h0M1101.5 1086.6h0M1105.5 1085.6h0M1109.5 1086.9h0M1113.5 1088.3h0M1117.5 1085.8h0M1121.5 1080.8h0M1125.5 1085.8h0M1129.5 1088h0M1133.5 1084.9h0M1053.5 782.7h0M1057.5 778.8h0M1061.5 782.1h0M1065.5 779h0M1069.5 780.8h0M1073.5 775.7h0M1077.5 779.5h0M1081.5 780.9h0M1085.5 783.9h0M1089.5 775.6h0M1093.5 778.6h0M1097.5 777.5h0M1101.5 779.9h0M1105.5 777.1h0M1109.5 780.5h0M1113.5 775.3h0M1117.5 778.8h0M1121.5 783.1h0M1125.5 775.2h0M1129.5 777.9h0M1133.5 777.5h0M1051.4 776h0M1130.3 776h0M1051.4 779.5h0M1130.1 779.5h0M1053.7 783h0M1130.4 783h0M1054.5 786.5h0M1130.4 786.5h0M1053.8 790h0M1131.9 790h0M1053.3 793.5h0M1131.5 793.5h0M1051.7 797h0M1132.2 797h0M1053 800h0M1132.2 800h0M1053.1 803.5h0M1130.6 803.5h0M1054.3 807h0M1132.1 807h0M1054.5 810.5h0M1130.5 810.5h0M1052.8 814h0M1131 814h0M1054 817.5h0M1131.5 817.5h0M1053 821h0M1131.2 821h0M1054.1 824.5h0M1130.7 824.5h0M1051.6 828h0M1130.1 828h0M1052 831.5h0M1129.8 831.5h0M1054.4 835h0M1131.3 835h0M1053.8 838.5h0M1131 838.5h0M1052.9 842h0M1130.2 842h0M1054.1 845.5h0M1130.9 845.5h0M1052.5 849h0M1131.9 849h0M1053.6 1080h0M1132.7 1080h0M1052.4 1083.5h0M1130.5 1083.5h0M1054.1 1087h0M1132.3 1087h0M1054.1 1090.5h0M1130.9 1090.5h0M1052.6 1094h0M1132.6 1094h0M1051.9 1097.5h0M1130 1097.5h0M1051.8 1101h0M1130.5 1101h0M1052.6 1104.5h0M1130.8 1104.5h0M1052.7 1108h0M1129.6 1108h0M1052.3 1111.5h0M1131.2 1111.5h0M1051.4 1115h0M1131.1 1115h0M1054.2 1118.5h0M1131.7 1118.5h0M1054.3 1122h0M1132.3 1122h0M1052.8 1125.5h0M1129.6 1125.5h0M1051.4 1129h0M1131.4 1129h0M1053.5 1190.6h0M1057.5 1185h0M1061.5 1187.6h0M1065.5 1184.9h0M1069.5 1184.3h0M1073.5 1187.6h0M1077.5 1186.7h0M1081.5 1182.5h0M1085.5 1183h0M1089.5 1184.3h0M1093.5 1186.5h0M1097.5 1189.4h0M1101.5 1189.3h0M1105.5 1190.7h0M1109.5 1182.6h0M1113.5 1188h0M1117.5 1184.2h0M1121.5 1182.1h0M1125.5 1189.1h0M1129.5 1182.5h0M1133.5 1188h0M1052.7 1130h0M1131.8 1130h0M1053.5 1133.5h0M1131 1133.5h0M1052.9 1137h0M1132.2 1137h0M1054.1 1140.5h0M1132.8 1140.5h0M1052.4 1144h0M1131.7 1144h0M1053 1147.5h0M1132.3 1147.5h0M1052 1151h0M1131 1151h0M1052 1154.5h0M1132.2 1154.5h0M1053.5 1158h0M1129.5 1158h0M1051.6 1161.5h0M1130 1161.5h0M1053.2 1165h0M1132.1 1165h0M1052.3 1168.5h0M1129.8 1168.5h0M1053.1 1172h0M1131.5 1172h0M1052.6 1175.5h0M1130.4 1175.5h0M1052.3 1179h0M1130.3 1179h0M1053.9 1182.5h0M1130.8 1182.5h0M1053.6 1186h0M1131.3 1186h0M1052 1189.5h0M1130.4 1189.5h0M1076.2 1190.9h0M1070.9 1191.6h0M1120.1 1191.4h0M1084.7 1191.7h0M1123.9 1190.4h0M1104.3 1190.3h0M1127.5 1191.6h0M1085.4 1191.5h0M1076.9 1190.1h0M1061 1192.9h0M1117.8 1193.2h0M1074.9 1192.4h0M1096.2 1193h0M1121.5 1192.3h0M1089.5 1192.9h0M1083 1192.4h0M1083.5 1193.1h0M1069.7 1192.6h0M1124.1 1195h0M1080.8 1194.1h0M1093.3 1194.7h0M1064 1194.9h0M1100.5 1194.7h0M1109.2 1195.3h0M1060.1 1194.1h0M1093.9 1195.2h0M1072.2 1196.7h0M1107.9 1196.8h0M1094.1 1196.5h0M1101.4 1197h0M1055.7 1197.5h0M1114.1 1198h0M1124.3 1197.4h0M1089.6 1196.5h0M1086.1 1198.6h0M1064 1199.2h0M1107.4 1199.5h0M1066.6 1198.4h0M1102 1198.3h0M1120.2 1199.9h0M1101.6 1198.5h0M1096.6 1199.5h0M1102.9 1201.2h0M1121.8 1201.6h0M1104.3 1201.1h0M1120.5 1201.2h0M1105.8 1200.6h0M1063.3 1201.1h0M1071.7 1201.9h0M1071.7 1201.8h0M1069.5 1203.2h0M1079 1204h0M1100.6 1202.2h0M1078.1 1202.2h0M1091.5 1203.1h0M1078.6 1203.3h0M1088 1203.6h0M1105.1 1202.5h0M1057.7 1204.5h0M1057.6 1205.9h0M1094.6 1205.7h0M1127.8 1204.2h0M1121.2 1204h0M1106.7 1205.6h0M1083.6 1205.8h0M1091.8 1206.6h0M1067.1 1206.2h0M1095 1207h0M1069.2 1207.1h0M1061.3 1206.6h0M1104.3 1206.3h0M1093.7 1206.3h0M1070.9 1209.9h0M1122.5 1209.9h0M1076.1 1209.4h0M1060.6 1209.9h0M1106 1208.1h0M1065.6 1208.2h0M1080.9 1209.9h0M1079.3 1211.6h0M1056.3 1211.1h0M1083.9 1210.2h0M1122.6 1211.3h0M1128.2 1211.3h0M1100.8 1210.3h0M1090.3 1211.8h0M1102.1 1212.9h0M1081.6 1212h0M1071.5 1212.4h0M1062.2 1212.1h0M1110.7 1214h0M1106.4 1213.7h0M1070.8 1213.7h0M1117.9 1214.5h0M1077.3 1215.1h0M1071.8 1214.5h0M1108.5 1215.6h0M1127.3 1215.3h0M1081.1 1214.9h0M1098.3 1215.2h0M1096.9 1217.9h0M1090.4 1216.9h0M1057.6 1216.6h0M1090.7 1216h0M1087.6 1216.2h0M1075 1217.8h0M1063.9 1219.2h0M1091 1218.1h0M1077.2 1219.1h0M1086.5 1219.1h0M1060.3 1219.2h0M1100.1 1218.4h0M1123.7 1221.8h0M1100.5 1221h0M1110.2 1220.9h0M1107.1 1220.7h0M1096 1221.5h0M1098.2 1221.2h0M1081.1 1223.3h0M1088.1 1222.9h0M1083.2 1222.6h0M1101.2 1223.8h0M1069.7 1223.3h0M1094.3 1223.3h0M1084.7 1224h0M1082 1225h0M1101.5 1225.9h0M1103.5 1225.3h0M1081.1 1225.6h0M1065 1225.8h0M1088.6 1227.4h0M1095.1 1228h0M1064.3 1226.1h0M1098.9 1226.5h0M1072.1 1228h0M1094.1 1226.6h0M1072 1228.5h0M1065.3 1230h0M1109.1 1228.7h0M1063.4 1230h0M1120.5 1228.2h0M1118.9 1229.1h0M1087.7 1230.9h0M1056.1 1231.2h0M1072.9 1231.8h0M1071.8 1231.8h0M1079.9 1231.6h0"/>
<g class="hl">
<path class="h" stroke-width="3.2" d="M1073.5 777.9h0M1114 777.6h0M1122.4 779.6h0M1070 779.9h0M1056.4 780h0M1068 779.8h0M1098.3 780.3h0M1088.3 781.6h0M1127.9 780.4h0M1079.3 783.9h0M1101.6 782.5h0M1075.5 782.8h0M1112.3 785.3h0M1115.4 784.5h0M1114.4 786.4h0M1106 786.4h0M1116.5 789.4h0M1104.6 789.6h0M1060.5 790.2h0M1076.2 791.1h0M1074.4 791.8h0M1055.9 793.6h0M1059.6 794h0M1082.5 794.7h0M1093.9 798.5h0M1129.8 801h0M1086.3 802.4h0M1073.6 805.5h0M1112.9 807.4h0M1092.1 809.7h0M1084.4 811.4h0M1079.1 814.2h0M1084.4 822.9h0M1063.3 825.5h0M1088.8 830.5h0M1115.1 834.2h0M1071.8 836.6h0M1119 844.9h0M1111.7 1085.1h0M1096.1 1087.1h0M1117.2 1090.6h0M1128.5 1101.1h0M1076.6 1106.3h0M1090.4 1121.8h0M1084.6 1122.9h0M1079.1 1124.2h0M1092.8 1127.4h0M1110.3 1127.6h0M1057.2 1129.4h0M1108.6 1133.8h0M1075 1135.8h0M1078.5 1136.6h0M1055.1 1137.3h0M1057.7 1138.1h0M1068.1 1138.8h0M1075.9 1141.4h0M1089.6 1140.8h0M1106.2 1143.9h0M1126.7 1142.5h0M1062.9 1144.7h0M1076.4 1144.6h0M1128.6 1145.5h0M1079.4 1146.5h0M1118.7 1149h0M1079.8 1148.1h0M1126.3 1149.9h0M1110.3 1151.4h0M1060 1154h0M1059.3 1152.4h0M1090.8 1155.1h0M1066.6 1156.7h0M1103.4 1157.3h0M1069.3 1157.4h0M1129.2 1160.1h0M1069.4 1160.3h0M1126 1160.9h0M1119.3 1163.9h0M1067.5 1163.8h0M1121.1 1162.3h0M1064 1164.2h0M1085.6 1165.3h0M1086.6 1165.2h0M1108.9 1167.6h0M1129.8 1169.2h0M1085.8 1168.9h0M1126.4 1170.3h0M1054.9 1170.9h0M1065.5 1173h0M1077.1 1172.1h0M1080.4 1172.2h0M1070.7 1173.1h0M1091.8 1175.3h0M1106.5 1175.7h0M1071 1175.6h0M1081.2 1177.1h0M1063.2 1179.9h0M1119 1178.5h0M1072.8 1179.2h0M1097.6 1179.2h0M1055.5 1180.3h0M1125.7 1180.9h0M1100.9 1183.8h0M1078 1183.8h0M1106 1182.3h0M1129.6 1185.3h0M1127.1 1184.2h0M1103.3 1184h0M1095.3 1186.3h0M1069.3 1187h0M1064.8 1188.4h0M1063.5 1188.7h0M1114.6 1188.5h0"/>
<path class="h" stroke-width="4.8" d="M1094.4 776.4h0M1075.3 777.1h0M1102.4 778.1h0M1055 780.4h0M1064.7 784.3h0M1080.8 787.2h0M1084.4 786.1h0M1099.2 789.1h0M1098.8 792.4h0M1070.7 792.4h0M1079 796.3h0M1108.1 797.8h0M1092.1 798.5h0M1101.5 804.6h0M1098.9 809.3h0M1118.3 810h0M1124.7 812.5h0M1097.7 815h0M1072.6 817.5h0M1064.4 819.1h0M1108.3 820.5h0M1102.5 827h0M1115.4 1092.9h0M1065.3 1094h0M1088.3 1096h0M1083.4 1102.1h0M1129.8 1111.1h0M1108.1 1113.9h0M1064.9 1114.4h0M1072.1 1117.3h0M1085.8 1118.3h0M1054.4 1121.3h0M1065.9 1124.3h0M1076.1 1128.2h0M1119.6 1131.8h0M1073.7 1130.2h0M1065.1 1132.8h0M1097.7 1135h0M1059 1146h0M1087.6 1151.7h0M1059 1150.4h0M1107.4 1153.6h0M1087.1 1154.3h0M1054.3 1154.7h0M1117.8 1158.7h0M1103.8 1159.7h0M1069 1159h0M1074.1 1166h0M1087.5 1166.8h0M1094.7 1169h0M1075.9 1170.9h0M1091 1175.9h0M1066.7 1177h0M1056.8 1177.9h0M1127.9 1181.7h0M1062.8 1186h0M1097.6 1187.2h0M1065.7 1186.7h0M1106.2 1188.6h0"/>
</g>
<path class="r" d="M1093.9 779.3h0M1093.3 827.2h0M1093.3 849.7h0M1091.8 1122.4h0M1094.1 1092.4h0M1090.2 1132.3h0M1094.8 1184.9h0M1094.6 1214.2h0"/>
</g>
<g class="tl" font-size="20">
<text transform="translate(1022 826.6) scale(0.94 1.1)">8000</text>
<text transform="translate(1022 909.6) scale(0.94 1.1)">7000</text>
<text transform="translate(1022 991.6) scale(0.94 1.1)">6000</text>
<text transform="translate(1022 1073.6) scale(0.94 1.1)">5000</text>
<text transform="translate(1022 1156.6) scale(0.94 1.1)">4000</text>
<text transform="translate(1022 1238.6) scale(0.94 1.1)">3000</text>
</g>
<g class="ax"><path d="M1239 756V1254" stroke="#696969" stroke-width="2.64" fill="none"/>
<path d="M1237.5 1253.5H1356" stroke="#7b7b7b" stroke-width="3.64" fill="none"/>
<path d="M1299 1253.5v6.5" stroke="#9a9a9a" stroke-width="4"/>
<path d="M1239 918h-6M1239 1085h-6M1239 1252h-6" stroke="#8c8c8c" stroke-width="2.4"/></g>
<g class="pl">
<ellipse cx="1256.5" cy="1130" rx="1.9" ry="11.0" fill="#6e1f18"/>
<ellipse cx="1341" cy="1130" rx="1.9" ry="11.0" fill="#6e1f18"/>
<path d="M1299 780V1010" stroke="#555" stroke-width="2.5"/>
<path d="M1258.5 1031.9L1262.5 1030.9L1266.5 1031.4L1270.5 1035.6L1274.5 1033L1278.5 1030.3L1282.5 1030.7L1286.5 1030.4L1290.5 1031.5L1294.5 1030.2L1298.5 1030.1L1302.5 1036.8L1306.5 1032.2L1310.5 1029.6L1314.5 1036L1318.5 1030.4L1322.5 1034.9L1326.5 1032.2L1330.5 1032.7L1334.5 1031.5L1338.5 1033L1338.5 1211L1334.5 1212.3L1330.5 1213.4L1326.5 1209.3L1322.5 1207.2L1318.5 1213.5L1314.5 1212.4L1310.5 1214.3L1306.5 1209L1302.5 1212L1298.5 1212.5L1294.5 1213.4L1290.5 1214.2L1286.5 1208L1282.5 1209.1L1278.5 1209.5L1274.5 1210.9L1270.5 1214.9L1266.5 1212.5L1262.5 1214.2L1258.5 1212.9Z" fill="#000"/>
<path d="M1258.5 976.4L1262.5 975.6L1266.5 979.8L1270.5 975.4L1274.5 979.3L1278.5 976.4L1282.5 973.9L1286.5 977.6L1290.5 975.2L1294.5 974.6L1298.5 980.9L1302.5 980.5L1306.5 976.8L1310.5 979.5L1314.5 978.4L1318.5 975.4L1322.5 974L1326.5 977.6L1330.5 974.5L1334.5 979L1338.5 977L1338.5 1050L1334.5 1050L1330.5 1050L1326.5 1050L1322.5 1050L1318.5 1050L1314.5 1050L1310.5 1050L1306.5 1050L1302.5 1050L1298.5 1050L1294.5 1050L1290.5 1050L1286.5 1050L1282.5 1050L1278.5 1050L1274.5 1050L1270.5 1050L1266.5 1050L1262.5 1050L1258.5 1050Z" fill="#000"/>
<path class="d" stroke-width="5.0" d="M1259 1030h0M1338.1 1030h0M1258.5 1033.5h0M1336.8 1033.5h0M1260.6 1037h0M1335.6 1037h0M1261.4 1040.5h0M1337.5 1040.5h0M1260.4 1044h0M1336.1 1044h0M1258.9 1047.5h0M1338.3 1047.5h0M1261.4 1051h0M1335.5 1051h0M1260.9 1054.5h0M1336.2 1054.5h0M1258.5 1058h0M1337.5 1058h0M1258.5 1061.5h0M1338.3 1061.5h0M1261 1065h0M1336.4 1065h0M1258.7 1068.5h0M1337.2 1068.5h0M1260.7 1072h0M1335.6 1072h0M1260.5 1075.5h0M1335.9 1075.5h0M1259.4 1079h0M1336 1079h0M1258.5 1082.5h0M1337.3 1082.5h0M1259.2 1086h0M1338.5 1086h0M1261.2 1089.5h0M1337.9 1089.5h0M1259.9 1093h0M1337.6 1093h0M1259.3 1096.5h0M1337 1096.5h0M1260 1100h0M1336.9 1100h0M1259.7 1103.5h0M1338.3 1103.5h0M1261.5 1107h0M1337.9 1107h0M1261 1110.5h0M1336.5 1110.5h0M1258.4 1114h0M1336.2 1114h0M1259.8 1117.5h0M1338 1117.5h0M1260.6 1121h0M1338.5 1121h0M1260.8 1124.5h0M1336.5 1124.5h0M1258.4 1128h0M1337.1 1128h0M1259.3 1131.5h0M1338.4 1131.5h0M1261.2 1135h0M1337.3 1135h0M1260.8 1138.5h0M1337.9 1138.5h0M1259.9 1142h0M1337 1142h0M1261.3 1145.5h0M1338.1 1145.5h0M1260.1 1149h0M1338.8 1149h0M1258.7 1152.5h0M1338 1152.5h0M1260 1156h0M1336.6 1156h0M1258.6 1159.5h0M1337.4 1159.5h0M1261.1 1163h0M1336.1 1163h0M1261.2 1166.5h0M1338.8 1166.5h0M1258.8 1170h0M1337.3 1170h0M1259.8 1173.5h0M1336.6 1173.5h0M1258.6 1177h0M1336.4 1177h0M1261.3 1180.5h0M1338.3 1180.5h0M1261.3 1184h0M1337.1 1184h0M1259.8 1187.5h0M1335.7 1187.5h0M1259.6 1191h0M1337.4 1191h0M1261.5 1194.5h0M1335.7 1194.5h0M1260.4 1198h0M1335.7 1198h0M1261.4 1201.5h0M1336.2 1201.5h0M1260.5 1205h0M1337.6 1205h0M1258.9 1208.5h0M1337 1208.5h0M1259.6 1212h0M1336.1 1212h0M1260.5 1032.3h0M1264.5 1030.1h0M1268.5 1032.9h0M1272.5 1038h0M1276.5 1033.9h0M1280.5 1030.7h0M1284.5 1031.5h0M1288.5 1029.9h0M1292.5 1033.1h0M1296.5 1031.6h0M1300.5 1029.4h0M1304.5 1037.1h0M1308.5 1031.6h0M1312.5 1031h0M1316.5 1035h0M1320.5 1032.4h0M1324.5 1034.2h0M1328.5 1034.1h0M1332.5 1032.4h0M1336.5 1032.4h0M1260.5 1211.4h0M1264.5 1211.9h0M1268.5 1210.4h0M1272.5 1215.4h0M1276.5 1209.4h0M1280.5 1208.9h0M1284.5 1209.5h0M1288.5 1207.4h0M1292.5 1212h0M1296.5 1214.3h0M1300.5 1211h0M1304.5 1211.1h0M1308.5 1206.9h0M1312.5 1213.6h0M1316.5 1212.5h0M1320.5 1211.6h0M1324.5 1207.8h0M1328.5 1207.9h0M1332.5 1213.3h0M1336.5 1213.1h0M1320.2 776.3h0M1325 780.1h0M1329.1 791.1h0M1329.3 795.4h0M1322 799.1h0M1319 809.4h0M1271.8 810.2h0M1314.9 813.5h0M1325.7 816.3h0M1294.8 818.5h0M1303.5 826.6h0M1300.4 828.3h0M1282 837.5h0M1325.3 840.9h0M1296.9 842.6h0M1316 844.6h0M1304.3 846h0M1321.3 849.3h0M1309.3 852h0M1262.5 850.9h0M1318.5 852.6h0M1311.4 853.3h0M1260.8 853.2h0M1279.2 855.3h0M1308.8 854.4h0M1315 854.2h0M1328.7 857.9h0M1333.4 858h0M1317.3 857.1h0M1301.2 859.9h0M1334.9 858.9h0M1275.2 859.1h0M1322.6 861.8h0M1307.9 860.2h0M1301.2 860.3h0M1323.4 863.3h0M1296 862.3h0M1332.1 863.7h0M1263.6 865.4h0M1290.8 864.8h0M1289 864.5h0M1310.2 867h0M1293.1 867.5h0M1298.7 866.3h0M1280.4 867.1h0M1308.9 869.5h0M1287.4 869.5h0M1305 868.5h0M1308.3 871.7h0M1333.7 871.6h0M1323.7 871.2h0M1278.6 870.6h0M1280.8 873h0M1302.3 872h0M1268.2 872.4h0M1320.8 874.2h0M1272.2 876h0M1272.4 875.6h0M1327.5 877.5h0M1267.1 877.5h0M1315.3 876.1h0M1333 876.6h0M1300.4 879.1h0M1304 878.1h0M1326.1 879h0M1267.2 879h0M1293.2 881.4h0M1318.3 880.3h0M1281.9 881.9h0M1308.5 880.4h0M1278.8 882.1h0M1310.8 882.2h0M1270.4 883.4h0M1334.9 882.1h0M1270.6 884.1h0M1260.8 884h0M1316.5 885.8h0M1260.5 884.3h0M1291.3 886.6h0M1274.5 887.6h0M1267.7 887.3h0M1270.7 887.3h0M1269.6 886.4h0M1280.3 888.9h0M1311 890h0M1302.3 888.2h0M1311.7 889.4h0M1289.5 891.6h0M1264.4 891.1h0M1301.9 891.8h0M1320.3 890.5h0M1289.4 891.2h0M1264.4 894h0M1294.9 892.3h0M1271.4 892h0M1330.6 892.3h0M1303.5 893.9h0M1305.6 894.6h0M1312.1 895.6h0M1275.6 894.5h0M1291.6 895.2h0M1328.9 895.2h0M1316.1 896.3h0M1267.9 896h0M1304.5 897.2h0M1295.7 897.1h0M1274.2 896.4h0M1291 899h0M1330.8 898.9h0M1317.5 898.1h0M1297.8 898.1h0M1275 898.4h0M1302.1 901.8h0M1307.6 901.3h0M1292.8 901.7h0M1294.6 900.3h0M1277 901.6h0M1264 900.4h0M1312.7 902.9h0M1310.4 902.8h0M1305.5 902.1h0M1291.6 903.9h0M1304.4 902.7h0M1308.1 904h0M1292 905.6h0M1325.9 904.5h0M1311.6 904.6h0M1287.1 905.6h0M1287.8 905.8h0M1297.4 905.7h0M1291 906.1h0M1326.4 907.8h0M1297.4 906.9h0M1335.2 906.8h0M1283.4 906.3h0M1331.2 907.6h0M1300.6 907.5h0M1311.7 908.2h0M1310.1 909.7h0M1296.6 908.9h0M1309.8 908.4h0M1277.1 909.4h0M1337 908.2h0M1298.8 910.1h0M1272.1 910.6h0M1313.5 910.3h0M1288.6 911.2h0M1318.4 912h0M1324.9 910.4h0M1306.8 913.1h0M1306.1 912.8h0M1278.1 913.3h0M1327.6 913.4h0M1310.8 913.9h0M1279.3 913.1h0M1324 913.3h0M1299.3 915.6h0M1275.3 914.8h0M1336.1 914.9h0M1301.9 915.2h0M1325.8 914.9h0M1329.6 915.4h0M1290.8 915.2h0M1263.5 917h0M1263.1 916.6h0M1325.3 917.9h0M1274.9 916.3h0M1287.1 916.9h0M1270.6 917.6h0M1271.8 917.1h0M1309.9 918.2h0M1298 919.7h0M1260.8 918.4h0M1265.1 919.7h0M1311.8 918.5h0M1329.7 918.3h0M1297.6 919.5h0M1264.6 920.1h0M1273.9 921.9h0M1329.6 920.6h0M1263.2 921.3h0M1275 921.8h0M1331.2 921.6h0M1320.1 921.6h0M1289.1 923.4h0M1260.5 923.4h0M1294.2 924h0M1320.8 922.9h0M1314.6 923.2h0M1307.6 922h0M1277 922.5h0M1331 925.3h0M1318.6 925.3h0M1270.9 924.5h0M1304.9 925.5h0M1292.2 925.4h0M1285.6 924.6h0M1272.7 924.8h0M1268.1 927.9h0M1260.2 927.5h0M1286.6 927.9h0M1281.9 926.1h0M1313.4 926.8h0M1323.3 927.3h0M1293.9 927.3h0M1285.1 928.4h0M1310.5 929.1h0M1263.2 928.3h0M1293.1 928.2h0M1300.4 928.8h0M1282.6 929.5h0M1317.1 928.1h0M1306.1 930h0M1336.3 930.5h0M1276.7 930.7h0M1277.8 930.3h0M1279.4 931h0M1322.8 931.5h0M1262.6 931.5h0M1309.3 930.5h0M1260 931.7h0M1279.3 932.6h0M1321.6 933.9h0M1330.9 933.7h0M1325.4 932.9h0M1263.9 932.5h0M1270.5 932.2h0M1270 932.6h0M1263.4 932.6h0M1278.4 935h0M1325.9 934h0M1316.2 935.1h0M1261.9 935.8h0M1321.5 934.2h0M1334.5 935.2h0M1309 934.4h0M1261.9 935.4h0M1273.6 936.1h0M1304.3 936.6h0M1286.4 937.7h0M1303.6 936.2h0M1314 937.4h0M1303.8 937.9h0M1296.6 937.3h0M1263.9 936.6h0M1293 939h0M1268.4 939.4h0M1263.8 938.5h0M1305.1 938h0M1285.1 939.6h0M1316.6 938.8h0M1272.5 939.5h0M1327.3 938.2h0M1292.1 939.1h0M1275.3 941.6h0M1307 941.6h0M1333.5 941.4h0M1311.8 940.6h0M1280.8 940.7h0M1322.7 941.2h0M1281.2 941.8h0M1299.8 942h0M1316.8 942.7h0M1336.9 943h0M1312 942.8h0M1300.3 942.4h0M1288.2 942.8h0M1317.4 942.3h0M1274.9 943.3h0M1296.4 943.8h0M1261 942.9h0M1318.4 944.7h0M1299.8 944.8h0M1259.9 944.2h0M1277.3 945.7h0M1274.5 944.6h0M1303 945.4h0M1310.1 944.6h0M1286.1 944h0M1288.9 946.6h0M1275.7 947h0M1271.2 946.7h0M1267.7 946.4h0M1300.6 946.7h0M1267.9 947.7h0M1264.1 946.8h0M1282.4 946.1h0M1282.6 946.9h0M1279.7 948.8h0M1329.7 949.3h0M1294.2 948.4h0M1320.8 949.9h0M1278.2 949.7h0M1288.7 949h0M1261.5 948.5h0M1278.3 948.4h0M1323.9 949.9h0M1322.1 950.6h0M1304.8 950.4h0M1330.4 951h0M1305.5 951.6h0M1300.3 951h0M1315 950.9h0M1304.5 950.6h0M1271.4 950.4h0M1335.3 951.2h0M1274.1 953.2h0M1299.4 954h0M1330 952.1h0M1322.4 954h0M1317.7 953.9h0M1289.2 953.3h0M1312.9 953.6h0M1315.4 953.6h0M1285.8 953.6h0M1306.1 953.9h0M1307.8 955.7h0M1318.8 955.4h0M1270.9 954.3h0M1284.3 955.3h0M1262 955.3h0M1268.9 954.4h0M1281.2 955.1h0M1315.5 955.9h0M1277.3 954.2h0M1326.4 955.2h0M1315.3 956.3h0M1287.7 956.4h0M1294.6 956.6h0M1326.7 957.8h0M1274.3 958h0M1334.6 956.8h0M1327.7 957.9h0M1316.8 956.7h0M1308.6 957.5h0M1296.6 958.2h0M1271.7 959.6h0M1283.6 959.4h0M1293 959.4h0M1281.8 958.2h0M1311.6 958.5h0M1275.5 958.9h0M1298.2 959.8h0M1313.9 958.9h0M1293.9 959.2h0M1282.8 961.2h0M1332.8 961.2h0M1275.9 961.9h0M1321.6 960.4h0M1288.2 960.1h0M1318.9 960.4h0M1324 961.4h0M1320 961.1h0M1278.4 960.1h0M1305.9 960h0M1300 961.5h0M1293.6 963.1h0M1271.3 962.4h0M1307.1 962.3h0M1271.4 962.4h0M1332.6 963.8h0M1268.2 963.1h0M1291.6 962.1h0M1279.1 963.3h0M1261 963.9h0M1281.8 962.7h0M1333.5 962.3h0M1296.3 964.6h0M1284.4 965.2h0M1333.6 964.8h0M1262.9 964.7h0M1326 964.9h0M1264.2 964.5h0M1277.2 964.7h0M1284.3 965.3h0M1315.6 964.1h0M1270.9 965.6h0M1327.8 965.6h0M1313.5 966.2h0M1312.2 966.4h0M1325 967.7h0M1295.9 967.5h0M1333.2 967.8h0M1310 967.2h0M1287.3 967.4h0M1270.5 966.9h0M1266.1 966.2h0M1311.6 966.9h0M1275.7 967.9h0M1301.6 969h0M1273.9 970h0M1318.7 969.8h0M1282.9 969.8h0M1330.5 969.9h0M1273.4 968.3h0M1266 968.2h0M1314.2 968.1h0M1295.7 968.7h0M1316.3 968.1h0M1315.7 969.9h0M1291 971.5h0M1283.3 971.7h0M1337.2 970.4h0M1296.2 970.3h0M1303 970.8h0M1335.3 971.5h0M1336.9 971.6h0M1323.8 970.8h0M1311.4 970.2h0M1286.6 971.8h0M1335.9 970.3h0M1291.1 973.2h0M1305.8 972.5h0M1328.1 972.9h0M1320 973.4h0M1336 973h0M1305.4 973.5h0M1277.4 972.1h0M1322.9 973.4h0M1318 973.6h0M1275.1 973.8h0M1309.4 973.9h0M1327 974.1h0M1272.4 975.1h0M1311.6 974.8h0M1265.1 975.8h0M1265.1 975.8h0M1277.7 975.4h0M1305.8 974.5h0M1285.1 974.5h0M1301.1 974.6h0M1301.9 974.6h0M1268.9 975.4h0M1279.9 975.9h0M1280 977.4h0M1329.8 976.7h0M1316.7 976.7h0M1337 976.6h0M1262.4 976h0M1301.8 977.2h0M1281.8 976.8h0M1291.4 976.7h0M1274.3 977.1h0M1311.5 976.1h0M1328.2 976.5h0M1296.6 976.4h0M1260.5 977.5h0M1264.5 975.4h0M1268.5 981.5h0M1272.5 977.7h0M1276.5 980h0M1280.5 978.8h0M1284.5 974.5h0M1288.5 976.7h0M1292.5 975.9h0M1296.5 974.8h0M1300.5 983.1h0M1304.5 981.3h0M1308.5 979.1h0M1312.5 979h0M1316.5 978.7h0M1320.5 974.5h0M1324.5 973.2h0M1328.5 979.1h0M1332.5 973.6h0M1336.5 978.8h0M1259.6 975h0M1338.5 975h0M1259 978.5h0M1335.5 978.5h0M1260.5 982h0M1337.8 982h0M1258.7 985.5h0M1338.6 985.5h0M1261.1 989h0M1338.6 989h0M1260.9 992.5h0M1337.3 992.5h0M1260.5 996h0M1335.9 996h0M1260.3 999.5h0M1336.7 999.5h0M1259.3 1003h0M1336.5 1003h0M1258.5 1006.5h0M1338.2 1006.5h0M1260.7 1010h0M1335.5 1010h0M1259.9 1013.5h0M1335.6 1013.5h0M1260 1017h0M1336.1 1017h0M1261.4 1020.5h0M1336.6 1020.5h0M1259.9 1024h0M1336.4 1024h0M1261.2 1027.5h0M1335.5 1027.5h0M1259.2 1031h0M1336.2 1031h0M1260.7 1034.5h0M1336.7 1034.5h0M1261 1038h0M1336.6 1038h0M1265 1222h0M1278 1230h0"/>
<g class="hl">
<path class="h" stroke-width="3.2" d="M1300.1 977.9h0M1285.8 979.6h0M1309.1 983.9h0M1310.8 987h0M1307.9 991.8h0M1313.3 994.4h0M1266.9 1007.2h0M1290.2 1009.1h0M1335 1016.8h0M1261.2 1021.7h0M1284.5 1035.3h0"/>
<path class="h" stroke-width="4.8" d="M1295.1 975.2h0M1300.2 976.1h0M1311.3 977.3h0M1320.6 980.4h0M1314.6 981.2h0M1267.7 987.8h0M1298.9 989.2h0M1326.2 995.1h0M1305.6 998.2h0M1304.1 1000.4h0M1281.3 1001.8h0M1321.9 1006h0M1288.3 1015h0M1329.5 1034.9h0"/>
</g>
<path class="r" d="M1297 896.7h0M1297.8 865.2h0M1296.4 868.5h0M1298.4 945.3h0M1298.4 939.6h0M1296.5 976.6h0M1297.4 987.7h0M1298.3 1004.3h0"/>
</g>
<g class="tl" font-size="20">
<text transform="translate(1228 925.6) scale(0.94 1.1)">1e+05</text>
<text transform="translate(1228 1092.6) scale(0.94 1.1)">5e+04</text>
<text transform="translate(1228 1259.6) scale(0.94 1.1)">0e+00</text>
</g>
<g class="ax"><path d="M1446 756V1254" stroke="#8e8e8e" stroke-width="3.696" fill="none"/>
<path d="M1443.9 1253.5H1564" stroke="#a0a0a0" stroke-width="4.696" fill="none"/>
<path d="M1505 1253.5v6.5" stroke="#9a9a9a" stroke-width="4"/>
<path d="M1446 780h-6M1446 938h-6M1446 1096h-6" stroke="#8c8c8c" stroke-width="2.4"/></g>
<g class="pl">
<ellipse cx="1461.5" cy="940" rx="1.9" ry="11.0" fill="#6e1f18"/>
<ellipse cx="1548.5" cy="940" rx="1.9" ry="11.0" fill="#6e1f18"/>
<path d="M1505 1100V1230" stroke="#888" stroke-width="3"/>
<path d="M1464.5 798.6L1468.5 803L1472.5 798.8L1476.5 800.2L1480.5 803.2L1484.5 797.6L1488.5 800L1492.5 800.7L1496.5 803.6L1500.5 800L1504.5 802.1L1508.5 799.2L1512.5 800.9L1516.5 802.1L1520.5 803.8L1524.5 799.2L1528.5 803.6L1532.5 803.2L1536.5 799.8L1540.5 802.7L1544.5 803.8L1545.5 801L1545.5 1052L1544.5 1050.5L1540.5 1051.8L1536.5 1052.3L1532.5 1055.3L1528.5 1054.5L1524.5 1052.1L1520.5 1055.4L1516.5 1051.5L1512.5 1049L1508.5 1048.4L1504.5 1048.1L1500.5 1049.8L1496.5 1052.3L1492.5 1050.2L1488.5 1048.4L1484.5 1054.4L1480.5 1048.4L1476.5 1050.8L1472.5 1053.7L1468.5 1053.7L1464.5 1048.6Z" fill="#000"/>
<path d="M1464.5 774.6L1468.5 780.2L1472.5 777.7L1476.5 778.3L1480.5 776L1484.5 781.5L1488.5 776.4L1492.5 776.6L1496.5 774.5L1500.5 781.1L1504.5 780.6L1508.5 774.4L1512.5 775.2L1516.5 776.3L1520.5 774.2L1524.5 778L1528.5 780.8L1532.5 779.8L1536.5 778L1540.5 781.8L1544.5 776.4L1545.5 778L1545.5 816L1544.5 816L1540.5 816L1536.5 816L1532.5 816L1528.5 816L1524.5 816L1520.5 816L1516.5 816L1512.5 816L1508.5 816L1504.5 816L1500.5 816L1496.5 816L1492.5 816L1488.5 816L1484.5 816L1480.5 816L1476.5 816L1472.5 816L1468.5 816L1464.5 816Z" fill="#000"/>
<path d="M1464.5 1036L1468.5 1036L1472.5 1036L1476.5 1036L1480.5 1036L1484.5 1036L1488.5 1036L1492.5 1036L1496.5 1036L1500.5 1036L1504.5 1036L1508.5 1036L1512.5 1036L1516.5 1036L1520.5 1036L1524.5 1036L1528.5 1036L1532.5 1036L1536.5 1036L1540.5 1036L1544.5 1036L1545.5 1036L1545.5 1078L1544.5 1076.4L1540.5 1075.4L1536.5 1076.4L1532.5 1077.6L1528.5 1075.3L1524.5 1079.2L1520.5 1078L1516.5 1078.6L1512.5 1077L1508.5 1074.3L1504.5 1075.7L1500.5 1076.7L1496.5 1077.9L1492.5 1076.9L1488.5 1078.5L1484.5 1079.1L1480.5 1080.5L1476.5 1076.4L1472.5 1080.8L1468.5 1079.3L1464.5 1074.6Z" fill="#000"/>
<path class="d" stroke-width="5.0" d="M1465.5 798h0M1544.2 798h0M1465.5 801.5h0M1545.4 801.5h0M1465.2 805h0M1543.1 805h0M1465 808.5h0M1543.3 808.5h0M1466.9 812h0M1544.8 812h0M1465 815.5h0M1543.9 815.5h0M1467.2 819h0M1545.7 819h0M1464.9 822.5h0M1545.6 822.5h0M1464.4 826h0M1545.8 826h0M1465.3 829.5h0M1545.6 829.5h0M1464.3 833h0M1544.8 833h0M1467.3 836.5h0M1545.2 836.5h0M1466.1 840h0M1543 840h0M1465 843.5h0M1545.6 843.5h0M1467.1 847h0M1543.2 847h0M1465.3 850.5h0M1544.5 850.5h0M1465.2 854h0M1543.2 854h0M1467.1 857.5h0M1542.9 857.5h0M1466.3 861h0M1543.8 861h0M1465.8 864.5h0M1545.4 864.5h0M1466.7 868h0M1545.1 868h0M1464.3 871.5h0M1545.2 871.5h0M1466.8 875h0M1542.5 875h0M1464.9 878.5h0M1544.9 878.5h0M1467.1 882h0M1544.3 882h0M1467.1 885.5h0M1542.8 885.5h0M1465.1 889h0M1545.2 889h0M1466.8 892.5h0M1543.2 892.5h0M1466.1 896h0M1543.9 896h0M1466.6 899.5h0M1543.8 899.5h0M1465.3 903h0M1545 903h0M1466.5 906.5h0M1543.7 906.5h0M1466.6 910h0M1543.4 910h0M1465.9 913.5h0M1543.1 913.5h0M1465.3 917h0M1543.9 917h0M1464.5 920.5h0M1543.5 920.5h0M1465.4 924h0M1543.6 924h0M1465.9 927.5h0M1545.5 927.5h0M1467 931h0M1543.5 931h0M1464.6 934.5h0M1542.8 934.5h0M1467.1 938h0M1545 938h0M1466.6 941.5h0M1545.5 941.5h0M1465.5 945h0M1543.1 945h0M1464.5 948.5h0M1543.8 948.5h0M1466.7 952h0M1542.8 952h0M1465.6 955.5h0M1542.8 955.5h0M1464.9 959h0M1544.3 959h0M1466.3 962.5h0M1545.6 962.5h0M1465.3 966h0M1543.3 966h0M1464.4 969.5h0M1543.1 969.5h0M1464.3 973h0M1542.5 973h0M1464.6 976.5h0M1544.3 976.5h0M1465.7 980h0M1545.5 980h0M1465.8 983.5h0M1542.8 983.5h0M1464.7 987h0M1544.8 987h0M1467.4 990.5h0M1545 990.5h0M1465 994h0M1543.6 994h0M1465.6 997.5h0M1543.9 997.5h0M1465.1 1001h0M1543 1001h0M1464.3 1004.5h0M1545.4 1004.5h0M1467.4 1008h0M1545.7 1008h0M1465.5 1011.5h0M1544.8 1011.5h0M1464.9 1015h0M1542.9 1015h0M1464.2 1018.5h0M1543.6 1018.5h0M1466.8 1022h0M1544.2 1022h0M1465 1025.5h0M1544.1 1025.5h0M1466 1029h0M1543.1 1029h0M1465.7 1032.5h0M1545.6 1032.5h0M1465.7 1036h0M1545.8 1036h0M1466.6 1039.5h0M1542.9 1039.5h0M1467.2 1043h0M1544.8 1043h0M1465.7 1046.5h0M1543.1 1046.5h0M1466.4 1050h0M1543.1 1050h0M1465.7 1053.5h0M1543 1053.5h0M1466.5 799h0M1470.5 805.4h0M1474.5 799.9h0M1478.5 801h0M1482.5 804.4h0M1486.5 798.9h0M1490.5 801.1h0M1494.5 800.7h0M1498.5 803.4h0M1502.5 801.1h0M1506.5 804.4h0M1510.5 801.2h0M1514.5 801.6h0M1518.5 802.2h0M1522.5 804.9h0M1526.5 798.4h0M1530.5 804.3h0M1534.5 805h0M1538.5 802.2h0M1542.5 802h0M1546.5 803.5h0M1466.5 1048h0M1470.5 1052.6h0M1474.5 1051.4h0M1478.5 1051.4h0M1482.5 1049h0M1486.5 1053.7h0M1490.5 1046.6h0M1494.5 1051.1h0M1498.5 1052h0M1502.5 1048.3h0M1506.5 1047.6h0M1510.5 1048.7h0M1514.5 1049.8h0M1518.5 1049.8h0M1522.5 1054.6h0M1526.5 1051.2h0M1530.5 1053.1h0M1534.5 1053.6h0M1538.5 1051.9h0M1542.5 1051.5h0M1546.5 1048.2h0M1466.5 774.7h0M1470.5 780.1h0M1474.5 778.8h0M1478.5 778.9h0M1482.5 775.4h0M1486.5 782.3h0M1490.5 778.8h0M1494.5 778.6h0M1498.5 775.7h0M1502.5 783.2h0M1506.5 781.3h0M1510.5 775.1h0M1514.5 776.6h0M1518.5 776h0M1522.5 775.3h0M1526.5 778.7h0M1530.5 780.8h0M1534.5 780.5h0M1538.5 777.6h0M1542.5 783.1h0M1546.5 775.8h0M1465.7 776h0M1542.7 776h0M1466 779.5h0M1542.8 779.5h0M1466.9 783h0M1542.6 783h0M1466.9 786.5h0M1543.5 786.5h0M1467.3 790h0M1543.6 790h0M1464.7 793.5h0M1544.7 793.5h0M1465 797h0M1545.2 797h0M1465.8 800.5h0M1543.4 800.5h0M1466.2 804h0M1543.2 804h0M1466.5 1072.5h0M1470.5 1078.7h0M1474.5 1079.3h0M1478.5 1074.3h0M1482.5 1079.8h0M1486.5 1077.2h0M1490.5 1078.5h0M1494.5 1077.4h0M1498.5 1075.9h0M1502.5 1075.8h0M1506.5 1073.3h0M1510.5 1073.2h0M1514.5 1077.1h0M1518.5 1079.2h0M1522.5 1075.9h0M1526.5 1079.3h0M1530.5 1075.8h0M1534.5 1076.8h0M1538.5 1074.9h0M1542.5 1074.4h0M1546.5 1077.3h0M1466.8 1046h0M1544.7 1046h0M1465.3 1049.5h0M1545.5 1049.5h0M1465.8 1053h0M1545 1053h0M1464.5 1056.5h0M1543.5 1056.5h0M1466.7 1060h0M1544.8 1060h0M1466.5 1063.5h0M1544.8 1063.5h0M1464.3 1067h0M1545.3 1067h0M1464.3 1070.5h0M1543.3 1070.5h0M1465.2 1074h0M1544.1 1074h0M1464.5 1077.5h0M1543.9 1077.5h0M1487.8 1080.2h0M1502 1080.3h0M1501.7 1080.3h0M1500.6 1080.3h0M1544.2 1080.4h0M1500.5 1081.2h0M1518.7 1080.3h0M1532.5 1080.7h0M1472 1080.9h0M1514.7 1080.7h0M1523 1080.6h0M1530 1081.9h0M1530 1080.1h0M1507.5 1082.8h0M1480.2 1083.2h0M1474.9 1082.3h0M1498.5 1084h0M1495.8 1083.9h0M1518.7 1083.3h0M1537.7 1083.2h0M1523.9 1082.9h0M1528.4 1083.8h0M1465.6 1083.9h0M1468 1083.3h0M1471.2 1083.5h0M1476.3 1085.7h0M1485 1085.8h0M1495.8 1085.1h0M1500.7 1085.5h0M1493.5 1085h0M1483.7 1084.7h0M1474.2 1084.5h0M1487.5 1085.4h0M1477 1084.3h0M1542.4 1085.3h0M1472.3 1085.7h0M1513.7 1087.9h0M1507.7 1086.3h0M1466.4 1086.2h0M1502.1 1087.1h0M1531.4 1086.1h0M1471.1 1086.2h0M1494.2 1087.9h0M1527.2 1086.1h0M1512.2 1086.4h0M1483.3 1086.6h0M1488.9 1088.4h0M1492.7 1089.2h0M1509.9 1089.5h0M1487.6 1088.1h0M1510.7 1088.6h0M1482.1 1088.8h0M1540.3 1089.2h0M1522.2 1088.1h0M1508.5 1089.4h0M1533.8 1089.5h0M1543.5 1090h0M1526.3 1090.9h0M1538.9 1091.9h0M1524.5 1090.2h0M1516.6 1090.2h0M1499 1090.3h0M1489.3 1090.1h0M1508.1 1090.2h0M1484.7 1091.6h0M1488.7 1091.2h0M1515.8 1093.6h0M1539.2 1092.5h0M1480.2 1094h0M1538 1092.6h0M1538.7 1092.2h0M1483.4 1093.7h0M1473.7 1093.7h0M1483.1 1093.5h0M1505.1 1095.1h0M1509.6 1095.7h0M1468.3 1095.4h0M1532.9 1095h0M1484.1 1095.6h0M1499.5 1094.5h0M1526.6 1095.5h0M1530.6 1095h0M1466.7 1094h0M1468.4 1097.2h0M1476 1097.6h0M1467.1 1097.4h0M1483.1 1098h0M1503 1097h0M1532.6 1096.6h0M1542.2 1096.6h0M1468.4 1096.6h0M1512.7 1098.1h0M1537 1099.6h0M1524.4 1100h0M1469.6 1099.4h0M1533.1 1098.4h0M1498 1098.4h0M1538.6 1098.9h0M1531.1 1098.5h0M1524.4 1100.7h0M1486.7 1100.2h0M1515.1 1100.8h0M1481.3 1100.6h0M1490.7 1100.2h0M1512.3 1100.3h0M1482.6 1100.7h0M1521.5 1102.4h0M1532.2 1103.9h0M1491.6 1103.6h0M1515.2 1103.1h0M1537 1103.3h0M1516.7 1103.9h0M1473.8 1104h0M1522.6 1104.9h0M1534.7 1105.9h0M1485.6 1104.4h0M1510.8 1104h0M1473.5 1104.1h0M1508.7 1106.5h0M1528.4 1106.5h0M1490.6 1106.2h0M1530.7 1105.5h0M1493.8 1105h0M1474.5 1107.9h0M1480.3 1107.2h0M1535.6 1107.7h0M1541.2 1108.5h0M1511.9 1108h0M1529.6 1109.4h0M1508.2 1109.5h0M1480.3 1109.4h0M1527.8 1110.9h0M1499.7 1109.3h0M1489.7 1111.7h0M1535.3 1112.1h0M1504.3 1112.3h0M1479.5 1111.7h0M1500.3 1111.1h0M1510.7 1114.2h0M1486.5 1113.1h0M1510.6 1113.3h0M1465.8 1114.9h0M1523.3 1114.9h0M1526.4 1116.7h0M1515.1 1115.1h0M1487.2 1115.7h0M1500.1 1116.1h0M1480.2 1115.4h0M1497.3 1117.2h0M1483.9 1117h0M1532.1 1117.5h0M1505.6 1118.2h0M1468.8 1118.1h0M1484.3 1120.3h0M1522.7 1120.1h0M1493.7 1120h0M1518.2 1119.9h0M1524.7 1122.5h0M1499.8 1121.3h0M1479.2 1121.6h0M1509.9 1121.1h0M1477.1 1124.1h0M1481.4 1124.6h0M1470.5 1123.7h0M1524.5 1124.7h0M1540 1126.8h0M1509.9 1125.7h0M1480.7 1126.4h0M1470.2 1126.3h0M1480.3 1128.2h0M1496.4 1127.1h0M1477.2 1128.6h0M1496.2 1128.6h0M1465.7 1129.7h0M1512.9 1129.5h0M1476 1131h0M1517.5 1131.9h0M1543.6 1131.5h0M1468 1132.3h0M1531.5 1133.2h0M1479.4 1133.9h0M1487.5 1133.3h0M1468.9 1135.9h0M1476.1 1135.1h0M1473 1136.4h0M1492.7 1138.6h0M1469 1137.8h0M1470.9 1141.7h0M1470 1229h0M1485 1229h0M1473 1159h0M1482 1162h0M1518 1162h0M1543 1142h0"/>
<g class="hl">
<path class="h" stroke-width="3.2" d="M1479.1 776.8h0M1508.9 779.4h0M1467.9 781.8h0M1498 781.7h0M1539.7 784.9h0M1468.8 784.8h0M1527.4 787.8h0M1504.8 788.6h0M1523.5 790.1h0M1477.3 792.7h0M1475.1 794.3h0M1491 799.2h0M1521.3 801.1h0M1538.9 1056.6h0M1497.8 1060h0M1505.5 1060.7h0M1468.2 1063.2h0M1482.2 1067.7h0M1526.7 1069.1h0M1525.7 1071.3h0M1486.9 1070.8h0M1526.2 1075.3h0M1506.6 1077.3h0M1496.7 1079.1h0"/>
<path class="h" stroke-width="4.8" d="M1473.2 776.5h0M1502.8 779.7h0M1535.5 782.7h0M1527.3 796.8h0M1528 1052.1h0M1497.7 1065.4h0M1525.2 1073.7h0M1522.3 1072.6h0M1518.9 1075.6h0M1502.6 1079.4h0"/>
</g>
<path class="r" d="M1504.1 779.5h0M1507 780.9h0M1507 1049.9h0M1504.6 1084.9h0M1506.1 1099h0M1502.3 1109.9h0"/>
</g>
<g class="tl" font-size="20">
<text transform="translate(1435 787.6) scale(0.94 1.1)">6</text>
<text transform="translate(1435 945.6) scale(0.94 1.1)">4</text>
<text transform="translate(1435 1103.6) scale(0.94 1.1)">2</text>
</g>
<g class="ax"><path d="M1753 744V1241" stroke="#848484" stroke-width="3.344" fill="none"/>
<path d="M1751.1 1240.5H1858" stroke="#969696" stroke-width="4.343999999999999" fill="none"/>
<path d="M1805 1240.5v6.5" stroke="#9a9a9a" stroke-width="4"/>
<path d="M1753 805h-6M1753 888h-6M1753 971h-6M1753 1052h-6M1753 1136h-6M1753 1218h-6" stroke="#8c8c8c" stroke-width="2.4"/></g>
<g class="pl">
<ellipse cx="1765.5" cy="1016" rx="1.9" ry="9.9" fill="#6e1f18"/>
<ellipse cx="1843.5" cy="1016" rx="1.9" ry="9.9" fill="#6e1f18"/>
<path d="M1805 770V870" stroke="#666" stroke-width="2.5"/>
<path d="M1768.5 869L1772.5 869.4L1776.5 866.5L1780.5 868.3L1784.5 869.2L1788.5 866.4L1792.5 868.9L1796.5 868.5L1800.5 866.6L1804.5 872.2L1808.5 867.2L1812.5 869.1L1816.5 868.5L1820.5 871.5L1824.5 865.1L1828.5 868L1832.5 871.6L1836.5 869.3L1840.5 869L1840.5 1162L1836.5 1159.9L1832.5 1162.5L1828.5 1162.4L1824.5 1161.9L1820.5 1158.3L1816.5 1160.4L1812.5 1166L1808.5 1160.9L1804.5 1161.1L1800.5 1163.1L1796.5 1165L1792.5 1165.9L1788.5 1164.5L1784.5 1159.9L1780.5 1162.7L1776.5 1158.9L1772.5 1160.5L1768.5 1163.4Z" fill="#000"/>
<path d="M1768.5 844.1L1772.5 842.4L1776.5 838.9L1780.5 840.9L1784.5 838.2L1788.5 841.6L1792.5 839.9L1796.5 840.4L1800.5 840.7L1804.5 844.9L1808.5 838.7L1812.5 838.7L1816.5 839.1L1820.5 841.4L1824.5 841.5L1828.5 845.4L1832.5 843.8L1836.5 840.1L1840.5 842L1840.5 880L1836.5 880L1832.5 880L1828.5 880L1824.5 880L1820.5 880L1816.5 880L1812.5 880L1808.5 880L1804.5 880L1800.5 880L1796.5 880L1792.5 880L1788.5 880L1784.5 880L1780.5 880L1776.5 880L1772.5 880L1768.5 880Z" fill="#000"/>
<path d="M1768.5 1150L1772.5 1150L1776.5 1150L1780.5 1150L1784.5 1150L1788.5 1150L1792.5 1150L1796.5 1150L1800.5 1150L1804.5 1150L1808.5 1150L1812.5 1150L1816.5 1150L1820.5 1150L1824.5 1150L1828.5 1150L1832.5 1150L1836.5 1150L1840.5 1150L1840.5 1216L1836.5 1216.8L1832.5 1217.1L1828.5 1214.3L1824.5 1215.6L1820.5 1212.4L1816.5 1213.2L1812.5 1212.5L1808.5 1217.9L1804.5 1218.3L1800.5 1214.5L1796.5 1216.8L1792.5 1213.6L1788.5 1213.6L1784.5 1214.1L1780.5 1219.2L1776.5 1218L1772.5 1212.4L1768.5 1217.1Z" fill="#000"/>
<path class="d" stroke-width="5.0" d="M1771.1 866h0M1839.4 866h0M1769.9 869.5h0M1837.8 869.5h0M1769.4 873h0M1838.1 873h0M1770.7 876.5h0M1839.7 876.5h0M1768.6 880h0M1839.4 880h0M1771.1 883.5h0M1840.3 883.5h0M1769.4 887h0M1838.7 887h0M1770 890.5h0M1838.9 890.5h0M1771.4 894h0M1840.3 894h0M1771.1 897.5h0M1840.8 897.5h0M1768.5 901h0M1840.6 901h0M1769.4 904.5h0M1838.4 904.5h0M1770.2 908h0M1838.8 908h0M1768.9 911.5h0M1840.7 911.5h0M1768.8 915h0M1837.8 915h0M1769.5 918.5h0M1840.2 918.5h0M1770.9 922h0M1839 922h0M1769.5 925.5h0M1838 925.5h0M1770.8 929h0M1840 929h0M1768.9 932.5h0M1839.7 932.5h0M1771.1 936h0M1838.7 936h0M1769 939.5h0M1840 939.5h0M1770.3 943h0M1838.8 943h0M1768.2 946.5h0M1838.6 946.5h0M1770.5 950h0M1838.1 950h0M1769.8 953.5h0M1840 953.5h0M1769.3 957h0M1837.9 957h0M1770.4 960.5h0M1839.8 960.5h0M1770.2 964h0M1840.5 964h0M1769.4 967.5h0M1839.2 967.5h0M1769.7 971h0M1840.3 971h0M1769.3 974.5h0M1838.3 974.5h0M1769.4 978h0M1840.2 978h0M1770.7 981.5h0M1838.1 981.5h0M1770.9 985h0M1840.8 985h0M1769.3 988.5h0M1840.1 988.5h0M1770.5 992h0M1839.5 992h0M1769 995.5h0M1837.5 995.5h0M1771.1 999h0M1838.6 999h0M1770.9 1002.5h0M1840.3 1002.5h0M1771 1006h0M1839.9 1006h0M1770.6 1009.5h0M1840.2 1009.5h0M1771.3 1013h0M1840.5 1013h0M1771.1 1016.5h0M1838.6 1016.5h0M1771.2 1020h0M1837.8 1020h0M1768.8 1023.5h0M1840.4 1023.5h0M1770 1027h0M1840.6 1027h0M1769.3 1030.5h0M1837.7 1030.5h0M1768.7 1034h0M1840.4 1034h0M1770.9 1037.5h0M1838.9 1037.5h0M1770.4 1041h0M1837.6 1041h0M1771.3 1044.5h0M1838.4 1044.5h0M1768.9 1048h0M1839.1 1048h0M1769.8 1051.5h0M1839.1 1051.5h0M1770.6 1055h0M1838.1 1055h0M1770.8 1058.5h0M1838.6 1058.5h0M1769.5 1062h0M1840.5 1062h0M1770.6 1065.5h0M1839.9 1065.5h0M1770.8 1069h0M1838.9 1069h0M1769.3 1072.5h0M1839.2 1072.5h0M1771 1076h0M1838.1 1076h0M1770.5 1079.5h0M1839.1 1079.5h0M1771.3 1083h0M1839.8 1083h0M1771.2 1086.5h0M1838.9 1086.5h0M1769.7 1090h0M1838.3 1090h0M1768.9 1093.5h0M1838.5 1093.5h0M1768.9 1097h0M1839.6 1097h0M1770.1 1100.5h0M1839.9 1100.5h0M1770.7 1104h0M1840.7 1104h0M1769.9 1107.5h0M1839.5 1107.5h0M1769.9 1111h0M1839.1 1111h0M1769.3 1114.5h0M1838.5 1114.5h0M1769.3 1118h0M1839.2 1118h0M1769.7 1121.5h0M1839.3 1121.5h0M1770.4 1125h0M1840.8 1125h0M1770.1 1128.5h0M1840.8 1128.5h0M1769.2 1132h0M1839.5 1132h0M1770.1 1135.5h0M1839 1135.5h0M1769.7 1139h0M1838.3 1139h0M1771.4 1142.5h0M1837.7 1142.5h0M1770.9 1146h0M1839.1 1146h0M1769.3 1149.5h0M1838.5 1149.5h0M1771.3 1153h0M1838.6 1153h0M1770.1 1156.5h0M1838.9 1156.5h0M1770.4 1160h0M1839.3 1160h0M1770 1163.5h0M1837.8 1163.5h0M1770.5 868.1h0M1774.5 870.6h0M1778.5 865.5h0M1782.5 869.1h0M1786.5 869.1h0M1790.5 868h0M1794.5 869h0M1798.5 867.6h0M1802.5 866.1h0M1806.5 872.3h0M1810.5 868.5h0M1814.5 870.5h0M1818.5 870.4h0M1822.5 873.8h0M1826.5 866.1h0M1830.5 867.2h0M1834.5 872.9h0M1838.5 869.6h0M1770.5 1162.3h0M1774.5 1160.9h0M1778.5 1158.5h0M1782.5 1162.8h0M1786.5 1158.5h0M1790.5 1162.2h0M1794.5 1165.6h0M1798.5 1164.2h0M1802.5 1161.8h0M1806.5 1159.4h0M1810.5 1160.6h0M1814.5 1166h0M1818.5 1159.1h0M1822.5 1158.2h0M1826.5 1161.1h0M1830.5 1161.2h0M1834.5 1161.6h0M1838.5 1157.5h0M1784.5 766.8h0M1832.3 767.7h0M1781.6 768.5h0M1824.1 769.4h0M1781.1 769.6h0M1826.6 770.7h0M1826.8 770.5h0M1779.4 772.8h0M1790.8 773.6h0M1806.7 775.1h0M1790 775.2h0M1820.1 777.9h0M1801.5 776.9h0M1810.5 776.8h0M1784.5 779h0M1817.9 779.5h0M1791 778.2h0M1778.3 781.6h0M1770.8 781.8h0M1826.6 781h0M1824 783.3h0M1787.7 782.2h0M1777.6 782.2h0M1818.6 785.9h0M1796.3 784.7h0M1829.8 785.6h0M1770.2 787.9h0M1798.4 787.6h0M1784.1 787.1h0M1819.9 789.4h0M1775.7 789.8h0M1773.3 789.6h0M1813 790.4h0M1824.7 791.5h0M1786.9 791.9h0M1798.6 791.7h0M1795.6 792.4h0M1771.9 792.3h0M1780.2 793h0M1803.3 792.2h0M1813.9 795h0M1788.7 794.8h0M1833.2 794.8h0M1804.7 795.8h0M1829.2 796.1h0M1819.1 796.2h0M1788.6 796.2h0M1831.2 797.8h0M1825 797h0M1805.9 799.8h0M1820 798h0M1838.6 799.9h0M1810.7 798h0M1819.4 799.2h0M1792.3 800.3h0M1788.7 800.5h0M1808.5 800.5h0M1833.4 800h0M1785.6 801.2h0M1800.8 800.2h0M1789.2 803.6h0M1786.3 803.3h0M1816.7 802.8h0M1772.7 803.1h0M1777.1 802.5h0M1834.2 802.4h0M1836.5 802.3h0M1771.7 805.7h0M1832.2 804.5h0M1793.7 804.7h0M1813.9 804.6h0M1802.3 805.3h0M1788.8 804.3h0M1815.2 805.3h0M1799.8 807.7h0M1811.1 807.4h0M1837.8 806.4h0M1797.2 806.3h0M1832.4 807.2h0M1830.7 807.3h0M1793.3 807.4h0M1804.8 809.3h0M1823.8 808.5h0M1822.3 809.1h0M1813.4 808.2h0M1806.3 808.2h0M1813.6 809.6h0M1796.4 808.9h0M1808.6 812h0M1828.5 811.4h0M1793.9 810.1h0M1816.9 810.4h0M1818.8 811.3h0M1829.7 810.1h0M1803.2 810.7h0M1787.5 813.7h0M1801.4 813.1h0M1777.7 813.1h0M1813.8 812.2h0M1793.2 812.5h0M1808.2 812.2h0M1838.3 812.8h0M1834.3 812.1h0M1832.5 814.9h0M1795.7 815.2h0M1790.9 814.5h0M1833.5 815.3h0M1804.4 814.9h0M1825.2 815.5h0M1789.2 814.6h0M1773.4 816.8h0M1777.6 817.3h0M1792.8 816.7h0M1784.8 816.5h0M1785.6 817.8h0M1801.3 817.1h0M1791.8 817.9h0M1811.4 816.3h0M1769.6 820h0M1821.4 818.4h0M1799.5 819.8h0M1823.7 819.6h0M1810.1 818.4h0M1815.1 819.2h0M1780.1 818.1h0M1806.3 819.8h0M1814.1 820.2h0M1831 821.8h0M1790.5 821.4h0M1821.3 820.9h0M1831.1 820.1h0M1789.7 820.2h0M1827.4 821.5h0M1785.5 821.3h0M1809.2 822.8h0M1809.1 823.1h0M1791.8 822.7h0M1780.9 823.3h0M1826.9 822.5h0M1810.7 822.8h0M1782.2 822.1h0M1772.1 823.5h0M1778.9 822.6h0M1783.3 825.2h0M1802.7 824.4h0M1817 825.3h0M1836.1 824.7h0M1823.8 825.2h0M1809.5 824.1h0M1791 824.9h0M1772.7 824.2h0M1827.2 824.2h0M1786.2 827.1h0M1796.9 826.5h0M1801.5 826.6h0M1835.6 826.9h0M1778.4 827.5h0M1781 827.5h0M1823.8 827.8h0M1805.8 827.5h0M1824.9 827.6h0M1832.1 829.5h0M1796.3 828.7h0M1828.3 829.9h0M1795.9 829.8h0M1825.1 829.4h0M1793.2 828.6h0M1789.8 829.4h0M1801.9 828.4h0M1779.7 829.6h0M1781.5 831.1h0M1773.3 830.8h0M1783.7 831.7h0M1808.3 831h0M1802.3 830h0M1828.6 831.9h0M1770.1 831.1h0M1824.5 831.7h0M1836.5 831.8h0M1831.5 830.3h0M1838.4 833.3h0M1830.9 832.5h0M1799.7 832.2h0M1802.5 834h0M1818.9 832.9h0M1791.6 832.4h0M1799.6 832.6h0M1803.7 833.1h0M1797.9 833.2h0M1804.4 835h0M1828.5 835.8h0M1810.4 835.5h0M1790.6 834.3h0M1791.5 834.3h0M1823.1 835.8h0M1814.5 834.4h0M1778.7 835.5h0M1809.7 834.3h0M1839 835.5h0M1838.3 837.6h0M1834.5 837.9h0M1780.7 836.7h0M1807.1 837.3h0M1780.1 836.5h0M1823.6 837.9h0M1802.8 837.9h0M1830.8 837.8h0M1782.7 836.8h0M1816 837.6h0M1777.9 839.4h0M1771.3 838.6h0M1773.1 839h0M1778.3 839.3h0M1798.1 839.6h0M1792.2 840h0M1777.8 838.2h0M1804.5 839h0M1828.6 838.1h0M1782.2 838.5h0M1799.9 839.6h0M1770.5 843.6h0M1774.5 843.4h0M1778.5 840.8h0M1782.5 840.7h0M1786.5 839.9h0M1790.5 841.9h0M1794.5 842.2h0M1798.5 842.8h0M1802.5 840.3h0M1806.5 846.7h0M1810.5 839.7h0M1814.5 839.1h0M1818.5 839.9h0M1822.5 843.6h0M1826.5 842.2h0M1830.5 846.4h0M1834.5 844.5h0M1838.5 839.2h0M1770.7 840h0M1837.8 840h0M1771.2 843.5h0M1837.5 843.5h0M1770.1 847h0M1838.3 847h0M1770.5 850.5h0M1839.6 850.5h0M1770.7 854h0M1840.2 854h0M1771.5 857.5h0M1837.9 857.5h0M1769 861h0M1839.1 861h0M1771.3 864.5h0M1838.8 864.5h0M1768.9 868h0M1839.2 868h0M1770.5 1214.9h0M1774.5 1210.8h0M1778.5 1215.8h0M1782.5 1219.7h0M1786.5 1213.7h0M1790.5 1211.4h0M1794.5 1211.4h0M1798.5 1215h0M1802.5 1212.4h0M1806.5 1218.4h0M1810.5 1216.4h0M1814.5 1213.1h0M1818.5 1212.6h0M1822.5 1213.4h0M1826.5 1215.1h0M1830.5 1214.6h0M1834.5 1216.7h0M1838.5 1215.5h0M1770.4 1160h0M1840.4 1160h0M1771.3 1163.5h0M1838.5 1163.5h0M1769.3 1167h0M1838.9 1167h0M1769 1170.5h0M1840.3 1170.5h0M1770.8 1174h0M1839.7 1174h0M1770.3 1177.5h0M1838.5 1177.5h0M1769.1 1181h0M1840 1181h0M1768.5 1184.5h0M1840.8 1184.5h0M1768.7 1188h0M1838.2 1188h0M1770.7 1191.5h0M1840.5 1191.5h0M1768.7 1195h0M1840.6 1195h0M1769.9 1198.5h0M1837.9 1198.5h0M1770 1202h0M1838.3 1202h0M1770.3 1205.5h0M1839.6 1205.5h0M1771 1209h0M1840.5 1209h0M1771 1212.5h0M1839.7 1212.5h0M1770.6 1216h0M1840.4 1216h0"/>
<g class="hl">
<path class="h" stroke-width="3.2" d="M1776.3 841.6h0M1827.5 840.2h0M1827.7 842.9h0M1774.4 842.9h0M1786.8 846h0M1832.2 850h0M1779.9 848.4h0M1793.9 850.6h0M1827.1 851.1h0M1775.7 853.5h0M1817.4 857.1h0M1799.8 859h0M1785.1 1191h0M1796 1209h0"/>
<path class="h" stroke-width="4.8" d="M1802.5 846.7h0M1795.9 855.6h0M1808.3 862.8h0M1829.8 866.1h0M1827.3 1203.1h0"/>
</g>
<path class="r" d="M1804.7 766.6h0M1802.4 789.1h0M1803.4 815.5h0M1803.8 854.6h0M1807.6 859.4h0M1802.9 1193.9h0M1806.5 1208h0"/>
</g>
<g class="tl" font-size="20">
<text transform="translate(1742 812.6) scale(0.94 1.1)">8000</text>
<text transform="translate(1742 895.6) scale(0.94 1.1)">7000</text>
<text transform="translate(1742 978.6) scale(0.94 1.1)">6000</text>
<text transform="translate(1742 1059.6) scale(0.94 1.1)">5000</text>
<text transform="translate(1742 1143.6) scale(0.94 1.1)">4000</text>
<text transform="translate(1742 1225.6) scale(0.94 1.1)">3000</text>
</g>
<g class="ax"><path d="M1957 744V1241" stroke="#848484" stroke-width="3.344" fill="none"/>
<path d="M1955.1 1240.5H2062" stroke="#969696" stroke-width="4.343999999999999" fill="none"/>
<path d="M2010 1240.5v6.5" stroke="#9a9a9a" stroke-width="4"/>
<path d="M1957 755h-6M1957 851h-6M1957 949h-6M1957 1045h-6M1957 1142h-6M1957 1238h-6" stroke="#8c8c8c" stroke-width="2.4"/></g>
<g class="pl">
<ellipse cx="1971.5" cy="1118" rx="1.9" ry="9.9" fill="#6e1f18"/>
<ellipse cx="2049.5" cy="1118" rx="1.9" ry="9.9" fill="#6e1f18"/>
<path d="M2010 766V975" stroke="#999" stroke-width="3"/>
<path d="M1974.5 969.4L1978.5 970.2L1982.5 971.4L1986.5 970.3L1990.5 973.3L1994.5 976.3L1998.5 974.8L2002.5 970.9L2006.5 975.8L2010.5 974.7L2014.5 972.7L2018.5 973.3L2022.5 973.8L2026.5 971.5L2030.5 972.4L2034.5 970.5L2038.5 972.9L2042.5 970.7L2046.5 973L2046.5 1200L2042.5 1196.3L2038.5 1196.9L2034.5 1202.2L2030.5 1201.7L2026.5 1201.7L2022.5 1204L2018.5 1198.7L2014.5 1201.7L2010.5 1203.5L2006.5 1198.1L2002.5 1198.9L1998.5 1200.6L1994.5 1197.7L1990.5 1202.2L1986.5 1196.1L1982.5 1197.2L1978.5 1196.3L1974.5 1198Z" fill="#000"/>
<path d="M1974.5 950.3L1978.5 947.9L1982.5 947.5L1986.5 943.7L1990.5 949.4L1994.5 950.8L1998.5 944.8L2002.5 945.3L2006.5 943.1L2010.5 949.7L2014.5 944.9L2018.5 944.4L2022.5 950L2026.5 948.4L2030.5 946.6L2034.5 944.9L2038.5 950.6L2042.5 945.7L2046.5 947L2046.5 985L2042.5 985L2038.5 985L2034.5 985L2030.5 985L2026.5 985L2022.5 985L2018.5 985L2014.5 985L2010.5 985L2006.5 985L2002.5 985L1998.5 985L1994.5 985L1990.5 985L1986.5 985L1982.5 985L1978.5 985L1974.5 985Z" fill="#000"/>
<path class="d" stroke-width="5.0" d="M1976.4 970h0M2046.5 970h0M1977.1 973.5h0M2046 973.5h0M1977.2 977h0M2044.1 977h0M1976.3 980.5h0M2044.7 980.5h0M1974.8 984h0M2044.4 984h0M1976.3 987.5h0M2043.9 987.5h0M1974.5 991h0M2046.3 991h0M1976.9 994.5h0M2043.6 994.5h0M1974.9 998h0M2043.5 998h0M1976 1001.5h0M2046.7 1001.5h0M1974.7 1005h0M2045.4 1005h0M1975.7 1008.5h0M2045.9 1008.5h0M1976.1 1012h0M2045.9 1012h0M1974.6 1015.5h0M2046.7 1015.5h0M1976.8 1019h0M2043.9 1019h0M1974.2 1022.5h0M2046.2 1022.5h0M1976.8 1026h0M2044.8 1026h0M1977.3 1029.5h0M2045.6 1029.5h0M1975.9 1033h0M2043.6 1033h0M1975.8 1036.5h0M2044.8 1036.5h0M1975.6 1040h0M2044.6 1040h0M1977 1043.5h0M2044.7 1043.5h0M1974.5 1047h0M2044.3 1047h0M1977 1050.5h0M2045.2 1050.5h0M1975.4 1054h0M2046.4 1054h0M1977.4 1057.5h0M2044.9 1057.5h0M1974.7 1061h0M2044.6 1061h0M1974.6 1064.5h0M2046.4 1064.5h0M1976.5 1068h0M2044.6 1068h0M1976.3 1071.5h0M2046.3 1071.5h0M1977.5 1075h0M2044.1 1075h0M1975.7 1078.5h0M2045.6 1078.5h0M1975.7 1082h0M2045.2 1082h0M1975.7 1085.5h0M2044.9 1085.5h0M1976.1 1089h0M2044.8 1089h0M1975.2 1092.5h0M2044.9 1092.5h0M1976.8 1096h0M2044 1096h0M1975.8 1099.5h0M2044.3 1099.5h0M1977.3 1103h0M2043.5 1103h0M1975.3 1106.5h0M2046.7 1106.5h0M1976.5 1110h0M2044.3 1110h0M1976.6 1113.5h0M2045.2 1113.5h0M1974.5 1117h0M2043.8 1117h0M1974.3 1120.5h0M2044.4 1120.5h0M1975.6 1124h0M2046.7 1124h0M1977.1 1127.5h0M2045.3 1127.5h0M1976.4 1131h0M2045.5 1131h0M1976.9 1134.5h0M2044.7 1134.5h0M1976.3 1138h0M2044.2 1138h0M1974.9 1141.5h0M2044.4 1141.5h0M1975.5 1145h0M2044.5 1145h0M1976.2 1148.5h0M2043.6 1148.5h0M1975.2 1152h0M2045.5 1152h0M1976.8 1155.5h0M2046.1 1155.5h0M1975.6 1159h0M2045.6 1159h0M1974.3 1162.5h0M2046.6 1162.5h0M1976.4 1166h0M2046.1 1166h0M1974.6 1169.5h0M2044.9 1169.5h0M1975.2 1173h0M2046.3 1173h0M1976.7 1176.5h0M2044 1176.5h0M1977.4 1180h0M2044.2 1180h0M1974.6 1183.5h0M2045.4 1183.5h0M1975.6 1187h0M2046.6 1187h0M1974.4 1190.5h0M2046.5 1190.5h0M1976.6 1194h0M2044.5 1194h0M1974.7 1197.5h0M2045.8 1197.5h0M1974.3 1201h0M2044.5 1201h0M1976.5 968.7h0M1980.5 970.5h0M1984.5 973.9h0M1988.5 972.3h0M1992.5 974.2h0M1996.5 977.6h0M2000.5 976h0M2004.5 972.6h0M2008.5 977.7h0M2012.5 977.1h0M2016.5 975h0M2020.5 973.5h0M2024.5 976.1h0M2028.5 971.3h0M2032.5 971.8h0M2036.5 971.8h0M2040.5 972.1h0M2044.5 972.8h0M1976.5 1195.6h0M1980.5 1194.5h0M1984.5 1197.3h0M1988.5 1195.3h0M1992.5 1203h0M1996.5 1197.1h0M2000.5 1198.7h0M2004.5 1199.2h0M2008.5 1198.6h0M2012.5 1203.3h0M2016.5 1201.4h0M2020.5 1198.5h0M2024.5 1203.8h0M2028.5 1202.5h0M2032.5 1200.5h0M2036.5 1201.5h0M2040.5 1195.8h0M2044.5 1196.2h0M2010.3 786.2h0M1993.8 793.3h0M2005.3 800.1h0M1995.2 802.1h0M1993 804.7h0M2002.8 820.3h0M2006.7 824.3h0M1989.6 828.7h0M1992.5 831.4h0M1982.2 833.9h0M2031.8 836h0M1989.6 841.6h0M2024.1 840.2h0M1980.8 843.6h0M2020.4 842.7h0M2010.5 844.5h0M1976 847.4h0M1987 848.9h0M2023.4 851.5h0M1998.5 851.5h0M2030 853h0M2015.6 853.8h0M2010.4 854.7h0M1979.8 855.6h0M1987.1 856.3h0M2030 857.4h0M2009.7 858.7h0M2010 858.1h0M2042.6 860.6h0M2024.5 861.2h0M2019 863.4h0M2015.8 863.6h0M1991.6 864.9h0M2030.7 865h0M2008 867.8h0M1987.2 867.1h0M1995.4 867.1h0M1998.5 868.3h0M2006.9 870h0M1996.8 870.4h0M2008.6 871.6h0M2014.8 871.2h0M2012.8 873.5h0M1998.8 872h0M2043.4 873h0M2018.3 874.7h0M1987.9 875.9h0M2015.8 876h0M1996.6 876.8h0M2008.5 878.9h0M1989.8 879.1h0M2042.1 879.7h0M1996.8 880.5h0M2009 881.9h0M1980.7 883.7h0M1976.3 883h0M2044.3 883.1h0M1996.7 885.5h0M2023 884.2h0M2007.8 885h0M1984.6 886.6h0M2003.5 887.9h0M1998.4 887.8h0M2008.2 888.3h0M1979.7 888.6h0M2024.2 889.2h0M2026.4 891.4h0M2036 891.4h0M1981.8 891.6h0M2042.3 891.8h0M1984.3 893.7h0M2010 893.5h0M2040.3 892.4h0M1977.2 893.9h0M1981.5 894.9h0M2035.6 895.2h0M2012 896h0M1977.5 894.7h0M2042.8 897.2h0M1993.8 897.7h0M2039.5 897h0M2042.1 896.4h0M2023.9 898h0M2024.7 899.7h0M2036 898.5h0M2002.4 898.2h0M2010.9 899.7h0M1996.3 899.8h0M2008.4 901.3h0M2032.3 901.9h0M2000.4 900.8h0M2028.6 901.6h0M2030.8 900.5h0M2029 903.2h0M1998.9 903.4h0M1980.3 903.5h0M2004.8 903.5h0M2016.7 902.7h0M2010.7 904.3h0M1993.6 905.3h0M1989.2 905.8h0M2012.5 904.6h0M1987.8 904.6h0M1985 906.6h0M2043 907.9h0M2039.4 907.9h0M2024.7 907.9h0M2020.3 906.8h0M2021.2 909.9h0M2041.2 909.9h0M2006.5 909.4h0M2045.5 909.4h0M2035.4 909.7h0M2014.4 909.7h0M2033.3 910.9h0M1990.6 911.7h0M2031 911.3h0M2008.4 910.5h0M2034.5 911.3h0M2022.4 911.6h0M2031.1 913.7h0M1985.3 912.1h0M2036.1 912.5h0M2012.9 913.9h0M1989 913h0M1979.7 913.7h0M2006.1 915.6h0M1986.1 915.6h0M2032.1 915.5h0M1977.8 914.6h0M2021.9 915.7h0M2023.6 916.9h0M2016.3 916.6h0M1989.6 917.7h0M2014.2 916.6h0M1996.2 916.7h0M2011.8 916.3h0M2000 918.8h0M2001.1 918.1h0M2037.4 918.6h0M2027.8 919.9h0M2002.1 918.7h0M2022.9 919.9h0M2020.8 920.2h0M1997.4 920.9h0M2021.2 920.8h0M2027.2 921.7h0M1992.9 921.1h0M1982.6 920.6h0M2033.5 922.4h0M2031.5 923.3h0M2033.1 922.1h0M2011.7 922.3h0M2029.7 923.4h0M1991.6 924h0M2002.8 924.4h0M2029.7 924.7h0M2035.8 924.6h0M2035.2 924.7h0M2016.7 924.6h0M2018.9 924.1h0M2000.2 927.2h0M2031.6 927h0M2042.1 926.3h0M2026.8 926.8h0M1990.4 926.7h0M2001.7 927h0M2009.8 927.6h0M2003.5 929.5h0M2017.3 928.1h0M2033.4 929.8h0M2020.3 929h0M2039.1 930h0M2016.2 928.1h0M2011.6 928.4h0M2017.6 930.4h0M1980.1 931h0M2023.1 931h0M2032.6 932h0M2043.6 930.7h0M2006.9 931.2h0M1990.8 931.9h0M2043 932.8h0M2010.6 933h0M1982.7 932.5h0M2021.5 933.9h0M1979.9 932.7h0M2011.2 932.8h0M1994 932.3h0M1979.5 934.6h0M1979.9 935.8h0M2020.7 935h0M1998.1 935.4h0M1999.4 935.7h0M2034.7 934.5h0M2011.7 934.7h0M2044.3 934.5h0M1991.1 937.9h0M2018.9 937.5h0M2009.8 937.4h0M2005.5 937.1h0M2021.1 937.6h0M2041.4 937.3h0M2033.3 936.3h0M1989.8 937.8h0M2007.6 938.5h0M2013.7 938.6h0M2038.9 938.2h0M2033.3 939.9h0M2003.9 939.6h0M2018.7 938.5h0M2011.9 938.3h0M1997.1 938.1h0M2037.5 941h0M2036.1 940.9h0M1997 941h0M2000.8 941.9h0M1978 940.4h0M1990.9 941h0M2002.7 940.2h0M2018.2 941.8h0M1999.2 943h0M1992.7 942.1h0M1996.8 942.8h0M2029.8 942.8h0M2036.7 942.2h0M1997.4 942.4h0M2030.7 942.3h0M2014.9 943h0M2012.3 944.6h0M2041.9 945h0M1987 945.1h0M2011.5 944.2h0M1978.3 945h0M2025.7 944.7h0M2020.5 944.5h0M2026.4 945.6h0M2039.9 946.8h0M2002 946h0M2001.9 947.5h0M2029.5 946.9h0M2006.6 947.2h0M1979.3 947h0M2034.8 946.3h0M1981 947h0M2018.2 946.8h0M1976.5 951.8h0M1980.5 949.2h0M1984.5 947.8h0M1988.5 946.1h0M1992.5 949.8h0M1996.5 950.7h0M2000.5 944.6h0M2004.5 944.5h0M2008.5 943.7h0M2012.5 952h0M2016.5 946.4h0M2020.5 944.6h0M2024.5 950h0M2028.5 950.2h0M2032.5 948.4h0M2036.5 945h0M2040.5 950.5h0M2044.5 945.7h0M1976.9 945h0M2045.1 945h0M1976.4 948.5h0M2045.7 948.5h0M1976.8 952h0M2045.3 952h0M1974.3 955.5h0M2045.7 955.5h0M1975 959h0M2046.3 959h0M1976.1 962.5h0M2045.8 962.5h0M1976.5 966h0M2046.3 966h0M1976.9 969.5h0M2046.5 969.5h0M1976.9 973h0M2044.3 973h0M1976.7 976.5h0M2044.7 976.5h0M1976.7 980h0M2045.3 980h0M1976.1 983.5h0M2043.8 983.5h0M2028 1217h0"/>
<g class="hl">
<path class="h" stroke-width="3.2" d="M1985.6 945.2h0M2038 945.7h0M1979 947.2h0M1999 948.3h0M2011.7 950.6h0M2028.3 950.2h0M1987.4 951.4h0M2004.9 954.1h0M2010 953.1h0M2003.3 958.7h0M2025.3 958h0M1985.7 960.3h0M1983.1 963.1h0M2010.8 963.7h0M1979.3 970.4h0M2016.9 971.4h0M2005.2 974.8h0M1991.1 975h0M1997.3 977.2h0M2039.1 980.6h0"/>
<path class="h" stroke-width="4.8" d="M2015.4 946.4h0M1996.8 951h0M2013.4 951.9h0M2025.5 956.8h0M1981 955.4h0M2013.9 961.8h0M2038.3 965.5h0M2040.9 968.8h0M1981.1 984.6h0"/>
</g>
<path class="r" d="M2012.6 947.6h0M2012.9 900h0M2008.9 905.3h0M2008.4 953.4h0M2008.3 953.8h0"/>
</g>
<g class="tl" font-size="20">
<text transform="translate(1946 762.6) scale(0.94 1.1)">125000</text>
<text transform="translate(1946 858.6) scale(0.94 1.1)">100000</text>
<text transform="translate(1946 956.6) scale(0.94 1.1)">75000</text>
<text transform="translate(1946 1052.6) scale(0.94 1.1)">50000</text>
<text transform="translate(1946 1149.6) scale(0.94 1.1)">25000</text>
<text transform="translate(1946 1245.6) scale(0.94 1.1)">0</text>
</g>
<g class="ax"><path d="M2163 744V1241" stroke="#9e9e9e" stroke-width="4.224" fill="none"/>
<path d="M2160.6 1240.5H2269" stroke="#b0b0b0" stroke-width="5.224" fill="none"/>
<path d="M2216 1240.5v6.5" stroke="#9a9a9a" stroke-width="4"/>
<path d="M2163 766h-6M2163 920h-6M2163 1073h-6M2163 1226h-6" stroke="#8c8c8c" stroke-width="2.4"/></g>
<g class="pl">
<ellipse cx="2176.5" cy="922" rx="1.9" ry="11.0" fill="#6e1f18"/>
<ellipse cx="2255.5" cy="922" rx="1.9" ry="11.0" fill="#6e1f18"/>
<path d="M2216 1075V1216" stroke="#555" stroke-width="2.5"/>
<path d="M2179.5 774.5L2183.5 772.2L2187.5 774.4L2191.5 771.1L2195.5 772.8L2199.5 771.2L2203.5 767.6L2207.5 774.7L2211.5 774.1L2215.5 769.5L2219.5 773.2L2223.5 768.9L2227.5 769.7L2231.5 771.2L2235.5 770.2L2239.5 768.1L2243.5 772.3L2247.5 774.2L2251.5 770.7L2252.5 771L2252.5 1065L2251.5 1066.6L2247.5 1062L2243.5 1066.8L2239.5 1066.8L2235.5 1066.5L2231.5 1066.2L2227.5 1066.9L2223.5 1068.6L2219.5 1063.7L2215.5 1062.9L2211.5 1061.7L2207.5 1065.7L2203.5 1062.3L2199.5 1068.4L2195.5 1061.8L2191.5 1061.4L2187.5 1061.8L2183.5 1067.1L2179.5 1067.1Z" fill="#000"/>
<path d="M2179.5 1054L2183.5 1054L2187.5 1054L2191.5 1054L2195.5 1054L2199.5 1054L2203.5 1054L2207.5 1054L2211.5 1054L2215.5 1054L2219.5 1054L2223.5 1054L2227.5 1054L2231.5 1054L2235.5 1054L2239.5 1054L2243.5 1054L2247.5 1054L2251.5 1054L2252.5 1054L2252.5 1078L2251.5 1080L2247.5 1077.8L2243.5 1079.1L2239.5 1077.7L2235.5 1079.7L2231.5 1079.3L2227.5 1075L2223.5 1076.9L2219.5 1074.8L2215.5 1077.5L2211.5 1080.1L2207.5 1076.6L2203.5 1080.8L2199.5 1074.7L2195.5 1075.6L2191.5 1079L2187.5 1076.3L2183.5 1079.7L2179.5 1079.6Z" fill="#000"/>
<path class="d" stroke-width="5.0" d="M2181.4 768h0M2252.4 768h0M2181.9 771.5h0M2250.2 771.5h0M2179.9 775h0M2249.7 775h0M2182.3 778.5h0M2250.4 778.5h0M2180.5 782h0M2252 782h0M2180.2 785.5h0M2251.9 785.5h0M2179.3 789h0M2250.8 789h0M2179.3 792.5h0M2252.2 792.5h0M2180.1 796h0M2252.2 796h0M2181.7 799.5h0M2249.9 799.5h0M2180.2 803h0M2252.1 803h0M2181.5 806.5h0M2250.9 806.5h0M2179.6 810h0M2250.1 810h0M2180.4 813.5h0M2251.1 813.5h0M2181.4 817h0M2252.4 817h0M2181.5 820.5h0M2251.3 820.5h0M2180.9 824h0M2251.5 824h0M2179.4 827.5h0M2249.6 827.5h0M2181 831h0M2250.9 831h0M2182.1 834.5h0M2250.3 834.5h0M2180.3 838h0M2250.3 838h0M2181.4 841.5h0M2252.1 841.5h0M2179.5 845h0M2250.8 845h0M2181.4 848.5h0M2251.9 848.5h0M2181.7 852h0M2250 852h0M2181.6 855.5h0M2251 855.5h0M2182.1 859h0M2250.1 859h0M2182 862.5h0M2252.5 862.5h0M2181.2 866h0M2250.1 866h0M2180.3 869.5h0M2250.7 869.5h0M2182.1 873h0M2250.1 873h0M2180.6 876.5h0M2250.7 876.5h0M2181 880h0M2251.9 880h0M2179.3 883.5h0M2250.3 883.5h0M2179.5 887h0M2251.1 887h0M2181.3 890.5h0M2252.1 890.5h0M2181.6 894h0M2250 894h0M2182.5 897.5h0M2249.6 897.5h0M2179.8 901h0M2251.6 901h0M2181.3 904.5h0M2250.8 904.5h0M2181.4 908h0M2251 908h0M2180.2 911.5h0M2250.5 911.5h0M2180.6 915h0M2249.9 915h0M2181.6 918.5h0M2250.1 918.5h0M2181.1 922h0M2252.6 922h0M2181.9 925.5h0M2252.2 925.5h0M2179.8 929h0M2252.2 929h0M2179.2 932.5h0M2250.2 932.5h0M2180.1 936h0M2251.7 936h0M2182.4 939.5h0M2250.2 939.5h0M2180.8 943h0M2250.4 943h0M2181.6 946.5h0M2249.5 946.5h0M2182.2 950h0M2250.5 950h0M2179.8 953.5h0M2252.2 953.5h0M2181.6 957h0M2252.1 957h0M2182.1 960.5h0M2251 960.5h0M2180.6 964h0M2252.1 964h0M2180.8 967.5h0M2250.3 967.5h0M2181.2 971h0M2250.9 971h0M2181.7 974.5h0M2252.4 974.5h0M2181.8 978h0M2249.7 978h0M2181 981.5h0M2251 981.5h0M2179.4 985h0M2250.5 985h0M2179.2 988.5h0M2251.8 988.5h0M2179.9 992h0M2250.1 992h0M2182.1 995.5h0M2250.4 995.5h0M2181.5 999h0M2251.7 999h0M2181.3 1002.5h0M2249.8 1002.5h0M2179.9 1006h0M2252.2 1006h0M2180.5 1009.5h0M2250.5 1009.5h0M2180.8 1013h0M2249.6 1013h0M2181.5 1016.5h0M2252.1 1016.5h0M2182.4 1020h0M2250.5 1020h0M2181.5 1023.5h0M2252.6 1023.5h0M2182 1027h0M2251 1027h0M2182.4 1030.5h0M2251.3 1030.5h0M2181.1 1034h0M2251.4 1034h0M2179.8 1037.5h0M2250.8 1037.5h0M2180.9 1041h0M2252.1 1041h0M2181.1 1044.5h0M2250.6 1044.5h0M2182.4 1048h0M2249.8 1048h0M2179.8 1051.5h0M2250.7 1051.5h0M2182.4 1055h0M2251 1055h0M2180.5 1058.5h0M2252.2 1058.5h0M2180 1062h0M2252.1 1062h0M2179.5 1065.5h0M2251.5 1065.5h0M2181.5 776.8h0M2185.5 773.3h0M2189.5 774.3h0M2193.5 770.8h0M2197.5 774.6h0M2201.5 771.1h0M2205.5 769.9h0M2209.5 775.2h0M2213.5 773.5h0M2217.5 771.1h0M2221.5 774.8h0M2225.5 770.2h0M2229.5 768.7h0M2233.5 771.5h0M2237.5 770.9h0M2241.5 770.3h0M2245.5 771.7h0M2249.5 774.7h0M2253.5 770.9h0M2181.5 1065.9h0M2185.5 1066.5h0M2189.5 1061.7h0M2193.5 1060.7h0M2197.5 1060.9h0M2201.5 1069.2h0M2205.5 1062.2h0M2209.5 1065.8h0M2213.5 1061.8h0M2217.5 1062.7h0M2221.5 1063.7h0M2225.5 1068.3h0M2229.5 1065.5h0M2233.5 1066.4h0M2237.5 1064.2h0M2241.5 1067.5h0M2245.5 1066.7h0M2249.5 1060.5h0M2253.5 1065.3h0M2181.5 1079.8h0M2185.5 1078.6h0M2189.5 1076.9h0M2193.5 1079.2h0M2197.5 1076.2h0M2201.5 1073.3h0M2205.5 1081.2h0M2209.5 1076.7h0M2213.5 1078.1h0M2217.5 1076.7h0M2221.5 1074.2h0M2225.5 1076.8h0M2229.5 1074.2h0M2233.5 1077.6h0M2237.5 1079.5h0M2241.5 1078.2h0M2245.5 1079.5h0M2249.5 1076.4h0M2253.5 1079.3h0M2182.3 1064h0M2250.2 1064h0M2181.6 1067.5h0M2250.8 1067.5h0M2180.1 1071h0M2251.9 1071h0M2180.3 1074.5h0M2250.2 1074.5h0M2180.7 1078h0M2250.9 1078h0M2181.2 1081.1h0M2224.1 1081.3h0M2192.3 1080.1h0M2183.7 1081.1h0M2183.2 1080.4h0M2215.9 1080.8h0M2229.1 1080.3h0M2217.2 1080.8h0M2245 1083.9h0M2249 1082.5h0M2182.2 1083.4h0M2244.5 1082.7h0M2201.6 1083.6h0M2219.8 1083.2h0M2231 1083h0M2220 1085.5h0M2181.3 1085h0M2244.7 1085h0M2229.6 1085.1h0M2246.7 1084.2h0M2200.5 1084.3h0M2249.7 1086.4h0M2200.8 1086.5h0M2223.5 1087.4h0M2198.6 1087.7h0M2212.6 1087h0M2206.4 1086.9h0M2183.3 1089.9h0M2201 1088.7h0M2250 1088.6h0M2187.1 1089.7h0M2208.9 1089.3h0M2201.7 1088.3h0M2196.1 1089.5h0M2227.6 1091.5h0M2221.1 1091.4h0M2194.2 1090.4h0M2211.5 1091.7h0M2196.4 1091.6h0M2239.2 1091.5h0M2189.6 1093.6h0M2196.1 1092h0M2221.9 1093.4h0M2239 1093.4h0M2222.9 1092.7h0M2246.3 1092.5h0M2188.4 1095.2h0M2229.3 1095h0M2207.1 1094.1h0M2225.6 1094.1h0M2234.4 1095.2h0M2227.4 1097.5h0M2200.5 1097.9h0M2222.1 1097.1h0M2207.8 1097.7h0M2225.4 1097.1h0M2236.3 1100h0M2194.5 1099.9h0M2200.6 1098.9h0M2232.6 1099.6h0M2204.8 1098.6h0M2214.6 1100.8h0M2201.8 1100h0M2246.7 1100.7h0M2245.4 1101.3h0M2188.3 1100.4h0M2194.5 1102.2h0M2234.9 1103h0M2191.3 1103h0M2228.8 1103.7h0M2211.4 1102.4h0M2222.4 1105.1h0M2251.1 1104.5h0M2184.3 1105.1h0M2229.8 1104.5h0M2200.1 1104.4h0M2198.6 1105h0M2239.5 1106.5h0M2202.9 1105.7h0M2199.2 1108.4h0M2245.5 1107.6h0M2236.2 1107.6h0M2190.8 1109.3h0M2229.9 1109.7h0M2241.3 1111.3h0M2196.5 1112.2h0M2197.2 1111.9h0M2225.6 1114.3h0M2183.9 1114.6h0M2247.1 1113.6h0M2202.4 1116.8h0M2248.3 1116.4h0M2205 1117.4h0M2243.1 1118.9h0M2245.7 1119.7h0M2186.3 1120h0M2222.7 1122.7h0M2209.7 1124h0M2197.6 1123.8h0M2245.9 1126.2h0M2203.5 1128.3h0M2185.9 1131h0M2183.7 1131h0M2209.2 1132.5h0M2247.5 1134.5h0M2194 1144h0M2230 1137h0M2216 1194h0M2233 1198h0M2216 1216h0"/>
<g class="hl">
<path class="h" stroke-width="3.2" d="M2186.9 1071.1h0M2239.8 1070.5h0M2193 1075.3h0M2200.5 1075h0M2195.1 1077.7h0M2208.8 1077.9h0M2234.4 1077.9h0M2212.1 1079.5h0M2202.3 1078.9h0M2235.2 1078.6h0"/>
<path class="h" stroke-width="4.8" d="M2206.7 1068.3h0M2185.9 1072.4h0M2241.2 1073.5h0M2246.2 1075.7h0"/>
</g>
<path class="r" d="M2215.4 1073.2h0M2216.4 1086.9h0"/>
</g>
<g class="tl" font-size="20">
<text transform="translate(2152 773.6) scale(0.94 1.1)">6</text>
<text transform="translate(2152 927.6) scale(0.94 1.1)">4</text>
<text transform="translate(2152 1080.6) scale(0.94 1.1)">2</text>
<text transform="translate(2152 1233.6) scale(0.94 1.1)">0</text>
</g>
<g class="pl"><rect x="290" y="97" width="570" height="9" fill="#fcfcfc"/><rect x="403" y="96.5" width="16" height="3.4" fill="#4a4a4a"/><rect x="597" y="96.5" width="17.5" height="3.4" fill="#4a4a4a"/><rect x="728" y="96.5" width="5" height="2.6" fill="#4a4a4a"/><rect x="1110" y="745" width="16" height="2.4" fill="#ddd"/><rect x="1308" y="745" width="16" height="2.4" fill="#ddd"/><rect x="1438" y="745" width="5" height="2.4" fill="#ddd"/><rect x="1697" y="90.6" width="34" height="1.6" fill="#aaa"/></g>
<clipPath id="c12"><rect x="1683" y="78" width="14.5" height="16"/><rect x="1697.5" y="90" width="36" height="4"/></clipPath><g class="tl" font-size="16" clip-path="url(#c12)"><text x="1731" y="92.5">12000</text></g>
<g class="big">
<text x="293" y="72" font-size="56" textLength="155" lengthAdjust="spacingAndGlyphs">nGenes</text>
<text x="471" y="72" font-size="56" textLength="165" lengthAdjust="spacingAndGlyphs">nCounts</text>
<text x="649" y="72" font-size="56" textLength="211" lengthAdjust="spacingAndGlyphs">percent.mt</text>
<text x="1024" y="65.7" font-size="56" textLength="155" lengthAdjust="spacingAndGlyphs">nGenes</text>
<text x="1203" y="65.7" font-size="56" textLength="165" lengthAdjust="spacingAndGlyphs">nCounts</text>
<text x="1380.6" y="65.7" font-size="56" textLength="210.4" lengthAdjust="spacingAndGlyphs">percent.mt</text>
<text x="1728" y="65.7" font-size="56" textLength="155" lengthAdjust="spacingAndGlyphs">nGenes</text>
<text x="1908" y="65.7" font-size="56" textLength="165" lengthAdjust="spacingAndGlyphs">nCounts</text>
<text x="2084.6" y="65.7" font-size="56" textLength="210.4" lengthAdjust="spacingAndGlyphs">percent.mt</text>
<text x="37" y="301" font-size="54.5" textLength="131" lengthAdjust="spacingAndGlyphs">Before</text>
<text x="31" y="365.8" font-size="54.5" textLength="143" lengthAdjust="spacingAndGlyphs">filtering</text>
<text x="56" y="943.8" font-size="54.5" textLength="95" lengthAdjust="spacingAndGlyphs">After</text>
<text x="31" y="1007.7" font-size="54.5" textLength="143" lengthAdjust="spacingAndGlyphs">filtering</text>
<text x="556" y="1350" font-size="54.5" textLength="57" lengthAdjust="spacingAndGlyphs">N8</text>
<text x="1273" y="1350" font-size="54.5" textLength="59" lengthAdjust="spacingAndGlyphs">N7</text>
<text x="1982" y="1350" font-size="54.5" textLength="58" lengthAdjust="spacingAndGlyphs">N5</text>
</g>
</svg></body></html>
